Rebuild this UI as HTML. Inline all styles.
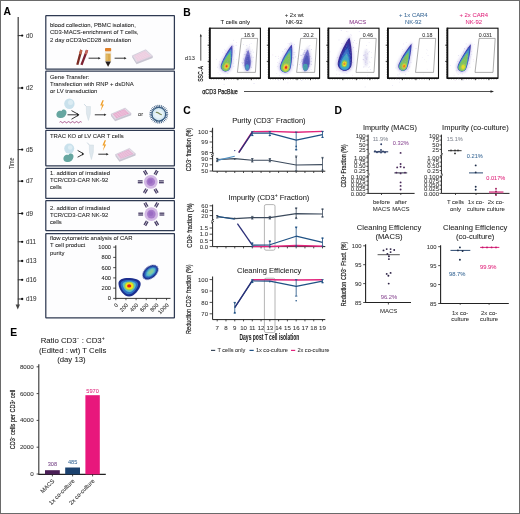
<!DOCTYPE html><html><head><meta charset="utf-8"><style>html,body{margin:0;padding:0;background:#fff;}svg{display:block;will-change:transform;}text{font-family:"Liberation Sans",sans-serif;}</style></head><body>
<svg width="520" height="514" viewBox="0 0 520 514">
<defs>
<filter id="bl" x="-50%" y="-50%" width="200%" height="200%"><feGaussianBlur stdDeviation="0.8"/></filter>
<filter id="bl2" x="-50%" y="-50%" width="200%" height="200%"><feGaussianBlur stdDeviation="0.5"/></filter>
<filter id="bl3" x="-50%" y="-50%" width="200%" height="200%"><feGaussianBlur stdDeviation="1.2"/></filter>
</defs>
<rect x="0" y="0" width="520" height="514" fill="#fff"/>
<text x="3.6" y="15.3" font-size="10.3" fill="#000" text-anchor="start" font-weight="bold"  stroke="#000" stroke-width="0.06">A</text>
<text x="183.2" y="15.6" font-size="10.3" fill="#000" text-anchor="start" font-weight="bold"  stroke="#000" stroke-width="0.06">B</text>
<text x="183.2" y="114" font-size="10.3" fill="#000" text-anchor="start" font-weight="bold"  stroke="#000" stroke-width="0.06">C</text>
<text x="334.6" y="114.2" font-size="10.3" fill="#000" text-anchor="start" font-weight="bold"  stroke="#000" stroke-width="0.06">D</text>
<text x="10.2" y="335.6" font-size="10.3" fill="#000" text-anchor="start" font-weight="bold"  stroke="#000" stroke-width="0.06">E</text>
<line x1="18.2" y1="17" x2="18.2" y2="306" stroke="#4a4a4a" stroke-width="1.3" />
<path d="M15.6,304.5 L20,304.5 L17.8,309.5 Z" fill="#444"/>
<line x1="17.8" y1="35.6" x2="22" y2="35.6" stroke="#333" stroke-width="1" />
<circle cx="22.2" cy="35.6" r="1.15" fill="#111"/>
<text x="25.9" y="37.800000000000004" font-size="6.3" fill="#333" text-anchor="start" font-weight="normal"  stroke="#333" stroke-width="0.06">d0</text>
<line x1="17.8" y1="88" x2="22" y2="88" stroke="#333" stroke-width="1" />
<circle cx="22.2" cy="88" r="1.15" fill="#111"/>
<text x="25.9" y="90.2" font-size="6.3" fill="#333" text-anchor="start" font-weight="normal"  stroke="#333" stroke-width="0.06">d2</text>
<line x1="17.8" y1="149.6" x2="22" y2="149.6" stroke="#333" stroke-width="1" />
<circle cx="22.2" cy="149.6" r="1.15" fill="#111"/>
<text x="25.9" y="151.79999999999998" font-size="6.3" fill="#333" text-anchor="start" font-weight="normal"  stroke="#333" stroke-width="0.06">d5</text>
<line x1="17.8" y1="181.2" x2="22" y2="181.2" stroke="#333" stroke-width="1" />
<circle cx="22.2" cy="181.2" r="1.15" fill="#111"/>
<text x="25.9" y="183.39999999999998" font-size="6.3" fill="#333" text-anchor="start" font-weight="normal"  stroke="#333" stroke-width="0.06">d7</text>
<line x1="17.8" y1="213.5" x2="22" y2="213.5" stroke="#333" stroke-width="1" />
<circle cx="22.2" cy="213.5" r="1.15" fill="#111"/>
<text x="25.9" y="215.7" font-size="6.3" fill="#333" text-anchor="start" font-weight="normal"  stroke="#333" stroke-width="0.06">d9</text>
<line x1="17.8" y1="241.8" x2="22" y2="241.8" stroke="#333" stroke-width="1" />
<circle cx="22.2" cy="241.8" r="1.15" fill="#111"/>
<text x="25.9" y="244.0" font-size="6.3" fill="#333" text-anchor="start" font-weight="normal"  stroke="#333" stroke-width="0.06">d11</text>
<line x1="17.8" y1="261" x2="22" y2="261" stroke="#333" stroke-width="1" />
<circle cx="22.2" cy="261" r="1.15" fill="#111"/>
<text x="25.9" y="263.2" font-size="6.3" fill="#333" text-anchor="start" font-weight="normal"  stroke="#333" stroke-width="0.06">d13</text>
<line x1="17.8" y1="279.8" x2="22" y2="279.8" stroke="#333" stroke-width="1" />
<circle cx="22.2" cy="279.8" r="1.15" fill="#111"/>
<text x="25.9" y="282.0" font-size="6.3" fill="#333" text-anchor="start" font-weight="normal"  stroke="#333" stroke-width="0.06">d16</text>
<line x1="17.8" y1="299" x2="22" y2="299" stroke="#333" stroke-width="1" />
<circle cx="22.2" cy="299" r="1.15" fill="#111"/>
<text x="25.9" y="301.2" font-size="6.3" fill="#333" text-anchor="start" font-weight="normal"  stroke="#333" stroke-width="0.06">d19</text>
<text x="13.6" y="163.2" font-size="7.2" fill="#333" text-anchor="middle" transform="rotate(-90 13.6 163.2)" textLength="11.4" lengthAdjust="spacingAndGlyphs" stroke="#333" stroke-width="0.06">Time</text>
<rect x="45.8" y="15.6" width="128.6" height="53.6" rx="0.4" fill="#fdfdfe" stroke="#2f3a52" stroke-width="1.25"/>
<rect x="45.8" y="71.2" width="128.6" height="57.2" rx="0.4" fill="#fdfdfe" stroke="#2f3a52" stroke-width="1.25"/>
<rect x="45.8" y="130.4" width="128.6" height="35.5" rx="0.4" fill="#fdfdfe" stroke="#2f3a52" stroke-width="1.25"/>
<rect x="45.8" y="168.3" width="128.6" height="30.0" rx="0.4" fill="#fdfdfe" stroke="#2f3a52" stroke-width="1.25"/>
<rect x="45.8" y="200.6" width="128.6" height="30.099999999999994" rx="0.4" fill="#fdfdfe" stroke="#2f3a52" stroke-width="1.25"/>
<rect x="45.8" y="233.6" width="128.6" height="84.20000000000002" rx="0.4" fill="#fdfdfe" stroke="#2f3a52" stroke-width="1.25"/>
<text x="50" y="27.0" font-size="5.9" fill="#222" text-anchor="start" font-weight="normal"  stroke="#222" stroke-width="0.06">blood collection, PBMC isolation,</text>
<text x="50" y="34.3" font-size="5.9" fill="#222" text-anchor="start" font-weight="normal"  stroke="#222" stroke-width="0.06">CD3-MACS-enrichment of T cells,</text>
<text x="50" y="41.6" font-size="5.9" fill="#222" text-anchor="start" font-weight="normal"  stroke="#222" stroke-width="0.06">2 day αCD3/αCD28 stimulation</text>
<text x="50" y="78.7" font-size="5.9" fill="#222" text-anchor="start" font-weight="normal"  stroke="#222" stroke-width="0.06">Gene Transfer:</text>
<text x="50" y="85.60000000000001" font-size="5.9" fill="#222" text-anchor="start" font-weight="normal"  stroke="#222" stroke-width="0.06">Transfection with RNP + dsDNA</text>
<text x="50" y="92.5" font-size="5.9" fill="#222" text-anchor="start" font-weight="normal"  stroke="#222" stroke-width="0.06">or LV transduction</text>
<text x="50" y="137.7" font-size="5.9" fill="#222" text-anchor="start" font-weight="normal"  stroke="#222" stroke-width="0.06">TRAC KO of LV CAR T cells</text>
<text x="50" y="175.2" font-size="5.9" fill="#222" text-anchor="start" font-weight="normal"  stroke="#222" stroke-width="0.06">1. addition of irradiated</text>
<text x="50" y="182.29999999999998" font-size="5.9" fill="#222" text-anchor="start" font-weight="normal"  stroke="#222" stroke-width="0.06">TCR/CD3-CAR NK-92</text>
<text x="50" y="189.39999999999998" font-size="5.9" fill="#222" text-anchor="start" font-weight="normal"  stroke="#222" stroke-width="0.06">cells</text>
<text x="50" y="209.5" font-size="5.9" fill="#222" text-anchor="start" font-weight="normal"  stroke="#222" stroke-width="0.06">2. addition of irradiated</text>
<text x="50" y="216.5" font-size="5.9" fill="#222" text-anchor="start" font-weight="normal"  stroke="#222" stroke-width="0.06">TCR/CD3-CAR NK-92</text>
<text x="50" y="223.5" font-size="5.9" fill="#222" text-anchor="start" font-weight="normal"  stroke="#222" stroke-width="0.06">cells</text>
<text x="50" y="240.3" font-size="5.9" fill="#222" text-anchor="start" font-weight="normal"  stroke="#222" stroke-width="0.06">flow cytometric analysis of CAR</text>
<text x="50" y="247.4" font-size="5.9" fill="#222" text-anchor="start" font-weight="normal"  stroke="#222" stroke-width="0.06">T cell product</text>
<text x="50" y="254.5" font-size="5.9" fill="#222" text-anchor="start" font-weight="normal"  stroke="#222" stroke-width="0.06">purity</text>
<g>
<path d="M80.2,49.6 L82.4,50.4 L78.4,65 L76.2,64.4 Z" fill="#7a2a22"/>
<path d="M80.2,49.6 L82.4,50.4 L81.2,54.4 L79.0,53.7 Z" fill="#c4664a"/>
<path d="M86.0,49.8 L88.2,50.6 L82.6,65.2 L80.4,64.6 Z" fill="#7e2232"/>
<path d="M86.0,49.8 L88.2,50.6 L87.0,54.6 L84.8,53.9 Z" fill="#c86a5e"/>
</g>
<line x1="88.6" y1="58.2" x2="99.1" y2="58.2" stroke="#222" stroke-width="0.9" />
<path d="M98.39999999999999,57.0 L100.6,58.2 L98.39999999999999,59.400000000000006 Z" fill="#222"/>
<path d="M105.3,51 L110.9,51 L110.9,61.6 L108.1,66.6 L105.3,61.6 Z" fill="#f3ebdc" stroke="#d9cdb8" stroke-width="0.3"/>
<rect x="105.6" y="53.6" width="5" height="7.6" fill="#d6a23e" opacity="0.9"/>
<rect x="106.4" y="54.4" width="1.2" height="6" fill="#e9c77a" opacity="0.8"/>
<path d="M105.3,61.4 L110.9,61.4 L108.1,66.8 Z" fill="#231c1c"/>
<rect x="105.0" y="48.0" width="6.2" height="3.2" rx="0.8" fill="#e0802a"/>
<line x1="114.6" y1="58.2" x2="125.0" y2="58.2" stroke="#222" stroke-width="0.9" />
<path d="M124.3,57.0 L126.5,58.2 L124.3,59.400000000000006 Z" fill="#222"/>
<path d="M132.3,55.8 L136.5,62.5 L152.7,56.2 L152.7,58.0 L136.5,64.3 L132.3,57.599999999999994 Z" fill="#c9c6d2" opacity="1"/>
<path d="M132.3,55.8 L145.8,49.7 L152.7,56.2 L136.5,62.5 Z" fill="#e4dbe6" stroke="#bdb5c8" stroke-width="0.5" opacity="1"/>
<path d="M134.21,55.85 L145.00,50.97 L150.52,56.17 L137.56,61.21 Z" fill="#ecccdf" opacity="1"/>
<line x1="136.00" y1="55.04" x2="139.72" y2="60.37" stroke="#f3dcea" stroke-width="0.35"/>
<line x1="137.81" y1="54.22" x2="141.88" y2="59.53" stroke="#f3dcea" stroke-width="0.35"/>
<line x1="139.61" y1="53.41" x2="144.04" y2="58.69" stroke="#f3dcea" stroke-width="0.35"/>
<line x1="141.41" y1="52.60" x2="146.20" y2="57.85" stroke="#f3dcea" stroke-width="0.35"/>
<line x1="143.20" y1="51.78" x2="148.36" y2="57.01" stroke="#f3dcea" stroke-width="0.35"/>
<line x1="135.05" y1="57.19" x2="146.38" y2="52.27" stroke="#f3dcea" stroke-width="0.35"/>
<line x1="135.88" y1="58.53" x2="147.76" y2="53.57" stroke="#f3dcea" stroke-width="0.35"/>
<line x1="136.72" y1="59.87" x2="149.14" y2="54.87" stroke="#f3dcea" stroke-width="0.35"/>
<circle cx="69.4" cy="103.7" r="5.2" fill="#c9e1ec"/>
<circle cx="70.5" cy="102.5" r="2.5" fill="#dcecf3"/>
<path d="M56.5,115.5 C56,112 59,110 61.5,111 C63,108.5 67,109.5 66.5,113 C66,116.5 63,118.5 60,118 C58,117.8 56.8,117 56.5,115.5 Z" fill="#66a6a0"/>
<path d="M59.6,122.2 q1,-1.2 2,0 t2,0 t2,0 t2,0 t2,0 t2,0 t2,0 t2,0 t2,0 t2,0 t2,0" fill="none" stroke="#a24a84" stroke-width="0.95"/>
<line x1="67.5" y1="114.8" x2="78.6" y2="114.8" stroke="#222" stroke-width="0.9" />
<line x1="71.5" y1="110.6" x2="78.4" y2="114.4" stroke="#222" stroke-width="0.9" />
<line x1="71.5" y1="119.2" x2="78.4" y2="115.2" stroke="#222" stroke-width="0.9" />
<path d="M77,113.2 L79.4,114.8 L77,116.4 Z" fill="#222"/>
<path d="M86.3,106.5 L90.5,106.5 L90.3,114 L88.4,120.5 L86.5,114 Z" fill="#dfe8ee" stroke="#c5d3dc" stroke-width="0.4"/>
<path d="M86.3,106.5 L84.2,104.2" stroke="#c5d3dc" stroke-width="0.9"/>
<path d="M102.4,100.2 L100.2,105.6 L102,105.6 L100.6,111 L104,104.6 L102.2,104.6 L103.8,100.2 Z" fill="#f0a02c"/>
<line x1="94.8" y1="114.8" x2="104.9" y2="114.8" stroke="#222" stroke-width="0.9" />
<path d="M104.2,113.6 L106.4,114.8 L104.2,116.0 Z" fill="#222"/>
<path d="M111,114.2 L115.1,119.4 L131.2,113.5 L131.2,115.3 L115.1,121.2 L111,116.0 Z" fill="#c9c6d2" opacity="1"/>
<path d="M111,114.2 L125.2,108.1 L131.2,113.5 L115.1,119.4 Z" fill="#e4dbe6" stroke="#bdb5c8" stroke-width="0.5" opacity="1"/>
<path d="M112.92,114.12 L124.28,109.24 L129.08,113.56 L116.20,118.28 Z" fill="#e6a6cb" opacity="1"/>
<line x1="114.82" y1="113.31" x2="118.35" y2="117.49" stroke="#f3dcea" stroke-width="0.35"/>
<line x1="116.71" y1="112.49" x2="120.50" y2="116.71" stroke="#f3dcea" stroke-width="0.35"/>
<line x1="118.60" y1="111.68" x2="122.64" y2="115.92" stroke="#f3dcea" stroke-width="0.35"/>
<line x1="120.50" y1="110.87" x2="124.79" y2="115.13" stroke="#f3dcea" stroke-width="0.35"/>
<line x1="122.39" y1="110.05" x2="126.94" y2="114.35" stroke="#f3dcea" stroke-width="0.35"/>
<line x1="113.75" y1="115.16" x2="125.48" y2="110.32" stroke="#f3dcea" stroke-width="0.35"/>
<line x1="114.56" y1="116.20" x2="126.68" y2="111.40" stroke="#f3dcea" stroke-width="0.35"/>
<line x1="115.38" y1="117.24" x2="127.88" y2="112.48" stroke="#f3dcea" stroke-width="0.35"/>
<text x="140.6" y="116.2" font-size="5.6" fill="#333" text-anchor="middle" font-weight="normal"  stroke="#333" stroke-width="0.06">or</text>
<line x1="165.4" y1="114.2" x2="168.2" y2="114.2" stroke="#3d5f84" stroke-width="0.95" />
<line x1="165.26" y1="115.57" x2="167.99" y2="116.15" stroke="#3d5f84" stroke-width="0.95" />
<line x1="164.83" y1="116.88" x2="167.39" y2="118.02" stroke="#3d5f84" stroke-width="0.95" />
<line x1="164.14" y1="118.08" x2="166.4" y2="119.73" stroke="#3d5f84" stroke-width="0.95" />
<line x1="163.22" y1="119.1" x2="165.09" y2="121.19" stroke="#3d5f84" stroke-width="0.95" />
<line x1="162.1" y1="119.92" x2="163.5" y2="122.34" stroke="#3d5f84" stroke-width="0.95" />
<line x1="160.84" y1="120.48" x2="161.7" y2="123.14" stroke="#3d5f84" stroke-width="0.95" />
<line x1="159.49" y1="120.76" x2="159.78" y2="123.55" stroke="#3d5f84" stroke-width="0.95" />
<line x1="158.11" y1="120.76" x2="157.82" y2="123.55" stroke="#3d5f84" stroke-width="0.95" />
<line x1="156.76" y1="120.48" x2="155.9" y2="123.14" stroke="#3d5f84" stroke-width="0.95" />
<line x1="155.5" y1="119.92" x2="154.1" y2="122.34" stroke="#3d5f84" stroke-width="0.95" />
<line x1="154.38" y1="119.1" x2="152.51" y2="121.19" stroke="#3d5f84" stroke-width="0.95" />
<line x1="153.46" y1="118.08" x2="151.2" y2="119.73" stroke="#3d5f84" stroke-width="0.95" />
<line x1="152.77" y1="116.88" x2="150.21" y2="118.02" stroke="#3d5f84" stroke-width="0.95" />
<line x1="152.34" y1="115.57" x2="149.61" y2="116.15" stroke="#3d5f84" stroke-width="0.95" />
<line x1="152.2" y1="114.2" x2="149.4" y2="114.2" stroke="#3d5f84" stroke-width="0.95" />
<line x1="152.34" y1="112.83" x2="149.61" y2="112.25" stroke="#3d5f84" stroke-width="0.95" />
<line x1="152.77" y1="111.52" x2="150.21" y2="110.38" stroke="#3d5f84" stroke-width="0.95" />
<line x1="153.46" y1="110.32" x2="151.2" y2="108.67" stroke="#3d5f84" stroke-width="0.95" />
<line x1="154.38" y1="109.3" x2="152.51" y2="107.21" stroke="#3d5f84" stroke-width="0.95" />
<line x1="155.5" y1="108.48" x2="154.1" y2="106.06" stroke="#3d5f84" stroke-width="0.95" />
<line x1="156.76" y1="107.92" x2="155.9" y2="105.26" stroke="#3d5f84" stroke-width="0.95" />
<line x1="158.11" y1="107.64" x2="157.82" y2="104.85" stroke="#3d5f84" stroke-width="0.95" />
<line x1="159.49" y1="107.64" x2="159.78" y2="104.85" stroke="#3d5f84" stroke-width="0.95" />
<line x1="160.84" y1="107.92" x2="161.7" y2="105.26" stroke="#3d5f84" stroke-width="0.95" />
<line x1="162.1" y1="108.48" x2="163.5" y2="106.06" stroke="#3d5f84" stroke-width="0.95" />
<line x1="163.22" y1="109.3" x2="165.09" y2="107.21" stroke="#3d5f84" stroke-width="0.95" />
<line x1="164.14" y1="110.32" x2="166.4" y2="108.67" stroke="#3d5f84" stroke-width="0.95" />
<line x1="164.83" y1="111.52" x2="167.39" y2="110.38" stroke="#3d5f84" stroke-width="0.95" />
<line x1="165.26" y1="112.83" x2="167.99" y2="112.25" stroke="#3d5f84" stroke-width="0.95" />
<circle cx="158.8" cy="114.2" r="6.8" fill="#d6eaf3" stroke="#3a5d82" stroke-width="1.2"/>
<circle cx="158.8" cy="114.2" r="4.4" fill="#e8f3f8"/>
<path d="M155.8,112.60000000000001 q1.5,-0.6 3,0.6 t3,1.6" fill="none" stroke="#7b8a5a" stroke-width="1.1"/>
<circle cx="69.2" cy="148.6" r="5" fill="#c9e1ec"/>
<circle cx="70.2" cy="147.5" r="2.3" fill="#dcecf3"/>
<path d="M63.5,159.5 C63,156 66,154 68.5,155 C70,152.5 74,153.5 73.5,157 C73,160.5 70,162.5 67,162 C65,161.8 63.8,161 63.5,159.5 Z" fill="#66a6a0"/>
<line x1="77.6" y1="150.4" x2="83.2" y2="153.6" stroke="#222" stroke-width="0.9" />
<line x1="77.6" y1="157.2" x2="83.2" y2="154.2" stroke="#222" stroke-width="0.9" />
<path d="M82,152.4 L84.2,153.9 L82,155.4 Z" fill="#222"/>
<path d="M89.3,145 L93.5,145 L93.3,152.5 L91.4,159.5 L89.5,152.5 Z" fill="#dfe8ee" stroke="#c5d3dc" stroke-width="0.4"/>
<path d="M89.3,145 L87.2,142.6" stroke="#c5d3dc" stroke-width="0.9"/>
<path d="M104.6,140.2 L102.4,145.6 L104.2,145.6 L102.8,151 L106.2,144.6 L104.4,144.6 L106,140.2 Z" fill="#f0a02c"/>
<line x1="98.3" y1="154.2" x2="107.1" y2="154.2" stroke="#222" stroke-width="0.9" />
<path d="M106.39999999999999,153.0 L108.6,154.2 L106.39999999999999,155.39999999999998 Z" fill="#222"/>
<path d="M115.5,154.5 L119.5,160 L135.5,153.8 L135.5,155.60000000000002 L119.5,161.8 L115.5,156.3 Z" fill="#c9c6d2" opacity="1"/>
<path d="M115.5,154.5 L129.5,148.4 L135.5,153.8 L119.5,160 Z" fill="#e4dbe6" stroke="#bdb5c8" stroke-width="0.5" opacity="1"/>
<path d="M117.40,154.44 L128.60,149.56 L133.40,153.88 L120.60,158.84 Z" fill="#e3aed0" opacity="1"/>
<line x1="119.27" y1="153.62" x2="122.73" y2="158.01" stroke="#f3dcea" stroke-width="0.35"/>
<line x1="121.13" y1="152.81" x2="124.87" y2="157.18" stroke="#f3dcea" stroke-width="0.35"/>
<line x1="123.00" y1="152.00" x2="127.00" y2="156.36" stroke="#f3dcea" stroke-width="0.35"/>
<line x1="124.87" y1="151.18" x2="129.13" y2="155.53" stroke="#f3dcea" stroke-width="0.35"/>
<line x1="126.73" y1="150.37" x2="131.27" y2="154.70" stroke="#f3dcea" stroke-width="0.35"/>
<line x1="118.20" y1="155.53" x2="129.80" y2="150.63" stroke="#f3dcea" stroke-width="0.35"/>
<line x1="119.00" y1="156.63" x2="131.00" y2="151.72" stroke="#f3dcea" stroke-width="0.35"/>
<line x1="119.80" y1="157.74" x2="132.20" y2="152.80" stroke="#f3dcea" stroke-width="0.35"/>
<line x1="159.0" y1="180.9" x2="163.8" y2="180.9" stroke="#463c64" stroke-width="1.3" />
<line x1="159.0" y1="182.7" x2="163.8" y2="182.7" stroke="#463c64" stroke-width="1.3" />
<line x1="155.68" y1="188.45" x2="158.08" y2="192.61" stroke="#463c64" stroke-width="1.3" />
<line x1="154.12" y1="189.35" x2="156.52" y2="193.51" stroke="#463c64" stroke-width="1.3" />
<line x1="147.48" y1="189.35" x2="145.08" y2="193.51" stroke="#463c64" stroke-width="1.3" />
<line x1="145.92" y1="188.45" x2="143.52" y2="192.61" stroke="#463c64" stroke-width="1.3" />
<line x1="142.6" y1="182.7" x2="137.8" y2="182.7" stroke="#463c64" stroke-width="1.3" />
<line x1="142.6" y1="180.9" x2="137.8" y2="180.9" stroke="#463c64" stroke-width="1.3" />
<line x1="145.92" y1="175.15" x2="143.52" y2="170.99" stroke="#463c64" stroke-width="1.3" />
<line x1="147.48" y1="174.25" x2="145.08" y2="170.09" stroke="#463c64" stroke-width="1.3" />
<line x1="154.12" y1="174.25" x2="156.52" y2="170.09" stroke="#463c64" stroke-width="1.3" />
<line x1="155.68" y1="175.15" x2="158.08" y2="170.99" stroke="#463c64" stroke-width="1.3" />
<circle cx="150.8" cy="181.8" r="6.9" fill="#d2b8e4"/>
<circle cx="150.8" cy="181.8" r="4.3" fill="#a87ccb"/>
<circle cx="150.3" cy="181.4" r="2.4" fill="#9464bf" opacity="0.7"/>
<line x1="159.5" y1="213.2" x2="164.3" y2="213.2" stroke="#463c64" stroke-width="1.3" />
<line x1="159.5" y1="215.0" x2="164.3" y2="215.0" stroke="#463c64" stroke-width="1.3" />
<line x1="156.18" y1="220.75" x2="158.58" y2="224.91" stroke="#463c64" stroke-width="1.3" />
<line x1="154.62" y1="221.65" x2="157.02" y2="225.81" stroke="#463c64" stroke-width="1.3" />
<line x1="147.98" y1="221.65" x2="145.58" y2="225.81" stroke="#463c64" stroke-width="1.3" />
<line x1="146.42" y1="220.75" x2="144.02" y2="224.91" stroke="#463c64" stroke-width="1.3" />
<line x1="143.1" y1="215.0" x2="138.3" y2="215.0" stroke="#463c64" stroke-width="1.3" />
<line x1="143.1" y1="213.2" x2="138.3" y2="213.2" stroke="#463c64" stroke-width="1.3" />
<line x1="146.42" y1="207.45" x2="144.02" y2="203.29" stroke="#463c64" stroke-width="1.3" />
<line x1="147.98" y1="206.55" x2="145.58" y2="202.39" stroke="#463c64" stroke-width="1.3" />
<line x1="154.62" y1="206.55" x2="157.02" y2="202.39" stroke="#463c64" stroke-width="1.3" />
<line x1="156.18" y1="207.45" x2="158.58" y2="203.29" stroke="#463c64" stroke-width="1.3" />
<circle cx="151.3" cy="214.1" r="6.9" fill="#d2b8e4"/>
<circle cx="151.3" cy="214.1" r="4.3" fill="#a87ccb"/>
<circle cx="150.8" cy="213.7" r="2.4" fill="#9464bf" opacity="0.7"/>
<line x1="115.8" y1="245.3" x2="115.8" y2="298.4" stroke="#222" stroke-width="1" />
<line x1="115.8" y1="298.4" x2="170.5" y2="298.4" stroke="#222" stroke-width="0.9" />
<line x1="113.2" y1="298.4" x2="115.8" y2="298.4" stroke="#222" stroke-width="0.8" />
<text x="111.0" y="300.45" font-size="5.7" fill="#222" text-anchor="end" font-weight="normal"  stroke="#222" stroke-width="0.06">0</text>
<line x1="113.2" y1="288.15" x2="115.8" y2="288.15" stroke="#222" stroke-width="0.8" />
<text x="111.0" y="290.2" font-size="5.7" fill="#222" text-anchor="end" font-weight="normal"  stroke="#222" stroke-width="0.06">200</text>
<line x1="113.2" y1="277.9" x2="115.8" y2="277.9" stroke="#222" stroke-width="0.8" />
<text x="111.0" y="279.95" font-size="5.7" fill="#222" text-anchor="end" font-weight="normal"  stroke="#222" stroke-width="0.06">400</text>
<line x1="113.2" y1="267.65" x2="115.8" y2="267.65" stroke="#222" stroke-width="0.8" />
<text x="111.0" y="269.7" font-size="5.7" fill="#222" text-anchor="end" font-weight="normal"  stroke="#222" stroke-width="0.06">600</text>
<line x1="113.2" y1="257.4" x2="115.8" y2="257.4" stroke="#222" stroke-width="0.8" />
<text x="111.0" y="259.45" font-size="5.7" fill="#222" text-anchor="end" font-weight="normal"  stroke="#222" stroke-width="0.06">800</text>
<line x1="113.2" y1="247.14999999999998" x2="115.8" y2="247.14999999999998" stroke="#222" stroke-width="0.8" />
<text x="111.0" y="249.2" font-size="5.7" fill="#222" text-anchor="end" font-weight="normal"  stroke="#222" stroke-width="0.06">1000</text>
<line x1="115.8" y1="298.4" x2="115.8" y2="300.2" stroke="#222" stroke-width="0.8" />
<text x="118.39999999999999" y="305.59999999999997" font-size="5.6" fill="#222" text-anchor="end" transform="rotate(-45 118.39999999999999 305.59999999999997)" stroke="#222" stroke-width="0.06">0</text>
<line x1="125.95" y1="298.4" x2="125.95" y2="300.2" stroke="#222" stroke-width="0.8" />
<text x="128.55" y="305.59999999999997" font-size="5.6" fill="#222" text-anchor="end" transform="rotate(-45 128.55 305.59999999999997)" stroke="#222" stroke-width="0.06">200</text>
<line x1="136.1" y1="298.4" x2="136.1" y2="300.2" stroke="#222" stroke-width="0.8" />
<text x="138.7" y="305.59999999999997" font-size="5.6" fill="#222" text-anchor="end" transform="rotate(-45 138.7 305.59999999999997)" stroke="#222" stroke-width="0.06">400</text>
<line x1="146.25" y1="298.4" x2="146.25" y2="300.2" stroke="#222" stroke-width="0.8" />
<text x="148.85" y="305.59999999999997" font-size="5.6" fill="#222" text-anchor="end" transform="rotate(-45 148.85 305.59999999999997)" stroke="#222" stroke-width="0.06">600</text>
<line x1="156.4" y1="298.4" x2="156.4" y2="300.2" stroke="#222" stroke-width="0.8" />
<text x="159.0" y="305.59999999999997" font-size="5.6" fill="#222" text-anchor="end" transform="rotate(-45 159.0 305.59999999999997)" stroke="#222" stroke-width="0.06">800</text>
<line x1="166.55" y1="298.4" x2="166.55" y2="300.2" stroke="#222" stroke-width="0.8" />
<text x="169.15" y="305.59999999999997" font-size="5.6" fill="#222" text-anchor="end" transform="rotate(-45 169.15 305.59999999999997)" stroke="#222" stroke-width="0.06">1000</text>
<g filter="url(#bl2)">
<path d="M118.5,284 C118,279 124,277.6 130,278 C137,278.4 141.5,280.5 140.6,285 C139.8,289.5 134,296.8 129,296.6 C124,296.4 119,290 118.5,284 Z" fill="#1c2f8e"/>
<path d="M120.6,284.4 C120.4,280.6 125,279.8 130,280.1 C135.5,280.4 138.6,282 138,285.2 C137.4,288.6 133,294.4 129,294.3 C125,294.2 120.9,289 120.6,284.4 Z" fill="#2f6fc4"/>
<path d="M122.6,284.6 C122.6,282 126,281.4 130,281.6 C134,281.8 136.2,283 135.8,285.4 C135.4,288 132.4,292.2 129.2,292.1 C126,292 122.8,288 122.6,284.6 Z" fill="#5cc0c4"/>
<ellipse cx="129.3" cy="286" rx="5" ry="4.3" fill="#a8d048"/>
<ellipse cx="129.3" cy="286" rx="3.8" ry="3.2" fill="#f2e21e"/>
<ellipse cx="129.2" cy="285.9" rx="2.1" ry="1.7" fill="#e41e1e"/>
</g>
<g filter="url(#bl2)" transform="rotate(-40 150.4 272.3)">
<ellipse cx="150.4" cy="272.3" rx="9" ry="6" fill="#1c2f8e"/>
<ellipse cx="150.6" cy="272.3" rx="7.2" ry="4.3" fill="#2f6fc4"/>
<ellipse cx="150.8" cy="272.3" rx="5.4" ry="3" fill="#5cc0c4"/>
<ellipse cx="151" cy="272.3" rx="3.2" ry="1.8" fill="#88cc9c"/>
</g>
<line x1="208.4" y1="77.0" x2="209.8" y2="77.0" stroke="#333" stroke-width="0.45" />
<line x1="208.4" y1="74.55" x2="209.8" y2="74.55" stroke="#333" stroke-width="0.45" />
<line x1="208.4" y1="72.1" x2="209.8" y2="72.1" stroke="#333" stroke-width="0.45" />
<line x1="208.4" y1="69.65" x2="209.8" y2="69.65" stroke="#333" stroke-width="0.45" />
<line x1="208.4" y1="67.2" x2="209.8" y2="67.2" stroke="#333" stroke-width="0.45" />
<line x1="208.4" y1="64.75" x2="209.8" y2="64.75" stroke="#333" stroke-width="0.45" />
<line x1="208.4" y1="62.3" x2="209.8" y2="62.3" stroke="#333" stroke-width="0.45" />
<line x1="208.4" y1="59.85" x2="209.8" y2="59.85" stroke="#333" stroke-width="0.45" />
<line x1="208.4" y1="57.4" x2="209.8" y2="57.4" stroke="#333" stroke-width="0.45" />
<line x1="208.4" y1="54.95" x2="209.8" y2="54.95" stroke="#333" stroke-width="0.45" />
<line x1="208.4" y1="52.5" x2="209.8" y2="52.5" stroke="#333" stroke-width="0.45" />
<line x1="208.4" y1="50.05" x2="209.8" y2="50.05" stroke="#333" stroke-width="0.45" />
<line x1="208.4" y1="47.6" x2="209.8" y2="47.6" stroke="#333" stroke-width="0.45" />
<line x1="208.4" y1="45.15" x2="209.8" y2="45.15" stroke="#333" stroke-width="0.45" />
<line x1="208.4" y1="42.7" x2="209.8" y2="42.7" stroke="#333" stroke-width="0.45" />
<line x1="208.4" y1="40.25" x2="209.8" y2="40.25" stroke="#333" stroke-width="0.45" />
<line x1="208.4" y1="37.8" x2="209.8" y2="37.8" stroke="#333" stroke-width="0.45" />
<line x1="208.4" y1="35.35" x2="209.8" y2="35.35" stroke="#333" stroke-width="0.45" />
<line x1="208.4" y1="32.9" x2="209.8" y2="32.9" stroke="#333" stroke-width="0.45" />
<line x1="208.4" y1="30.45" x2="209.8" y2="30.45" stroke="#333" stroke-width="0.45" />
<line x1="207.60000000000002" y1="45.2" x2="209.8" y2="45.2" stroke="#111" stroke-width="0.8" />
<line x1="207.60000000000002" y1="61.4" x2="209.8" y2="61.4" stroke="#111" stroke-width="0.8" />
<line x1="211.3" y1="78.2" x2="211.3" y2="79.60000000000001" stroke="#333" stroke-width="0.45" />
<line x1="213.8" y1="78.2" x2="213.8" y2="79.60000000000001" stroke="#333" stroke-width="0.45" />
<line x1="216.3" y1="78.2" x2="216.3" y2="79.60000000000001" stroke="#333" stroke-width="0.45" />
<line x1="218.8" y1="78.2" x2="218.8" y2="79.60000000000001" stroke="#333" stroke-width="0.45" />
<line x1="221.3" y1="78.2" x2="221.3" y2="79.60000000000001" stroke="#333" stroke-width="0.45" />
<line x1="223.8" y1="78.2" x2="223.8" y2="79.60000000000001" stroke="#333" stroke-width="0.45" />
<line x1="226.3" y1="78.2" x2="226.3" y2="79.60000000000001" stroke="#333" stroke-width="0.45" />
<line x1="228.8" y1="78.2" x2="228.8" y2="79.60000000000001" stroke="#333" stroke-width="0.45" />
<line x1="231.3" y1="78.2" x2="231.3" y2="79.60000000000001" stroke="#333" stroke-width="0.45" />
<line x1="233.8" y1="78.2" x2="233.8" y2="79.60000000000001" stroke="#333" stroke-width="0.45" />
<line x1="236.3" y1="78.2" x2="236.3" y2="79.60000000000001" stroke="#333" stroke-width="0.45" />
<line x1="238.8" y1="78.2" x2="238.8" y2="79.60000000000001" stroke="#333" stroke-width="0.45" />
<line x1="241.3" y1="78.2" x2="241.3" y2="79.60000000000001" stroke="#333" stroke-width="0.45" />
<line x1="243.8" y1="78.2" x2="243.8" y2="79.60000000000001" stroke="#333" stroke-width="0.45" />
<line x1="246.3" y1="78.2" x2="246.3" y2="79.60000000000001" stroke="#333" stroke-width="0.45" />
<line x1="248.8" y1="78.2" x2="248.8" y2="79.60000000000001" stroke="#333" stroke-width="0.45" />
<line x1="251.3" y1="78.2" x2="251.3" y2="79.60000000000001" stroke="#333" stroke-width="0.45" />
<line x1="253.8" y1="78.2" x2="253.8" y2="79.60000000000001" stroke="#333" stroke-width="0.45" />
<line x1="256.3" y1="78.2" x2="256.3" y2="79.60000000000001" stroke="#333" stroke-width="0.45" />
<line x1="258.8" y1="78.2" x2="258.8" y2="79.60000000000001" stroke="#333" stroke-width="0.45" />
<line x1="224.3" y1="78.2" x2="224.3" y2="80.2" stroke="#111" stroke-width="0.8" />
<line x1="237.8" y1="78.2" x2="237.8" y2="80.2" stroke="#111" stroke-width="0.8" />
<line x1="251.3" y1="78.2" x2="251.3" y2="80.2" stroke="#111" stroke-width="0.8" />
<rect x="209.8" y="28.2" width="50.6" height="50.0" fill="none" stroke="#111" stroke-width="1.1"/>
<line x1="209.8" y1="27.7" x2="209.8" y2="78.7" stroke="#111" stroke-width="1.8" />
<line x1="209.3" y1="78.2" x2="260.40000000000003" y2="78.2" stroke="#111" stroke-width="1.4" />
<line x1="267.6" y1="77.0" x2="269.0" y2="77.0" stroke="#333" stroke-width="0.45" />
<line x1="267.6" y1="74.55" x2="269.0" y2="74.55" stroke="#333" stroke-width="0.45" />
<line x1="267.6" y1="72.1" x2="269.0" y2="72.1" stroke="#333" stroke-width="0.45" />
<line x1="267.6" y1="69.65" x2="269.0" y2="69.65" stroke="#333" stroke-width="0.45" />
<line x1="267.6" y1="67.2" x2="269.0" y2="67.2" stroke="#333" stroke-width="0.45" />
<line x1="267.6" y1="64.75" x2="269.0" y2="64.75" stroke="#333" stroke-width="0.45" />
<line x1="267.6" y1="62.3" x2="269.0" y2="62.3" stroke="#333" stroke-width="0.45" />
<line x1="267.6" y1="59.85" x2="269.0" y2="59.85" stroke="#333" stroke-width="0.45" />
<line x1="267.6" y1="57.4" x2="269.0" y2="57.4" stroke="#333" stroke-width="0.45" />
<line x1="267.6" y1="54.95" x2="269.0" y2="54.95" stroke="#333" stroke-width="0.45" />
<line x1="267.6" y1="52.5" x2="269.0" y2="52.5" stroke="#333" stroke-width="0.45" />
<line x1="267.6" y1="50.05" x2="269.0" y2="50.05" stroke="#333" stroke-width="0.45" />
<line x1="267.6" y1="47.6" x2="269.0" y2="47.6" stroke="#333" stroke-width="0.45" />
<line x1="267.6" y1="45.15" x2="269.0" y2="45.15" stroke="#333" stroke-width="0.45" />
<line x1="267.6" y1="42.7" x2="269.0" y2="42.7" stroke="#333" stroke-width="0.45" />
<line x1="267.6" y1="40.25" x2="269.0" y2="40.25" stroke="#333" stroke-width="0.45" />
<line x1="267.6" y1="37.8" x2="269.0" y2="37.8" stroke="#333" stroke-width="0.45" />
<line x1="267.6" y1="35.35" x2="269.0" y2="35.35" stroke="#333" stroke-width="0.45" />
<line x1="267.6" y1="32.9" x2="269.0" y2="32.9" stroke="#333" stroke-width="0.45" />
<line x1="267.6" y1="30.45" x2="269.0" y2="30.45" stroke="#333" stroke-width="0.45" />
<line x1="266.8" y1="45.2" x2="269.0" y2="45.2" stroke="#111" stroke-width="0.8" />
<line x1="266.8" y1="61.4" x2="269.0" y2="61.4" stroke="#111" stroke-width="0.8" />
<line x1="270.5" y1="78.2" x2="270.5" y2="79.60000000000001" stroke="#333" stroke-width="0.45" />
<line x1="273.0" y1="78.2" x2="273.0" y2="79.60000000000001" stroke="#333" stroke-width="0.45" />
<line x1="275.5" y1="78.2" x2="275.5" y2="79.60000000000001" stroke="#333" stroke-width="0.45" />
<line x1="278.0" y1="78.2" x2="278.0" y2="79.60000000000001" stroke="#333" stroke-width="0.45" />
<line x1="280.5" y1="78.2" x2="280.5" y2="79.60000000000001" stroke="#333" stroke-width="0.45" />
<line x1="283.0" y1="78.2" x2="283.0" y2="79.60000000000001" stroke="#333" stroke-width="0.45" />
<line x1="285.5" y1="78.2" x2="285.5" y2="79.60000000000001" stroke="#333" stroke-width="0.45" />
<line x1="288.0" y1="78.2" x2="288.0" y2="79.60000000000001" stroke="#333" stroke-width="0.45" />
<line x1="290.5" y1="78.2" x2="290.5" y2="79.60000000000001" stroke="#333" stroke-width="0.45" />
<line x1="293.0" y1="78.2" x2="293.0" y2="79.60000000000001" stroke="#333" stroke-width="0.45" />
<line x1="295.5" y1="78.2" x2="295.5" y2="79.60000000000001" stroke="#333" stroke-width="0.45" />
<line x1="298.0" y1="78.2" x2="298.0" y2="79.60000000000001" stroke="#333" stroke-width="0.45" />
<line x1="300.5" y1="78.2" x2="300.5" y2="79.60000000000001" stroke="#333" stroke-width="0.45" />
<line x1="303.0" y1="78.2" x2="303.0" y2="79.60000000000001" stroke="#333" stroke-width="0.45" />
<line x1="305.5" y1="78.2" x2="305.5" y2="79.60000000000001" stroke="#333" stroke-width="0.45" />
<line x1="308.0" y1="78.2" x2="308.0" y2="79.60000000000001" stroke="#333" stroke-width="0.45" />
<line x1="310.5" y1="78.2" x2="310.5" y2="79.60000000000001" stroke="#333" stroke-width="0.45" />
<line x1="313.0" y1="78.2" x2="313.0" y2="79.60000000000001" stroke="#333" stroke-width="0.45" />
<line x1="315.5" y1="78.2" x2="315.5" y2="79.60000000000001" stroke="#333" stroke-width="0.45" />
<line x1="318.0" y1="78.2" x2="318.0" y2="79.60000000000001" stroke="#333" stroke-width="0.45" />
<line x1="283.5" y1="78.2" x2="283.5" y2="80.2" stroke="#111" stroke-width="0.8" />
<line x1="297.0" y1="78.2" x2="297.0" y2="80.2" stroke="#111" stroke-width="0.8" />
<line x1="310.5" y1="78.2" x2="310.5" y2="80.2" stroke="#111" stroke-width="0.8" />
<rect x="269.0" y="28.2" width="50.6" height="50.0" fill="none" stroke="#111" stroke-width="1.1"/>
<line x1="269.0" y1="27.7" x2="269.0" y2="78.7" stroke="#111" stroke-width="1.8" />
<line x1="268.5" y1="78.2" x2="319.6" y2="78.2" stroke="#111" stroke-width="1.4" />
<line x1="327.0" y1="77.0" x2="328.4" y2="77.0" stroke="#333" stroke-width="0.45" />
<line x1="327.0" y1="74.55" x2="328.4" y2="74.55" stroke="#333" stroke-width="0.45" />
<line x1="327.0" y1="72.1" x2="328.4" y2="72.1" stroke="#333" stroke-width="0.45" />
<line x1="327.0" y1="69.65" x2="328.4" y2="69.65" stroke="#333" stroke-width="0.45" />
<line x1="327.0" y1="67.2" x2="328.4" y2="67.2" stroke="#333" stroke-width="0.45" />
<line x1="327.0" y1="64.75" x2="328.4" y2="64.75" stroke="#333" stroke-width="0.45" />
<line x1="327.0" y1="62.3" x2="328.4" y2="62.3" stroke="#333" stroke-width="0.45" />
<line x1="327.0" y1="59.85" x2="328.4" y2="59.85" stroke="#333" stroke-width="0.45" />
<line x1="327.0" y1="57.4" x2="328.4" y2="57.4" stroke="#333" stroke-width="0.45" />
<line x1="327.0" y1="54.95" x2="328.4" y2="54.95" stroke="#333" stroke-width="0.45" />
<line x1="327.0" y1="52.5" x2="328.4" y2="52.5" stroke="#333" stroke-width="0.45" />
<line x1="327.0" y1="50.05" x2="328.4" y2="50.05" stroke="#333" stroke-width="0.45" />
<line x1="327.0" y1="47.6" x2="328.4" y2="47.6" stroke="#333" stroke-width="0.45" />
<line x1="327.0" y1="45.15" x2="328.4" y2="45.15" stroke="#333" stroke-width="0.45" />
<line x1="327.0" y1="42.7" x2="328.4" y2="42.7" stroke="#333" stroke-width="0.45" />
<line x1="327.0" y1="40.25" x2="328.4" y2="40.25" stroke="#333" stroke-width="0.45" />
<line x1="327.0" y1="37.8" x2="328.4" y2="37.8" stroke="#333" stroke-width="0.45" />
<line x1="327.0" y1="35.35" x2="328.4" y2="35.35" stroke="#333" stroke-width="0.45" />
<line x1="327.0" y1="32.9" x2="328.4" y2="32.9" stroke="#333" stroke-width="0.45" />
<line x1="327.0" y1="30.45" x2="328.4" y2="30.45" stroke="#333" stroke-width="0.45" />
<line x1="326.2" y1="45.2" x2="328.4" y2="45.2" stroke="#111" stroke-width="0.8" />
<line x1="326.2" y1="61.4" x2="328.4" y2="61.4" stroke="#111" stroke-width="0.8" />
<line x1="329.9" y1="78.2" x2="329.9" y2="79.60000000000001" stroke="#333" stroke-width="0.45" />
<line x1="332.4" y1="78.2" x2="332.4" y2="79.60000000000001" stroke="#333" stroke-width="0.45" />
<line x1="334.9" y1="78.2" x2="334.9" y2="79.60000000000001" stroke="#333" stroke-width="0.45" />
<line x1="337.4" y1="78.2" x2="337.4" y2="79.60000000000001" stroke="#333" stroke-width="0.45" />
<line x1="339.9" y1="78.2" x2="339.9" y2="79.60000000000001" stroke="#333" stroke-width="0.45" />
<line x1="342.4" y1="78.2" x2="342.4" y2="79.60000000000001" stroke="#333" stroke-width="0.45" />
<line x1="344.9" y1="78.2" x2="344.9" y2="79.60000000000001" stroke="#333" stroke-width="0.45" />
<line x1="347.4" y1="78.2" x2="347.4" y2="79.60000000000001" stroke="#333" stroke-width="0.45" />
<line x1="349.9" y1="78.2" x2="349.9" y2="79.60000000000001" stroke="#333" stroke-width="0.45" />
<line x1="352.4" y1="78.2" x2="352.4" y2="79.60000000000001" stroke="#333" stroke-width="0.45" />
<line x1="354.9" y1="78.2" x2="354.9" y2="79.60000000000001" stroke="#333" stroke-width="0.45" />
<line x1="357.4" y1="78.2" x2="357.4" y2="79.60000000000001" stroke="#333" stroke-width="0.45" />
<line x1="359.9" y1="78.2" x2="359.9" y2="79.60000000000001" stroke="#333" stroke-width="0.45" />
<line x1="362.4" y1="78.2" x2="362.4" y2="79.60000000000001" stroke="#333" stroke-width="0.45" />
<line x1="364.9" y1="78.2" x2="364.9" y2="79.60000000000001" stroke="#333" stroke-width="0.45" />
<line x1="367.4" y1="78.2" x2="367.4" y2="79.60000000000001" stroke="#333" stroke-width="0.45" />
<line x1="369.9" y1="78.2" x2="369.9" y2="79.60000000000001" stroke="#333" stroke-width="0.45" />
<line x1="372.4" y1="78.2" x2="372.4" y2="79.60000000000001" stroke="#333" stroke-width="0.45" />
<line x1="374.9" y1="78.2" x2="374.9" y2="79.60000000000001" stroke="#333" stroke-width="0.45" />
<line x1="377.4" y1="78.2" x2="377.4" y2="79.60000000000001" stroke="#333" stroke-width="0.45" />
<line x1="342.9" y1="78.2" x2="342.9" y2="80.2" stroke="#111" stroke-width="0.8" />
<line x1="356.4" y1="78.2" x2="356.4" y2="80.2" stroke="#111" stroke-width="0.8" />
<line x1="369.9" y1="78.2" x2="369.9" y2="80.2" stroke="#111" stroke-width="0.8" />
<rect x="328.4" y="28.2" width="50.6" height="50.0" fill="none" stroke="#111" stroke-width="1.1"/>
<line x1="328.4" y1="27.7" x2="328.4" y2="78.7" stroke="#111" stroke-width="1.8" />
<line x1="327.9" y1="78.2" x2="379.0" y2="78.2" stroke="#111" stroke-width="1.4" />
<line x1="386.5" y1="77.0" x2="387.9" y2="77.0" stroke="#333" stroke-width="0.45" />
<line x1="386.5" y1="74.55" x2="387.9" y2="74.55" stroke="#333" stroke-width="0.45" />
<line x1="386.5" y1="72.1" x2="387.9" y2="72.1" stroke="#333" stroke-width="0.45" />
<line x1="386.5" y1="69.65" x2="387.9" y2="69.65" stroke="#333" stroke-width="0.45" />
<line x1="386.5" y1="67.2" x2="387.9" y2="67.2" stroke="#333" stroke-width="0.45" />
<line x1="386.5" y1="64.75" x2="387.9" y2="64.75" stroke="#333" stroke-width="0.45" />
<line x1="386.5" y1="62.3" x2="387.9" y2="62.3" stroke="#333" stroke-width="0.45" />
<line x1="386.5" y1="59.85" x2="387.9" y2="59.85" stroke="#333" stroke-width="0.45" />
<line x1="386.5" y1="57.4" x2="387.9" y2="57.4" stroke="#333" stroke-width="0.45" />
<line x1="386.5" y1="54.95" x2="387.9" y2="54.95" stroke="#333" stroke-width="0.45" />
<line x1="386.5" y1="52.5" x2="387.9" y2="52.5" stroke="#333" stroke-width="0.45" />
<line x1="386.5" y1="50.05" x2="387.9" y2="50.05" stroke="#333" stroke-width="0.45" />
<line x1="386.5" y1="47.6" x2="387.9" y2="47.6" stroke="#333" stroke-width="0.45" />
<line x1="386.5" y1="45.15" x2="387.9" y2="45.15" stroke="#333" stroke-width="0.45" />
<line x1="386.5" y1="42.7" x2="387.9" y2="42.7" stroke="#333" stroke-width="0.45" />
<line x1="386.5" y1="40.25" x2="387.9" y2="40.25" stroke="#333" stroke-width="0.45" />
<line x1="386.5" y1="37.8" x2="387.9" y2="37.8" stroke="#333" stroke-width="0.45" />
<line x1="386.5" y1="35.35" x2="387.9" y2="35.35" stroke="#333" stroke-width="0.45" />
<line x1="386.5" y1="32.9" x2="387.9" y2="32.9" stroke="#333" stroke-width="0.45" />
<line x1="386.5" y1="30.45" x2="387.9" y2="30.45" stroke="#333" stroke-width="0.45" />
<line x1="385.7" y1="45.2" x2="387.9" y2="45.2" stroke="#111" stroke-width="0.8" />
<line x1="385.7" y1="61.4" x2="387.9" y2="61.4" stroke="#111" stroke-width="0.8" />
<line x1="389.4" y1="78.2" x2="389.4" y2="79.60000000000001" stroke="#333" stroke-width="0.45" />
<line x1="391.9" y1="78.2" x2="391.9" y2="79.60000000000001" stroke="#333" stroke-width="0.45" />
<line x1="394.4" y1="78.2" x2="394.4" y2="79.60000000000001" stroke="#333" stroke-width="0.45" />
<line x1="396.9" y1="78.2" x2="396.9" y2="79.60000000000001" stroke="#333" stroke-width="0.45" />
<line x1="399.4" y1="78.2" x2="399.4" y2="79.60000000000001" stroke="#333" stroke-width="0.45" />
<line x1="401.9" y1="78.2" x2="401.9" y2="79.60000000000001" stroke="#333" stroke-width="0.45" />
<line x1="404.4" y1="78.2" x2="404.4" y2="79.60000000000001" stroke="#333" stroke-width="0.45" />
<line x1="406.9" y1="78.2" x2="406.9" y2="79.60000000000001" stroke="#333" stroke-width="0.45" />
<line x1="409.4" y1="78.2" x2="409.4" y2="79.60000000000001" stroke="#333" stroke-width="0.45" />
<line x1="411.9" y1="78.2" x2="411.9" y2="79.60000000000001" stroke="#333" stroke-width="0.45" />
<line x1="414.4" y1="78.2" x2="414.4" y2="79.60000000000001" stroke="#333" stroke-width="0.45" />
<line x1="416.9" y1="78.2" x2="416.9" y2="79.60000000000001" stroke="#333" stroke-width="0.45" />
<line x1="419.4" y1="78.2" x2="419.4" y2="79.60000000000001" stroke="#333" stroke-width="0.45" />
<line x1="421.9" y1="78.2" x2="421.9" y2="79.60000000000001" stroke="#333" stroke-width="0.45" />
<line x1="424.4" y1="78.2" x2="424.4" y2="79.60000000000001" stroke="#333" stroke-width="0.45" />
<line x1="426.9" y1="78.2" x2="426.9" y2="79.60000000000001" stroke="#333" stroke-width="0.45" />
<line x1="429.4" y1="78.2" x2="429.4" y2="79.60000000000001" stroke="#333" stroke-width="0.45" />
<line x1="431.9" y1="78.2" x2="431.9" y2="79.60000000000001" stroke="#333" stroke-width="0.45" />
<line x1="434.4" y1="78.2" x2="434.4" y2="79.60000000000001" stroke="#333" stroke-width="0.45" />
<line x1="436.9" y1="78.2" x2="436.9" y2="79.60000000000001" stroke="#333" stroke-width="0.45" />
<line x1="402.4" y1="78.2" x2="402.4" y2="80.2" stroke="#111" stroke-width="0.8" />
<line x1="415.9" y1="78.2" x2="415.9" y2="80.2" stroke="#111" stroke-width="0.8" />
<line x1="429.4" y1="78.2" x2="429.4" y2="80.2" stroke="#111" stroke-width="0.8" />
<rect x="387.9" y="28.2" width="50.6" height="50.0" fill="none" stroke="#111" stroke-width="1.1"/>
<line x1="387.9" y1="27.7" x2="387.9" y2="78.7" stroke="#111" stroke-width="1.8" />
<line x1="387.4" y1="78.2" x2="438.5" y2="78.2" stroke="#111" stroke-width="1.4" />
<line x1="446.0" y1="77.0" x2="447.4" y2="77.0" stroke="#333" stroke-width="0.45" />
<line x1="446.0" y1="74.55" x2="447.4" y2="74.55" stroke="#333" stroke-width="0.45" />
<line x1="446.0" y1="72.1" x2="447.4" y2="72.1" stroke="#333" stroke-width="0.45" />
<line x1="446.0" y1="69.65" x2="447.4" y2="69.65" stroke="#333" stroke-width="0.45" />
<line x1="446.0" y1="67.2" x2="447.4" y2="67.2" stroke="#333" stroke-width="0.45" />
<line x1="446.0" y1="64.75" x2="447.4" y2="64.75" stroke="#333" stroke-width="0.45" />
<line x1="446.0" y1="62.3" x2="447.4" y2="62.3" stroke="#333" stroke-width="0.45" />
<line x1="446.0" y1="59.85" x2="447.4" y2="59.85" stroke="#333" stroke-width="0.45" />
<line x1="446.0" y1="57.4" x2="447.4" y2="57.4" stroke="#333" stroke-width="0.45" />
<line x1="446.0" y1="54.95" x2="447.4" y2="54.95" stroke="#333" stroke-width="0.45" />
<line x1="446.0" y1="52.5" x2="447.4" y2="52.5" stroke="#333" stroke-width="0.45" />
<line x1="446.0" y1="50.05" x2="447.4" y2="50.05" stroke="#333" stroke-width="0.45" />
<line x1="446.0" y1="47.6" x2="447.4" y2="47.6" stroke="#333" stroke-width="0.45" />
<line x1="446.0" y1="45.15" x2="447.4" y2="45.15" stroke="#333" stroke-width="0.45" />
<line x1="446.0" y1="42.7" x2="447.4" y2="42.7" stroke="#333" stroke-width="0.45" />
<line x1="446.0" y1="40.25" x2="447.4" y2="40.25" stroke="#333" stroke-width="0.45" />
<line x1="446.0" y1="37.8" x2="447.4" y2="37.8" stroke="#333" stroke-width="0.45" />
<line x1="446.0" y1="35.35" x2="447.4" y2="35.35" stroke="#333" stroke-width="0.45" />
<line x1="446.0" y1="32.9" x2="447.4" y2="32.9" stroke="#333" stroke-width="0.45" />
<line x1="446.0" y1="30.45" x2="447.4" y2="30.45" stroke="#333" stroke-width="0.45" />
<line x1="445.2" y1="45.2" x2="447.4" y2="45.2" stroke="#111" stroke-width="0.8" />
<line x1="445.2" y1="61.4" x2="447.4" y2="61.4" stroke="#111" stroke-width="0.8" />
<line x1="448.9" y1="78.2" x2="448.9" y2="79.60000000000001" stroke="#333" stroke-width="0.45" />
<line x1="451.4" y1="78.2" x2="451.4" y2="79.60000000000001" stroke="#333" stroke-width="0.45" />
<line x1="453.9" y1="78.2" x2="453.9" y2="79.60000000000001" stroke="#333" stroke-width="0.45" />
<line x1="456.4" y1="78.2" x2="456.4" y2="79.60000000000001" stroke="#333" stroke-width="0.45" />
<line x1="458.9" y1="78.2" x2="458.9" y2="79.60000000000001" stroke="#333" stroke-width="0.45" />
<line x1="461.4" y1="78.2" x2="461.4" y2="79.60000000000001" stroke="#333" stroke-width="0.45" />
<line x1="463.9" y1="78.2" x2="463.9" y2="79.60000000000001" stroke="#333" stroke-width="0.45" />
<line x1="466.4" y1="78.2" x2="466.4" y2="79.60000000000001" stroke="#333" stroke-width="0.45" />
<line x1="468.9" y1="78.2" x2="468.9" y2="79.60000000000001" stroke="#333" stroke-width="0.45" />
<line x1="471.4" y1="78.2" x2="471.4" y2="79.60000000000001" stroke="#333" stroke-width="0.45" />
<line x1="473.9" y1="78.2" x2="473.9" y2="79.60000000000001" stroke="#333" stroke-width="0.45" />
<line x1="476.4" y1="78.2" x2="476.4" y2="79.60000000000001" stroke="#333" stroke-width="0.45" />
<line x1="478.9" y1="78.2" x2="478.9" y2="79.60000000000001" stroke="#333" stroke-width="0.45" />
<line x1="481.4" y1="78.2" x2="481.4" y2="79.60000000000001" stroke="#333" stroke-width="0.45" />
<line x1="483.9" y1="78.2" x2="483.9" y2="79.60000000000001" stroke="#333" stroke-width="0.45" />
<line x1="486.4" y1="78.2" x2="486.4" y2="79.60000000000001" stroke="#333" stroke-width="0.45" />
<line x1="488.9" y1="78.2" x2="488.9" y2="79.60000000000001" stroke="#333" stroke-width="0.45" />
<line x1="491.4" y1="78.2" x2="491.4" y2="79.60000000000001" stroke="#333" stroke-width="0.45" />
<line x1="493.9" y1="78.2" x2="493.9" y2="79.60000000000001" stroke="#333" stroke-width="0.45" />
<line x1="496.4" y1="78.2" x2="496.4" y2="79.60000000000001" stroke="#333" stroke-width="0.45" />
<line x1="461.9" y1="78.2" x2="461.9" y2="80.2" stroke="#111" stroke-width="0.8" />
<line x1="475.4" y1="78.2" x2="475.4" y2="80.2" stroke="#111" stroke-width="0.8" />
<line x1="488.9" y1="78.2" x2="488.9" y2="80.2" stroke="#111" stroke-width="0.8" />
<rect x="447.4" y="28.2" width="50.6" height="50.0" fill="none" stroke="#111" stroke-width="1.1"/>
<line x1="447.4" y1="27.7" x2="447.4" y2="78.7" stroke="#111" stroke-width="1.8" />
<line x1="446.9" y1="78.2" x2="498.0" y2="78.2" stroke="#111" stroke-width="1.4" />
<path d="M0,-23.8 C2.06,-20.94 6.44,-7.62 6.44,0 C6.44,3.54 3.54,6.44 0,6.44 C-3.54,6.44 -6.44,3.54 -6.44,0 C-6.44,-7.62 -2.06,-20.94 0,-23.8 Z" fill="#b4acE4" opacity="0.55" transform="translate(225.7 66.4) rotate(17)" filter="url(#bl)"/>
<g filter="url(#bl2)">
<path d="M0,-22.0 C1.60,-19.36 5.00,-7.04 5.00,0 C5.00,2.75 2.75,5.00 0,5.00 C-2.75,5.00 -5.00,2.75 -5.00,0 C-5.00,-7.04 -1.60,-19.36 0,-22.0 Z" fill="#4a42b2" opacity="1" transform="translate(225.7 66.4) rotate(17)" />
<path d="M0,-19.36 C1.48,-17.04 4.61,-6.20 4.61,0 C4.61,2.54 2.54,4.61 0,4.61 C-2.54,4.61 -4.61,2.54 -4.61,0 C-4.61,-6.20 -1.48,-17.04 0,-19.36 Z" fill="#3a74cc" opacity="1" transform="translate(225.7 66.64) rotate(17)" />
<path d="M0,-16.94 C1.36,-14.91 4.25,-5.42 4.25,0 C4.25,2.34 2.34,4.25 0,4.25 C-2.34,4.25 -4.25,2.34 -4.25,0 C-4.25,-5.42 -1.36,-14.91 0,-16.94 Z" fill="#46b0b8" opacity="1" transform="translate(225.7 66.86) rotate(17)" />
<path d="M0,-14.520000000000001 C1.25,-12.78 3.90,-4.65 3.90,0 C3.90,2.14 2.14,3.90 0,3.90 C-2.14,3.90 -3.90,2.14 -3.90,0 C-3.90,-4.65 -1.25,-12.78 0,-14.520000000000001 Z" fill="#7ec45a" opacity="1" transform="translate(225.7 67.08000000000001) rotate(17)" />
</g>
<g filter="url(#bl2)">
<ellipse cx="226.6" cy="66.2" rx="2.8" ry="3.50" fill="#b4d244" transform="rotate(17 226.6 66.2)"/>
<ellipse cx="226.6" cy="66.2" rx="2.0" ry="2.50" fill="#ecd82e" transform="rotate(17 226.6 66.2)"/>
<ellipse cx="226.6" cy="66.2" rx="1.3" ry="1.62" fill="#f08a20" transform="rotate(17 226.6 66.2)"/>
<ellipse cx="226.6" cy="66.2" rx="0.7" ry="0.88" fill="#e4401e" transform="rotate(17 226.6 66.2)"/>
</g>
<path d="M0,-15 C1.41,-13.20 4.40,-4.80 4.40,0 C4.40,5.78 2.42,10.50 0,10.50 C-2.42,10.50 -4.40,5.78 -4.40,0 C-4.40,-4.80 -1.41,-13.20 0,-15 Z" fill="#b3acE2" opacity="0.6" transform="translate(247.6 61.5) rotate(3)" filter="url(#bl)"/>
<g filter="url(#bl2)">
<path d="M0,-12.5 C1.06,-11.00 3.30,-4.00 3.30,0 C3.30,4.73 1.81,8.60 0,8.60 C-1.81,8.60 -3.30,4.73 -3.30,0 C-3.30,-4.00 -1.06,-11.00 0,-12.5 Z" fill="#6a66c4" opacity="0.9" transform="translate(247.6 62.5) rotate(3)" />
<path d="M0,-9 C0.77,-7.92 2.40,-2.88 2.40,0 C2.40,3.58 1.32,6.50 0,6.50 C-1.32,6.50 -2.40,3.58 -2.40,0 C-2.40,-2.88 -0.77,-7.92 0,-9 Z" fill="#4f58b8" opacity="0.9" transform="translate(247.6 63.5) rotate(3)" />
<ellipse cx="247.2" cy="67.2" rx="1.9" ry="3" fill="#45a0c0" opacity="0.9"/>
</g>
<path d="M241.4,38.4 L257.6,38.4 L255.4,72.4 L237.4,72.4 Z" fill="none" stroke="#6a6a6a" stroke-width="0.55"/>
<text x="254.4" y="36.6" font-size="5.3" fill="#333" text-anchor="end" font-weight="normal"  stroke="#333" stroke-width="0.06">18.9</text>
<path d="M0,-25.3 C2.19,-22.26 6.84,-8.10 6.84,0 C6.84,3.76 3.76,6.84 0,6.84 C-3.76,6.84 -6.84,3.76 -6.84,0 C-6.84,-8.10 -2.19,-22.26 0,-25.3 Z" fill="#b4acE4" opacity="0.55" transform="translate(285.3 67) rotate(16)" filter="url(#bl)"/>
<g filter="url(#bl2)">
<path d="M0,-23.5 C1.73,-20.68 5.40,-7.52 5.40,0 C5.40,2.97 2.97,5.40 0,5.40 C-2.97,5.40 -5.40,2.97 -5.40,0 C-5.40,-7.52 -1.73,-20.68 0,-23.5 Z" fill="#4a42b2" opacity="1" transform="translate(285.3 67.0) rotate(16)" />
<path d="M0,-20.68 C1.59,-18.20 4.98,-6.62 4.98,0 C4.98,2.74 2.74,4.98 0,4.98 C-2.74,4.98 -4.98,2.74 -4.98,0 C-4.98,-6.62 -1.59,-18.20 0,-20.68 Z" fill="#3a74cc" opacity="1" transform="translate(285.3 67.2592) rotate(16)" />
<path d="M0,-18.095 C1.47,-15.92 4.59,-5.79 4.59,0 C4.59,2.53 2.53,4.59 0,4.59 C-2.53,4.59 -4.59,2.53 -4.59,0 C-4.59,-5.79 -1.47,-15.92 0,-18.095 Z" fill="#46b0b8" opacity="1" transform="translate(285.3 67.4968) rotate(16)" />
<path d="M0,-15.510000000000002 C1.35,-13.65 4.21,-4.96 4.21,0 C4.21,2.31 2.31,4.21 0,4.21 C-2.31,4.21 -4.21,2.31 -4.21,0 C-4.21,-4.96 -1.35,-13.65 0,-15.510000000000002 Z" fill="#7ec45a" opacity="1" transform="translate(285.3 67.7344) rotate(16)" />
</g>
<g filter="url(#bl2)">
<ellipse cx="286" cy="67.4" rx="3.4" ry="4.25" fill="#a6d048" transform="rotate(16 286 67.4)"/>
<ellipse cx="286" cy="67.4" rx="2.5" ry="3.12" fill="#f0de2e" transform="rotate(16 286 67.4)"/>
<ellipse cx="286" cy="67.4" rx="1.6" ry="2.00" fill="#f08a20" transform="rotate(16 286 67.4)"/>
<ellipse cx="286" cy="67.4" rx="1.0" ry="1.25" fill="#e3261e" transform="rotate(16 286 67.4)"/>
</g>
<path d="M0,-15 C1.54,-13.20 4.80,-4.80 4.80,0 C4.80,5.78 2.64,10.50 0,10.50 C-2.64,10.50 -4.80,5.78 -4.80,0 C-4.80,-4.80 -1.54,-13.20 0,-15 Z" fill="#b3acE2" opacity="0.6" transform="translate(306.2 61.5) rotate(7)" filter="url(#bl)"/>
<g filter="url(#bl2)">
<path d="M0,-13 C1.18,-11.44 3.70,-4.16 3.70,0 C3.70,4.84 2.04,8.80 0,8.80 C-2.04,8.80 -3.70,4.84 -3.70,0 C-3.70,-4.16 -1.18,-11.44 0,-13 Z" fill="#6a66c4" opacity="0.9" transform="translate(306.2 62.5) rotate(7)" />
<path d="M0,-9.5 C0.90,-8.36 2.80,-3.04 2.80,0 C2.80,3.74 1.54,6.80 0,6.80 C-1.54,6.80 -2.80,3.74 -2.80,0 C-2.80,-3.04 -0.90,-8.36 0,-9.5 Z" fill="#4f58b8" opacity="0.9" transform="translate(306.2 63.5) rotate(7)" />
<ellipse cx="305.4" cy="67.2" rx="2.5" ry="3.4" fill="#45a8a8" opacity="0.9"/>
</g>
<path d="M300.6,38.4 L316.8,38.4 L314.6,72.4 L296.6,72.4 Z" fill="none" stroke="#6a6a6a" stroke-width="0.55"/>
<text x="313.6" y="36.6" font-size="5.3" fill="#333" text-anchor="end" font-weight="normal"  stroke="#333" stroke-width="0.06">20.2</text>
<path d="M0,-28.7 C2.80,-25.26 8.76,-9.18 8.76,0 C8.76,4.82 4.82,8.76 0,8.76 C-4.82,8.76 -8.76,4.82 -8.76,0 C-8.76,-9.18 -2.80,-25.26 0,-28.7 Z" fill="#bdb4e6" opacity="0.55" transform="translate(344.7 63.8) rotate(10)" filter="url(#bl)"/>
<g filter="url(#bl2)">
<path d="M0,-26.5 C2.24,-23.32 7.00,-8.48 7.00,0 C7.00,3.85 3.85,7.00 0,7.00 C-3.85,7.00 -7.00,3.85 -7.00,0 C-7.00,-8.48 -2.24,-23.32 0,-26.5 Z" fill="#3a2a94" opacity="1" transform="translate(344.7 63.8) rotate(10)" />
<path d="M0,-21.73 C1.98,-19.12 6.18,-6.95 6.18,0 C6.18,3.40 3.40,6.18 0,6.18 C-3.40,6.18 -6.18,3.40 -6.18,0 C-6.18,-6.95 -1.98,-19.12 0,-21.73 Z" fill="#2c3aa6" opacity="1" transform="translate(344.7 64.304) rotate(10)" />
<path d="M0,-16.96 C1.72,-14.92 5.36,-5.43 5.36,0 C5.36,2.95 2.95,5.36 0,5.36 C-2.95,5.36 -5.36,2.95 -5.36,0 C-5.36,-5.43 -1.72,-14.92 0,-16.96 Z" fill="#2f6cc4" opacity="1" transform="translate(344.7 64.80799999999999) rotate(10)" />
<path d="M0,-12.190000000000001 C1.45,-10.73 4.54,-3.90 4.54,0 C4.54,2.50 2.50,4.54 0,4.54 C-2.50,4.54 -4.54,2.50 -4.54,0 C-4.54,-3.90 -1.45,-10.73 0,-12.190000000000001 Z" fill="#40a8c4" opacity="1" transform="translate(344.7 65.312) rotate(10)" />
</g>
<g filter="url(#bl2)">
<ellipse cx="344.5" cy="63.8" rx="2.8" ry="3.50" fill="#8cca50" transform="rotate(10 344.5 63.8)"/>
<ellipse cx="344.5" cy="63.8" rx="1.9" ry="2.38" fill="#eedc2a" transform="rotate(10 344.5 63.8)"/>
<ellipse cx="344.5" cy="63.8" rx="1.0" ry="1.25" fill="#f08a20" transform="rotate(10 344.5 63.8)"/>
</g>
<g opacity="0.3" filter="url(#bl)"><ellipse cx="366" cy="58" rx="2" ry="9" fill="#9a92d4"/></g>
<path d="M360.0,38.4 L376.2,38.4 L374.0,72.4 L356.0,72.4 Z" fill="none" stroke="#6a6a6a" stroke-width="0.55"/>
<text x="373.0" y="36.6" font-size="5.3" fill="#333" text-anchor="end" font-weight="normal"  stroke="#333" stroke-width="0.06">0.46</text>
<path d="M0,-25.8 C1.93,-22.70 6.04,-8.26 6.04,0 C6.04,3.32 3.32,6.04 0,6.04 C-3.32,6.04 -6.04,3.32 -6.04,0 C-6.04,-8.26 -1.93,-22.70 0,-25.8 Z" fill="#b4acE4" opacity="0.55" transform="translate(402.9 66.2) rotate(21)" filter="url(#bl)"/>
<g filter="url(#bl2)">
<path d="M0,-24.0 C1.47,-21.12 4.60,-7.68 4.60,0 C4.60,2.53 2.53,4.60 0,4.60 C-2.53,4.60 -4.60,2.53 -4.60,0 C-4.60,-7.68 -1.47,-21.12 0,-24.0 Z" fill="#3e35a8" opacity="1" transform="translate(402.9 66.2) rotate(21)" />
<path d="M0,-21.12 C1.36,-18.59 4.24,-6.76 4.24,0 C4.24,2.33 2.33,4.24 0,4.24 C-2.33,4.24 -4.24,2.33 -4.24,0 C-4.24,-6.76 -1.36,-18.59 0,-21.12 Z" fill="#3a70cc" opacity="1" transform="translate(402.9 66.4208) rotate(21)" />
<path d="M0,-18.240000000000002 C1.24,-16.05 3.88,-5.84 3.88,0 C3.88,2.14 2.14,3.88 0,3.88 C-2.14,3.88 -3.88,2.14 -3.88,0 C-3.88,-5.84 -1.24,-16.05 0,-18.240000000000002 Z" fill="#45acbc" opacity="1" transform="translate(402.9 66.6416) rotate(21)" />
<path d="M0,-15.36 C1.13,-13.52 3.52,-4.92 3.52,0 C3.52,1.94 1.94,3.52 0,3.52 C-1.94,3.52 -3.52,1.94 -3.52,0 C-3.52,-4.92 -1.13,-13.52 0,-15.36 Z" fill="#80c45a" opacity="1" transform="translate(402.9 66.86240000000001) rotate(21)" />
</g>
<g filter="url(#bl2)">
<ellipse cx="404.2" cy="66.2" rx="2.5" ry="3.12" fill="#a8d048" transform="rotate(21 404.2 66.2)"/>
<ellipse cx="404.2" cy="66.2" rx="1.7" ry="2.12" fill="#f0c02a" transform="rotate(21 404.2 66.2)"/>
<ellipse cx="404.2" cy="66.2" rx="1.0" ry="1.25" fill="#f07a1c" transform="rotate(21 404.2 66.2)"/>
</g>
<path d="M419.5,38.4 L435.7,38.4 L433.5,72.4 L415.5,72.4 Z" fill="none" stroke="#6a6a6a" stroke-width="0.55"/>
<text x="432.5" y="36.6" font-size="5.3" fill="#333" text-anchor="end" font-weight="normal"  stroke="#333" stroke-width="0.06">0.18</text>
<path d="M0,-26.3 C1.90,-23.14 5.94,-8.42 5.94,0 C5.94,3.27 3.27,5.94 0,5.94 C-3.27,5.94 -5.94,3.27 -5.94,0 C-5.94,-8.42 -1.90,-23.14 0,-26.3 Z" fill="#b4acE4" opacity="0.55" transform="translate(462 67) rotate(21)" filter="url(#bl)"/>
<g filter="url(#bl2)">
<path d="M0,-24.5 C1.44,-21.56 4.50,-7.84 4.50,0 C4.50,2.48 2.48,4.50 0,4.50 C-2.48,4.50 -4.50,2.48 -4.50,0 C-4.50,-7.84 -1.44,-21.56 0,-24.5 Z" fill="#3e35a8" opacity="1" transform="translate(462 67.0) rotate(21)" />
<path d="M0,-21.56 C1.33,-18.97 4.15,-6.90 4.15,0 C4.15,2.28 2.28,4.15 0,4.15 C-2.28,4.15 -4.15,2.28 -4.15,0 C-4.15,-6.90 -1.33,-18.97 0,-21.56 Z" fill="#3a70cc" opacity="1" transform="translate(462 67.216) rotate(21)" />
<path d="M0,-18.62 C1.22,-16.39 3.80,-5.96 3.80,0 C3.80,2.09 2.09,3.80 0,3.80 C-2.09,3.80 -3.80,2.09 -3.80,0 C-3.80,-5.96 -1.22,-16.39 0,-18.62 Z" fill="#45acbc" opacity="1" transform="translate(462 67.432) rotate(21)" />
<path d="M0,-15.68 C1.10,-13.80 3.45,-5.02 3.45,0 C3.45,1.90 1.90,3.45 0,3.45 C-1.90,3.45 -3.45,1.90 -3.45,0 C-3.45,-5.02 -1.10,-13.80 0,-15.68 Z" fill="#80c45a" opacity="1" transform="translate(462 67.648) rotate(21)" />
</g>
<g filter="url(#bl2)">
<ellipse cx="463.2" cy="67" rx="2.5" ry="3.12" fill="#a8d048" transform="rotate(21 463.2 67)"/>
<ellipse cx="463.2" cy="67" rx="1.6" ry="2.00" fill="#e6da2c" transform="rotate(21 463.2 67)"/>
</g>
<path d="M479.0,38.4 L495.2,38.4 L493.0,72.4 L475.0,72.4 Z" fill="none" stroke="#6a6a6a" stroke-width="0.55"/>
<text x="492.0" y="36.6" font-size="5.3" fill="#333" text-anchor="end" font-weight="normal"  stroke="#333" stroke-width="0.06">0.031</text>
<text x="235.2" y="24.3" font-size="5.9" fill="#222" text-anchor="middle" font-weight="normal"  stroke="#222" stroke-width="0.06">T cells only</text>
<text x="294.2" y="17.4" font-size="5.9" fill="#222" text-anchor="middle" font-weight="normal"  stroke="#222" stroke-width="0.06">+ 2x wt</text>
<text x="294.2" y="24.3" font-size="5.9" fill="#222" text-anchor="middle" font-weight="normal"  stroke="#222" stroke-width="0.06">NK-92</text>
<text x="357.8" y="24.3" font-size="5.9" fill="#8c3c8c" text-anchor="middle" font-weight="normal"  stroke="#8c3c8c" stroke-width="0.06">MACS</text>
<text x="413.3" y="17.4" font-size="5.9" fill="#3d6b98" text-anchor="middle" font-weight="normal"  stroke="#3d6b98" stroke-width="0.06">+ 1x CAR4</text>
<text x="413.3" y="24.3" font-size="5.9" fill="#3d6b98" text-anchor="middle" font-weight="normal"  stroke="#3d6b98" stroke-width="0.06">NK-92</text>
<text x="473.8" y="17.4" font-size="5.9" fill="#e0287e" text-anchor="middle" font-weight="normal"  stroke="#e0287e" stroke-width="0.06">+ 2x CAR4</text>
<text x="473.8" y="24.3" font-size="5.9" fill="#e0287e" text-anchor="middle" font-weight="normal"  stroke="#e0287e" stroke-width="0.06">NK-92</text>
<text x="189.9" y="59.5" font-size="6.2" fill="#444" text-anchor="middle" font-weight="normal"  stroke="#444" stroke-width="0.06">d13</text>
<line x1="200.8" y1="35.5" x2="200.8" y2="60.7" stroke="#222" stroke-width="0.8" />
<path d="M199.8,36.6 L200.8,33.8 L201.8,36.6 Z" fill="#222"/>
<text x="203.2" y="74" font-size="7.2" fill="#1a1a1a" text-anchor="middle" transform="rotate(-90 203.2 74)" textLength="15.6" lengthAdjust="spacingAndGlyphs" stroke="#1a1a1a" stroke-width="0.25">SSC-A</text>
<text x="202.2" y="93.8" font-size="7.2" fill="#1a1a1a" textLength="35.7" lengthAdjust="spacingAndGlyphs" stroke="#1a1a1a" stroke-width="0.25">αCD3 PacBlue</text>
<line x1="244" y1="91.5" x2="491" y2="91.5" stroke="#222" stroke-width="0.8" />
<path d="M490.5,90.2 L494,91.5 L490.5,92.8 Z" fill="#222"/>
<circle cx="227.83" cy="73.14" r="0.38" fill="#8a80d0" opacity="0.5"/>
<circle cx="223.97" cy="69.46" r="0.38" fill="#b7a6e0" opacity="0.5"/>
<circle cx="223.27" cy="60.37" r="0.38" fill="#a49ce0" opacity="0.5"/>
<circle cx="227.35" cy="61.29" r="0.38" fill="#b7a6e0" opacity="0.5"/>
<circle cx="219.95" cy="64.02" r="0.38" fill="#8a80d0" opacity="0.5"/>
<circle cx="227.94" cy="53.69" r="0.38" fill="#a49ce0" opacity="0.5"/>
<circle cx="226.28" cy="57.54" r="0.38" fill="#6d68c4" opacity="0.5"/>
<circle cx="227.66" cy="60.59" r="0.38" fill="#c48ad0" opacity="0.5"/>
<circle cx="233.80" cy="63.14" r="0.38" fill="#a49ce0" opacity="0.5"/>
<circle cx="233.21" cy="59.13" r="0.38" fill="#c48ad0" opacity="0.5"/>
<circle cx="225.03" cy="68.79" r="0.38" fill="#b7a6e0" opacity="0.5"/>
<circle cx="224.75" cy="56.64" r="0.38" fill="#a49ce0" opacity="0.5"/>
<circle cx="233.70" cy="40.18" r="0.38" fill="#8a80d0" opacity="0.5"/>
<circle cx="217.59" cy="67.07" r="0.38" fill="#8a80d0" opacity="0.5"/>
<circle cx="224.07" cy="84.70" r="0.38" fill="#6d68c4" opacity="0.5"/>
<circle cx="227.71" cy="65.72" r="0.38" fill="#c48ad0" opacity="0.5"/>
<circle cx="231.33" cy="57.71" r="0.38" fill="#a49ce0" opacity="0.5"/>
<circle cx="222.37" cy="69.76" r="0.38" fill="#b7a6e0" opacity="0.5"/>
<circle cx="231.75" cy="52.77" r="0.38" fill="#c48ad0" opacity="0.5"/>
<circle cx="231.65" cy="53.32" r="0.38" fill="#b7a6e0" opacity="0.5"/>
<circle cx="224.39" cy="62.01" r="0.38" fill="#c48ad0" opacity="0.5"/>
<circle cx="234.30" cy="51.90" r="0.38" fill="#6d68c4" opacity="0.5"/>
<circle cx="229.45" cy="67.53" r="0.38" fill="#8a80d0" opacity="0.5"/>
<circle cx="230.71" cy="50.52" r="0.38" fill="#b7a6e0" opacity="0.5"/>
<circle cx="220.22" cy="68.42" r="0.38" fill="#b7a6e0" opacity="0.5"/>
<circle cx="231.12" cy="65.00" r="0.38" fill="#c48ad0" opacity="0.5"/>
<circle cx="225.50" cy="54.63" r="0.38" fill="#a49ce0" opacity="0.5"/>
<circle cx="226.65" cy="65.46" r="0.38" fill="#8a80d0" opacity="0.5"/>
<circle cx="230.62" cy="50.13" r="0.38" fill="#c48ad0" opacity="0.5"/>
<circle cx="224.50" cy="69.84" r="0.38" fill="#c48ad0" opacity="0.5"/>
<circle cx="218.09" cy="72.81" r="0.38" fill="#c48ad0" opacity="0.5"/>
<circle cx="225.23" cy="50.37" r="0.38" fill="#b7a6e0" opacity="0.5"/>
<circle cx="232.84" cy="45.68" r="0.38" fill="#c48ad0" opacity="0.5"/>
<circle cx="231.31" cy="51.30" r="0.38" fill="#c48ad0" opacity="0.5"/>
<circle cx="223.48" cy="79.82" r="0.38" fill="#b7a6e0" opacity="0.5"/>
<circle cx="232.42" cy="53.24" r="0.38" fill="#a49ce0" opacity="0.5"/>
<circle cx="231.24" cy="57.97" r="0.38" fill="#6d68c4" opacity="0.5"/>
<circle cx="226.76" cy="60.18" r="0.38" fill="#c48ad0" opacity="0.5"/>
<circle cx="226.01" cy="51.13" r="0.38" fill="#b7a6e0" opacity="0.5"/>
<circle cx="224.60" cy="49.84" r="0.38" fill="#a49ce0" opacity="0.5"/>
<circle cx="225.43" cy="57.76" r="0.38" fill="#8a80d0" opacity="0.5"/>
<circle cx="233.08" cy="46.71" r="0.38" fill="#6d68c4" opacity="0.5"/>
<circle cx="233.88" cy="66.42" r="0.38" fill="#8a80d0" opacity="0.5"/>
<circle cx="227.32" cy="60.91" r="0.38" fill="#8a80d0" opacity="0.5"/>
<circle cx="229.09" cy="53.42" r="0.38" fill="#6d68c4" opacity="0.5"/>
<circle cx="228.51" cy="68.37" r="0.38" fill="#6d68c4" opacity="0.5"/>
<circle cx="225.02" cy="64.61" r="0.38" fill="#6d68c4" opacity="0.5"/>
<circle cx="225.20" cy="58.53" r="0.38" fill="#6d68c4" opacity="0.5"/>
<circle cx="226.95" cy="54.03" r="0.38" fill="#6d68c4" opacity="0.5"/>
<circle cx="225.28" cy="59.57" r="0.38" fill="#6d68c4" opacity="0.5"/>
<circle cx="222.58" cy="64.72" r="0.38" fill="#a49ce0" opacity="0.5"/>
<circle cx="224.96" cy="66.16" r="0.38" fill="#c48ad0" opacity="0.5"/>
<circle cx="236.78" cy="59.63" r="0.38" fill="#b7a6e0" opacity="0.5"/>
<circle cx="227.75" cy="58.57" r="0.38" fill="#8a80d0" opacity="0.5"/>
<circle cx="225.86" cy="61.09" r="0.38" fill="#a49ce0" opacity="0.5"/>
<circle cx="222.16" cy="62.05" r="0.38" fill="#b7a6e0" opacity="0.5"/>
<circle cx="225.15" cy="57.70" r="0.38" fill="#c48ad0" opacity="0.5"/>
<circle cx="222.08" cy="61.79" r="0.38" fill="#8a80d0" opacity="0.5"/>
<circle cx="221.44" cy="65.44" r="0.38" fill="#6d68c4" opacity="0.5"/>
<circle cx="227.26" cy="52.17" r="0.38" fill="#6d68c4" opacity="0.5"/>
<circle cx="227.46" cy="64.50" r="0.38" fill="#8a80d0" opacity="0.5"/>
<circle cx="220.03" cy="74.36" r="0.38" fill="#6d68c4" opacity="0.5"/>
<circle cx="230.55" cy="57.37" r="0.38" fill="#a49ce0" opacity="0.5"/>
<circle cx="223.78" cy="62.42" r="0.38" fill="#8a80d0" opacity="0.5"/>
<circle cx="222.57" cy="52.19" r="0.38" fill="#c48ad0" opacity="0.5"/>
<circle cx="236.49" cy="42.28" r="0.38" fill="#c48ad0" opacity="0.5"/>
<circle cx="219.60" cy="61.80" r="0.38" fill="#c48ad0" opacity="0.5"/>
<circle cx="223.79" cy="58.53" r="0.38" fill="#6d68c4" opacity="0.5"/>
<circle cx="228.76" cy="67.30" r="0.38" fill="#b7a6e0" opacity="0.5"/>
<circle cx="225.21" cy="53.83" r="0.38" fill="#b7a6e0" opacity="0.5"/>
<circle cx="223.04" cy="68.82" r="0.38" fill="#6d68c4" opacity="0.5"/>
<circle cx="225.97" cy="53.84" r="0.38" fill="#6d68c4" opacity="0.5"/>
<circle cx="229.10" cy="61.32" r="0.38" fill="#6d68c4" opacity="0.5"/>
<circle cx="231.63" cy="50.81" r="0.38" fill="#a49ce0" opacity="0.5"/>
<circle cx="224.28" cy="64.38" r="0.38" fill="#8a80d0" opacity="0.5"/>
<circle cx="236.09" cy="45.21" r="0.38" fill="#6d68c4" opacity="0.5"/>
<circle cx="235.07" cy="53.79" r="0.38" fill="#c48ad0" opacity="0.5"/>
<circle cx="216.33" cy="59.25" r="0.38" fill="#a49ce0" opacity="0.5"/>
<circle cx="227.62" cy="61.21" r="0.38" fill="#a49ce0" opacity="0.5"/>
<circle cx="225.88" cy="76.77" r="0.38" fill="#a49ce0" opacity="0.5"/>
<circle cx="224.43" cy="67.15" r="0.38" fill="#c48ad0" opacity="0.5"/>
<circle cx="230.79" cy="54.00" r="0.38" fill="#6d68c4" opacity="0.5"/>
<circle cx="227.71" cy="64.49" r="0.38" fill="#c48ad0" opacity="0.5"/>
<circle cx="231.88" cy="47.65" r="0.38" fill="#b7a6e0" opacity="0.5"/>
<circle cx="227.51" cy="68.61" r="0.38" fill="#8a80d0" opacity="0.5"/>
<circle cx="223.20" cy="67.04" r="0.38" fill="#b7a6e0" opacity="0.5"/>
<circle cx="234.31" cy="50.56" r="0.38" fill="#a49ce0" opacity="0.5"/>
<circle cx="221.54" cy="68.66" r="0.38" fill="#b7a6e0" opacity="0.5"/>
<circle cx="229.40" cy="65.94" r="0.38" fill="#c48ad0" opacity="0.5"/>
<circle cx="228.40" cy="63.87" r="0.38" fill="#6d68c4" opacity="0.5"/>
<circle cx="297.99" cy="58.29" r="0.38" fill="#8a80d0" opacity="0.5"/>
<circle cx="289.00" cy="66.13" r="0.38" fill="#a49ce0" opacity="0.5"/>
<circle cx="289.94" cy="48.73" r="0.38" fill="#6d68c4" opacity="0.5"/>
<circle cx="285.35" cy="66.64" r="0.38" fill="#8a80d0" opacity="0.5"/>
<circle cx="285.60" cy="58.06" r="0.38" fill="#b7a6e0" opacity="0.5"/>
<circle cx="285.53" cy="48.38" r="0.38" fill="#c48ad0" opacity="0.5"/>
<circle cx="292.73" cy="59.18" r="0.38" fill="#b7a6e0" opacity="0.5"/>
<circle cx="278.38" cy="58.28" r="0.38" fill="#8a80d0" opacity="0.5"/>
<circle cx="276.76" cy="73.52" r="0.38" fill="#b7a6e0" opacity="0.5"/>
<circle cx="277.32" cy="66.70" r="0.38" fill="#a49ce0" opacity="0.5"/>
<circle cx="284.89" cy="57.99" r="0.38" fill="#8a80d0" opacity="0.5"/>
<circle cx="286.81" cy="65.84" r="0.38" fill="#c48ad0" opacity="0.5"/>
<circle cx="272.87" cy="54.88" r="0.38" fill="#c48ad0" opacity="0.5"/>
<circle cx="286.04" cy="77.75" r="0.38" fill="#b7a6e0" opacity="0.5"/>
<circle cx="291.22" cy="43.05" r="0.38" fill="#6d68c4" opacity="0.5"/>
<circle cx="290.05" cy="53.87" r="0.38" fill="#b7a6e0" opacity="0.5"/>
<circle cx="287.25" cy="73.63" r="0.38" fill="#b7a6e0" opacity="0.5"/>
<circle cx="286.75" cy="55.38" r="0.38" fill="#6d68c4" opacity="0.5"/>
<circle cx="292.49" cy="57.83" r="0.38" fill="#6d68c4" opacity="0.5"/>
<circle cx="286.85" cy="52.68" r="0.38" fill="#b7a6e0" opacity="0.5"/>
<circle cx="280.12" cy="70.50" r="0.38" fill="#c48ad0" opacity="0.5"/>
<circle cx="288.90" cy="51.47" r="0.38" fill="#a49ce0" opacity="0.5"/>
<circle cx="295.47" cy="57.51" r="0.38" fill="#a49ce0" opacity="0.5"/>
<circle cx="293.26" cy="54.23" r="0.38" fill="#b7a6e0" opacity="0.5"/>
<circle cx="277.81" cy="79.04" r="0.38" fill="#c48ad0" opacity="0.5"/>
<circle cx="283.62" cy="56.02" r="0.38" fill="#c48ad0" opacity="0.5"/>
<circle cx="285.09" cy="56.44" r="0.38" fill="#a49ce0" opacity="0.5"/>
<circle cx="283.00" cy="60.44" r="0.38" fill="#c48ad0" opacity="0.5"/>
<circle cx="294.99" cy="52.84" r="0.38" fill="#6d68c4" opacity="0.5"/>
<circle cx="290.73" cy="42.99" r="0.38" fill="#a49ce0" opacity="0.5"/>
<circle cx="288.93" cy="61.48" r="0.38" fill="#c48ad0" opacity="0.5"/>
<circle cx="286.69" cy="55.12" r="0.38" fill="#a49ce0" opacity="0.5"/>
<circle cx="288.05" cy="43.37" r="0.38" fill="#c48ad0" opacity="0.5"/>
<circle cx="287.68" cy="66.45" r="0.38" fill="#a49ce0" opacity="0.5"/>
<circle cx="288.62" cy="60.38" r="0.38" fill="#8a80d0" opacity="0.5"/>
<circle cx="289.80" cy="64.72" r="0.38" fill="#a49ce0" opacity="0.5"/>
<circle cx="287.08" cy="57.77" r="0.38" fill="#8a80d0" opacity="0.5"/>
<circle cx="292.84" cy="64.94" r="0.38" fill="#8a80d0" opacity="0.5"/>
<circle cx="284.65" cy="63.63" r="0.38" fill="#a49ce0" opacity="0.5"/>
<circle cx="289.37" cy="50.97" r="0.38" fill="#8a80d0" opacity="0.5"/>
<circle cx="285.64" cy="62.34" r="0.38" fill="#a49ce0" opacity="0.5"/>
<circle cx="287.12" cy="62.99" r="0.38" fill="#6d68c4" opacity="0.5"/>
<circle cx="293.50" cy="58.18" r="0.38" fill="#8a80d0" opacity="0.5"/>
<circle cx="283.31" cy="69.92" r="0.38" fill="#6d68c4" opacity="0.5"/>
<circle cx="279.21" cy="63.54" r="0.38" fill="#8a80d0" opacity="0.5"/>
<circle cx="294.80" cy="54.67" r="0.38" fill="#c48ad0" opacity="0.5"/>
<circle cx="288.28" cy="51.75" r="0.38" fill="#a49ce0" opacity="0.5"/>
<circle cx="290.15" cy="69.37" r="0.38" fill="#8a80d0" opacity="0.5"/>
<circle cx="293.41" cy="65.20" r="0.38" fill="#a49ce0" opacity="0.5"/>
<circle cx="280.48" cy="57.36" r="0.38" fill="#b7a6e0" opacity="0.5"/>
<circle cx="284.88" cy="59.93" r="0.38" fill="#6d68c4" opacity="0.5"/>
<circle cx="283.49" cy="72.04" r="0.38" fill="#b7a6e0" opacity="0.5"/>
<circle cx="286.41" cy="49.57" r="0.38" fill="#a49ce0" opacity="0.5"/>
<circle cx="287.10" cy="55.10" r="0.38" fill="#a49ce0" opacity="0.5"/>
<circle cx="287.07" cy="64.39" r="0.38" fill="#a49ce0" opacity="0.5"/>
<circle cx="275.80" cy="56.47" r="0.38" fill="#8a80d0" opacity="0.5"/>
<circle cx="289.99" cy="61.64" r="0.38" fill="#b7a6e0" opacity="0.5"/>
<circle cx="288.05" cy="62.92" r="0.38" fill="#a49ce0" opacity="0.5"/>
<circle cx="284.81" cy="49.21" r="0.38" fill="#6d68c4" opacity="0.5"/>
<circle cx="284.37" cy="69.51" r="0.38" fill="#c48ad0" opacity="0.5"/>
<circle cx="288.35" cy="56.33" r="0.38" fill="#b7a6e0" opacity="0.5"/>
<circle cx="284.74" cy="62.68" r="0.38" fill="#8a80d0" opacity="0.5"/>
<circle cx="286.03" cy="64.77" r="0.38" fill="#a49ce0" opacity="0.5"/>
<circle cx="288.11" cy="57.15" r="0.38" fill="#8a80d0" opacity="0.5"/>
<circle cx="282.87" cy="58.53" r="0.38" fill="#6d68c4" opacity="0.5"/>
<circle cx="283.66" cy="58.13" r="0.38" fill="#a49ce0" opacity="0.5"/>
<circle cx="288.91" cy="52.20" r="0.38" fill="#c48ad0" opacity="0.5"/>
<circle cx="291.93" cy="63.99" r="0.38" fill="#b7a6e0" opacity="0.5"/>
<circle cx="293.14" cy="57.72" r="0.38" fill="#8a80d0" opacity="0.5"/>
<circle cx="286.90" cy="52.32" r="0.38" fill="#8a80d0" opacity="0.5"/>
<circle cx="278.60" cy="56.19" r="0.38" fill="#c48ad0" opacity="0.5"/>
<circle cx="280.20" cy="69.12" r="0.38" fill="#6d68c4" opacity="0.5"/>
<circle cx="279.60" cy="75.69" r="0.38" fill="#b7a6e0" opacity="0.5"/>
<circle cx="288.59" cy="65.94" r="0.38" fill="#8a80d0" opacity="0.5"/>
<circle cx="288.30" cy="58.50" r="0.38" fill="#b7a6e0" opacity="0.5"/>
<circle cx="277.63" cy="62.55" r="0.38" fill="#c48ad0" opacity="0.5"/>
<circle cx="289.10" cy="64.84" r="0.38" fill="#6d68c4" opacity="0.5"/>
<circle cx="281.25" cy="72.67" r="0.38" fill="#a49ce0" opacity="0.5"/>
<circle cx="288.61" cy="55.69" r="0.38" fill="#c48ad0" opacity="0.5"/>
<circle cx="279.86" cy="68.97" r="0.38" fill="#a49ce0" opacity="0.5"/>
<circle cx="289.44" cy="52.84" r="0.38" fill="#8a80d0" opacity="0.5"/>
<circle cx="285.75" cy="65.17" r="0.38" fill="#c48ad0" opacity="0.5"/>
<circle cx="293.11" cy="52.52" r="0.38" fill="#a49ce0" opacity="0.5"/>
<circle cx="287.17" cy="59.20" r="0.38" fill="#b7a6e0" opacity="0.5"/>
<circle cx="291.80" cy="48.41" r="0.38" fill="#b7a6e0" opacity="0.5"/>
<circle cx="278.67" cy="80.28" r="0.38" fill="#a49ce0" opacity="0.5"/>
<circle cx="289.73" cy="55.11" r="0.38" fill="#c48ad0" opacity="0.5"/>
<circle cx="294.07" cy="52.50" r="0.38" fill="#b7a6e0" opacity="0.5"/>
<circle cx="295.83" cy="56.57" r="0.38" fill="#6d68c4" opacity="0.5"/>
<circle cx="284.30" cy="63.40" r="0.38" fill="#c48ad0" opacity="0.5"/>
<circle cx="284.28" cy="69.54" r="0.38" fill="#8a80d0" opacity="0.5"/>
<circle cx="282.83" cy="51.42" r="0.38" fill="#8a80d0" opacity="0.5"/>
<circle cx="288.64" cy="63.85" r="0.38" fill="#c48ad0" opacity="0.5"/>
<circle cx="287.60" cy="68.48" r="0.38" fill="#8a80d0" opacity="0.5"/>
<circle cx="294.59" cy="44.61" r="0.38" fill="#8a80d0" opacity="0.5"/>
<circle cx="287.92" cy="66.62" r="0.38" fill="#a49ce0" opacity="0.5"/>
<circle cx="289.54" cy="43.96" r="0.38" fill="#6d68c4" opacity="0.5"/>
<circle cx="281.37" cy="63.42" r="0.38" fill="#8a80d0" opacity="0.5"/>
<circle cx="287.89" cy="82.84" r="0.38" fill="#b7a6e0" opacity="0.5"/>
<circle cx="289.40" cy="67.74" r="0.38" fill="#c48ad0" opacity="0.5"/>
<circle cx="344.04" cy="69.62" r="0.38" fill="#6d68c4" opacity="0.5"/>
<circle cx="351.53" cy="50.59" r="0.38" fill="#c48ad0" opacity="0.5"/>
<circle cx="346.55" cy="56.83" r="0.38" fill="#b7a6e0" opacity="0.5"/>
<circle cx="344.41" cy="63.87" r="0.38" fill="#b7a6e0" opacity="0.5"/>
<circle cx="341.08" cy="51.54" r="0.38" fill="#b7a6e0" opacity="0.5"/>
<circle cx="345.18" cy="50.96" r="0.38" fill="#a49ce0" opacity="0.5"/>
<circle cx="351.44" cy="46.94" r="0.38" fill="#8a80d0" opacity="0.5"/>
<circle cx="345.83" cy="52.39" r="0.38" fill="#c48ad0" opacity="0.5"/>
<circle cx="352.72" cy="62.35" r="0.38" fill="#6d68c4" opacity="0.5"/>
<circle cx="338.37" cy="57.69" r="0.38" fill="#b7a6e0" opacity="0.5"/>
<circle cx="347.91" cy="31.80" r="0.38" fill="#b7a6e0" opacity="0.5"/>
<circle cx="347.67" cy="41.78" r="0.38" fill="#a49ce0" opacity="0.5"/>
<circle cx="348.08" cy="52.88" r="0.38" fill="#a49ce0" opacity="0.5"/>
<circle cx="342.45" cy="55.65" r="0.38" fill="#b7a6e0" opacity="0.5"/>
<circle cx="351.31" cy="35.34" r="0.38" fill="#b7a6e0" opacity="0.5"/>
<circle cx="341.62" cy="54.73" r="0.38" fill="#6d68c4" opacity="0.5"/>
<circle cx="341.89" cy="52.84" r="0.38" fill="#a49ce0" opacity="0.5"/>
<circle cx="353.29" cy="47.71" r="0.38" fill="#8a80d0" opacity="0.5"/>
<circle cx="359.22" cy="31.43" r="0.38" fill="#a49ce0" opacity="0.5"/>
<circle cx="346.33" cy="46.64" r="0.38" fill="#c48ad0" opacity="0.5"/>
<circle cx="352.25" cy="48.93" r="0.38" fill="#a49ce0" opacity="0.5"/>
<circle cx="341.17" cy="30.49" r="0.38" fill="#6d68c4" opacity="0.5"/>
<circle cx="344.97" cy="59.77" r="0.38" fill="#b7a6e0" opacity="0.5"/>
<circle cx="351.10" cy="67.49" r="0.38" fill="#b7a6e0" opacity="0.5"/>
<circle cx="346.96" cy="54.81" r="0.38" fill="#b7a6e0" opacity="0.5"/>
<circle cx="350.94" cy="34.35" r="0.38" fill="#8a80d0" opacity="0.5"/>
<circle cx="341.92" cy="43.69" r="0.38" fill="#b7a6e0" opacity="0.5"/>
<circle cx="346.88" cy="46.34" r="0.38" fill="#6d68c4" opacity="0.5"/>
<circle cx="329.90" cy="51.79" r="0.38" fill="#6d68c4" opacity="0.5"/>
<circle cx="348.12" cy="56.62" r="0.38" fill="#c48ad0" opacity="0.5"/>
<circle cx="348.70" cy="57.93" r="0.38" fill="#b7a6e0" opacity="0.5"/>
<circle cx="343.64" cy="64.02" r="0.38" fill="#8a80d0" opacity="0.5"/>
<circle cx="350.31" cy="55.48" r="0.38" fill="#6d68c4" opacity="0.5"/>
<circle cx="356.37" cy="51.72" r="0.38" fill="#b7a6e0" opacity="0.5"/>
<circle cx="336.76" cy="70.15" r="0.38" fill="#b7a6e0" opacity="0.5"/>
<circle cx="344.25" cy="43.88" r="0.38" fill="#c48ad0" opacity="0.5"/>
<circle cx="352.65" cy="75.20" r="0.38" fill="#c48ad0" opacity="0.5"/>
<circle cx="342.46" cy="71.08" r="0.38" fill="#a49ce0" opacity="0.5"/>
<circle cx="351.27" cy="52.27" r="0.38" fill="#6d68c4" opacity="0.5"/>
<circle cx="340.66" cy="53.19" r="0.38" fill="#8a80d0" opacity="0.5"/>
<circle cx="354.69" cy="25.44" r="0.38" fill="#6d68c4" opacity="0.5"/>
<circle cx="351.88" cy="58.98" r="0.38" fill="#a49ce0" opacity="0.5"/>
<circle cx="350.93" cy="62.65" r="0.38" fill="#b7a6e0" opacity="0.5"/>
<circle cx="336.50" cy="74.23" r="0.38" fill="#c48ad0" opacity="0.5"/>
<circle cx="347.03" cy="38.56" r="0.38" fill="#8a80d0" opacity="0.5"/>
<circle cx="338.99" cy="39.96" r="0.38" fill="#8a80d0" opacity="0.5"/>
<circle cx="349.69" cy="54.71" r="0.38" fill="#b7a6e0" opacity="0.5"/>
<circle cx="341.68" cy="69.69" r="0.38" fill="#a49ce0" opacity="0.5"/>
<circle cx="342.18" cy="62.62" r="0.38" fill="#6d68c4" opacity="0.5"/>
<circle cx="349.22" cy="49.30" r="0.38" fill="#b7a6e0" opacity="0.5"/>
<circle cx="350.42" cy="69.30" r="0.38" fill="#c48ad0" opacity="0.5"/>
<circle cx="345.95" cy="50.57" r="0.38" fill="#c48ad0" opacity="0.5"/>
<circle cx="344.01" cy="75.51" r="0.38" fill="#a49ce0" opacity="0.5"/>
<circle cx="340.26" cy="69.84" r="0.38" fill="#8a80d0" opacity="0.5"/>
<circle cx="348.20" cy="62.27" r="0.38" fill="#6d68c4" opacity="0.5"/>
<circle cx="345.75" cy="48.86" r="0.38" fill="#a49ce0" opacity="0.5"/>
<circle cx="351.02" cy="65.74" r="0.38" fill="#a49ce0" opacity="0.5"/>
<circle cx="351.10" cy="48.80" r="0.38" fill="#a49ce0" opacity="0.5"/>
<circle cx="346.76" cy="53.28" r="0.38" fill="#a49ce0" opacity="0.5"/>
<circle cx="339.24" cy="74.30" r="0.38" fill="#c48ad0" opacity="0.5"/>
<circle cx="346.07" cy="64.26" r="0.38" fill="#8a80d0" opacity="0.5"/>
<circle cx="349.09" cy="46.90" r="0.38" fill="#a49ce0" opacity="0.5"/>
<circle cx="340.08" cy="61.37" r="0.38" fill="#6d68c4" opacity="0.5"/>
<circle cx="339.14" cy="58.27" r="0.38" fill="#6d68c4" opacity="0.5"/>
<circle cx="340.98" cy="60.65" r="0.38" fill="#b7a6e0" opacity="0.5"/>
<circle cx="346.09" cy="56.91" r="0.38" fill="#c48ad0" opacity="0.5"/>
<circle cx="350.99" cy="55.90" r="0.38" fill="#a49ce0" opacity="0.5"/>
<circle cx="350.48" cy="59.28" r="0.38" fill="#c48ad0" opacity="0.5"/>
<circle cx="352.07" cy="53.88" r="0.38" fill="#a49ce0" opacity="0.5"/>
<circle cx="354.66" cy="40.66" r="0.38" fill="#6d68c4" opacity="0.5"/>
<circle cx="347.49" cy="61.99" r="0.38" fill="#8a80d0" opacity="0.5"/>
<circle cx="353.40" cy="47.52" r="0.38" fill="#a49ce0" opacity="0.5"/>
<circle cx="356.21" cy="43.31" r="0.38" fill="#c48ad0" opacity="0.5"/>
<circle cx="350.27" cy="60.66" r="0.38" fill="#8a80d0" opacity="0.5"/>
<circle cx="346.38" cy="64.38" r="0.38" fill="#8a80d0" opacity="0.5"/>
<circle cx="341.68" cy="53.44" r="0.38" fill="#c48ad0" opacity="0.5"/>
<circle cx="347.13" cy="59.98" r="0.38" fill="#c48ad0" opacity="0.5"/>
<circle cx="337.69" cy="57.32" r="0.38" fill="#6d68c4" opacity="0.5"/>
<circle cx="345.46" cy="61.51" r="0.38" fill="#8a80d0" opacity="0.5"/>
<circle cx="346.83" cy="73.56" r="0.38" fill="#a49ce0" opacity="0.5"/>
<circle cx="346.46" cy="54.85" r="0.38" fill="#c48ad0" opacity="0.5"/>
<circle cx="347.41" cy="53.53" r="0.38" fill="#6d68c4" opacity="0.5"/>
<circle cx="343.42" cy="71.04" r="0.38" fill="#c48ad0" opacity="0.5"/>
<circle cx="340.46" cy="60.90" r="0.38" fill="#8a80d0" opacity="0.5"/>
<circle cx="353.46" cy="42.22" r="0.38" fill="#8a80d0" opacity="0.5"/>
<circle cx="346.70" cy="59.09" r="0.38" fill="#8a80d0" opacity="0.5"/>
<circle cx="347.82" cy="52.56" r="0.38" fill="#c48ad0" opacity="0.5"/>
<circle cx="343.29" cy="55.93" r="0.38" fill="#8a80d0" opacity="0.5"/>
<circle cx="339.90" cy="67.89" r="0.38" fill="#c48ad0" opacity="0.5"/>
<circle cx="343.40" cy="63.80" r="0.38" fill="#6d68c4" opacity="0.5"/>
<circle cx="343.43" cy="58.08" r="0.38" fill="#8a80d0" opacity="0.5"/>
<circle cx="346.89" cy="45.48" r="0.38" fill="#8a80d0" opacity="0.5"/>
<circle cx="345.00" cy="54.48" r="0.38" fill="#b7a6e0" opacity="0.5"/>
<circle cx="341.77" cy="43.35" r="0.38" fill="#b7a6e0" opacity="0.5"/>
<circle cx="345.55" cy="53.40" r="0.38" fill="#b7a6e0" opacity="0.5"/>
<circle cx="351.14" cy="62.04" r="0.38" fill="#6d68c4" opacity="0.5"/>
<circle cx="338.47" cy="62.91" r="0.38" fill="#b7a6e0" opacity="0.5"/>
<circle cx="349.01" cy="57.41" r="0.38" fill="#6d68c4" opacity="0.5"/>
<circle cx="346.10" cy="51.97" r="0.38" fill="#b7a6e0" opacity="0.5"/>
<circle cx="345.39" cy="61.72" r="0.38" fill="#8a80d0" opacity="0.5"/>
<circle cx="350.76" cy="52.64" r="0.38" fill="#c48ad0" opacity="0.5"/>
<circle cx="348.34" cy="47.99" r="0.38" fill="#b7a6e0" opacity="0.5"/>
<circle cx="346.30" cy="31.45" r="0.38" fill="#c48ad0" opacity="0.5"/>
<circle cx="350.51" cy="40.80" r="0.38" fill="#6d68c4" opacity="0.5"/>
<circle cx="344.40" cy="53.68" r="0.38" fill="#c48ad0" opacity="0.5"/>
<circle cx="347.05" cy="43.81" r="0.38" fill="#a49ce0" opacity="0.5"/>
<circle cx="346.78" cy="52.81" r="0.38" fill="#8a80d0" opacity="0.5"/>
<circle cx="340.99" cy="48.67" r="0.38" fill="#b7a6e0" opacity="0.5"/>
<circle cx="346.05" cy="58.21" r="0.38" fill="#8a80d0" opacity="0.5"/>
<circle cx="348.06" cy="57.24" r="0.38" fill="#b7a6e0" opacity="0.5"/>
<circle cx="404.09" cy="62.98" r="0.38" fill="#b7a6e0" opacity="0.5"/>
<circle cx="403.93" cy="59.01" r="0.38" fill="#8a80d0" opacity="0.5"/>
<circle cx="395.93" cy="67.97" r="0.38" fill="#8a80d0" opacity="0.5"/>
<circle cx="402.30" cy="69.57" r="0.38" fill="#6d68c4" opacity="0.5"/>
<circle cx="412.11" cy="43.82" r="0.38" fill="#6d68c4" opacity="0.5"/>
<circle cx="400.05" cy="78.45" r="0.38" fill="#6d68c4" opacity="0.5"/>
<circle cx="407.93" cy="53.95" r="0.38" fill="#6d68c4" opacity="0.5"/>
<circle cx="397.91" cy="74.93" r="0.38" fill="#6d68c4" opacity="0.5"/>
<circle cx="406.73" cy="66.26" r="0.38" fill="#b7a6e0" opacity="0.5"/>
<circle cx="403.59" cy="58.12" r="0.38" fill="#b7a6e0" opacity="0.5"/>
<circle cx="396.77" cy="78.49" r="0.38" fill="#c48ad0" opacity="0.5"/>
<circle cx="405.91" cy="58.21" r="0.38" fill="#6d68c4" opacity="0.5"/>
<circle cx="402.61" cy="49.28" r="0.38" fill="#c48ad0" opacity="0.5"/>
<circle cx="403.43" cy="67.75" r="0.38" fill="#6d68c4" opacity="0.5"/>
<circle cx="403.01" cy="60.52" r="0.38" fill="#6d68c4" opacity="0.5"/>
<circle cx="399.58" cy="73.97" r="0.38" fill="#8a80d0" opacity="0.5"/>
<circle cx="408.20" cy="63.88" r="0.38" fill="#6d68c4" opacity="0.5"/>
<circle cx="401.61" cy="55.98" r="0.38" fill="#6d68c4" opacity="0.5"/>
<circle cx="404.52" cy="70.01" r="0.38" fill="#8a80d0" opacity="0.5"/>
<circle cx="402.59" cy="61.34" r="0.38" fill="#b7a6e0" opacity="0.5"/>
<circle cx="402.09" cy="66.65" r="0.38" fill="#c48ad0" opacity="0.5"/>
<circle cx="400.19" cy="68.17" r="0.38" fill="#6d68c4" opacity="0.5"/>
<circle cx="405.61" cy="61.10" r="0.38" fill="#a49ce0" opacity="0.5"/>
<circle cx="400.71" cy="69.76" r="0.38" fill="#a49ce0" opacity="0.5"/>
<circle cx="405.46" cy="74.55" r="0.38" fill="#6d68c4" opacity="0.5"/>
<circle cx="404.31" cy="59.32" r="0.38" fill="#8a80d0" opacity="0.5"/>
<circle cx="416.00" cy="48.36" r="0.38" fill="#6d68c4" opacity="0.5"/>
<circle cx="407.58" cy="60.69" r="0.38" fill="#a49ce0" opacity="0.5"/>
<circle cx="409.01" cy="50.59" r="0.38" fill="#c48ad0" opacity="0.5"/>
<circle cx="406.01" cy="55.73" r="0.38" fill="#c48ad0" opacity="0.5"/>
<circle cx="403.46" cy="67.98" r="0.38" fill="#a49ce0" opacity="0.5"/>
<circle cx="401.24" cy="70.43" r="0.38" fill="#a49ce0" opacity="0.5"/>
<circle cx="404.83" cy="59.94" r="0.38" fill="#8a80d0" opacity="0.5"/>
<circle cx="401.83" cy="60.26" r="0.38" fill="#6d68c4" opacity="0.5"/>
<circle cx="409.38" cy="60.23" r="0.38" fill="#b7a6e0" opacity="0.5"/>
<circle cx="408.91" cy="59.13" r="0.38" fill="#a49ce0" opacity="0.5"/>
<circle cx="405.49" cy="61.28" r="0.38" fill="#a49ce0" opacity="0.5"/>
<circle cx="403.43" cy="43.91" r="0.38" fill="#c48ad0" opacity="0.5"/>
<circle cx="407.87" cy="62.73" r="0.38" fill="#a49ce0" opacity="0.5"/>
<circle cx="404.30" cy="60.92" r="0.38" fill="#c48ad0" opacity="0.5"/>
<circle cx="392.59" cy="85.72" r="0.38" fill="#a49ce0" opacity="0.5"/>
<circle cx="402.87" cy="59.07" r="0.38" fill="#b7a6e0" opacity="0.5"/>
<circle cx="403.18" cy="58.53" r="0.38" fill="#b7a6e0" opacity="0.5"/>
<circle cx="399.00" cy="76.76" r="0.38" fill="#a49ce0" opacity="0.5"/>
<circle cx="404.63" cy="58.74" r="0.38" fill="#6d68c4" opacity="0.5"/>
<circle cx="401.56" cy="69.30" r="0.38" fill="#a49ce0" opacity="0.5"/>
<circle cx="402.18" cy="61.54" r="0.38" fill="#6d68c4" opacity="0.5"/>
<circle cx="409.71" cy="67.52" r="0.38" fill="#c48ad0" opacity="0.5"/>
<circle cx="405.62" cy="67.41" r="0.38" fill="#8a80d0" opacity="0.5"/>
<circle cx="404.02" cy="58.65" r="0.38" fill="#a49ce0" opacity="0.5"/>
<circle cx="410.66" cy="55.59" r="0.38" fill="#a49ce0" opacity="0.5"/>
<circle cx="399.27" cy="68.76" r="0.38" fill="#6d68c4" opacity="0.5"/>
<circle cx="410.32" cy="50.02" r="0.38" fill="#6d68c4" opacity="0.5"/>
<circle cx="401.21" cy="65.59" r="0.38" fill="#b7a6e0" opacity="0.5"/>
<circle cx="408.85" cy="71.74" r="0.38" fill="#a49ce0" opacity="0.5"/>
<circle cx="409.77" cy="66.25" r="0.38" fill="#a49ce0" opacity="0.5"/>
<circle cx="408.08" cy="52.43" r="0.38" fill="#8a80d0" opacity="0.5"/>
<circle cx="411.97" cy="50.74" r="0.38" fill="#b7a6e0" opacity="0.5"/>
<circle cx="403.03" cy="51.45" r="0.38" fill="#b7a6e0" opacity="0.5"/>
<circle cx="405.20" cy="59.69" r="0.38" fill="#a49ce0" opacity="0.5"/>
<circle cx="411.01" cy="62.65" r="0.38" fill="#8a80d0" opacity="0.5"/>
<circle cx="398.10" cy="66.34" r="0.38" fill="#b7a6e0" opacity="0.5"/>
<circle cx="410.84" cy="52.57" r="0.38" fill="#a49ce0" opacity="0.5"/>
<circle cx="403.98" cy="69.64" r="0.38" fill="#c48ad0" opacity="0.5"/>
<circle cx="409.34" cy="49.74" r="0.38" fill="#c48ad0" opacity="0.5"/>
<circle cx="403.80" cy="59.86" r="0.38" fill="#c48ad0" opacity="0.5"/>
<circle cx="405.75" cy="67.13" r="0.38" fill="#6d68c4" opacity="0.5"/>
<circle cx="405.18" cy="55.63" r="0.38" fill="#6d68c4" opacity="0.5"/>
<circle cx="407.78" cy="69.32" r="0.38" fill="#8a80d0" opacity="0.5"/>
<circle cx="401.87" cy="66.18" r="0.38" fill="#8a80d0" opacity="0.5"/>
<circle cx="406.67" cy="65.58" r="0.38" fill="#b7a6e0" opacity="0.5"/>
<circle cx="399.58" cy="82.10" r="0.38" fill="#b7a6e0" opacity="0.5"/>
<circle cx="402.22" cy="68.84" r="0.38" fill="#b7a6e0" opacity="0.5"/>
<circle cx="405.77" cy="61.79" r="0.38" fill="#c48ad0" opacity="0.5"/>
<circle cx="409.06" cy="51.61" r="0.38" fill="#b7a6e0" opacity="0.5"/>
<circle cx="398.86" cy="64.23" r="0.38" fill="#b7a6e0" opacity="0.5"/>
<circle cx="408.47" cy="68.19" r="0.38" fill="#a49ce0" opacity="0.5"/>
<circle cx="406.26" cy="42.58" r="0.38" fill="#b7a6e0" opacity="0.5"/>
<circle cx="398.07" cy="64.35" r="0.38" fill="#a49ce0" opacity="0.5"/>
<circle cx="402.83" cy="62.19" r="0.38" fill="#a49ce0" opacity="0.5"/>
<circle cx="464.59" cy="49.00" r="0.38" fill="#c48ad0" opacity="0.5"/>
<circle cx="467.29" cy="62.92" r="0.38" fill="#a49ce0" opacity="0.5"/>
<circle cx="466.10" cy="43.96" r="0.38" fill="#8a80d0" opacity="0.5"/>
<circle cx="455.93" cy="70.76" r="0.38" fill="#b7a6e0" opacity="0.5"/>
<circle cx="461.91" cy="55.62" r="0.38" fill="#8a80d0" opacity="0.5"/>
<circle cx="467.37" cy="51.27" r="0.38" fill="#a49ce0" opacity="0.5"/>
<circle cx="471.66" cy="54.38" r="0.38" fill="#a49ce0" opacity="0.5"/>
<circle cx="465.87" cy="56.77" r="0.38" fill="#c48ad0" opacity="0.5"/>
<circle cx="464.52" cy="56.62" r="0.38" fill="#8a80d0" opacity="0.5"/>
<circle cx="464.96" cy="59.96" r="0.38" fill="#a49ce0" opacity="0.5"/>
<circle cx="466.81" cy="59.38" r="0.38" fill="#a49ce0" opacity="0.5"/>
<circle cx="455.11" cy="80.25" r="0.38" fill="#c48ad0" opacity="0.5"/>
<circle cx="470.63" cy="52.77" r="0.38" fill="#a49ce0" opacity="0.5"/>
<circle cx="470.60" cy="56.87" r="0.38" fill="#b7a6e0" opacity="0.5"/>
<circle cx="460.96" cy="67.32" r="0.38" fill="#a49ce0" opacity="0.5"/>
<circle cx="467.71" cy="58.19" r="0.38" fill="#6d68c4" opacity="0.5"/>
<circle cx="459.33" cy="70.43" r="0.38" fill="#8a80d0" opacity="0.5"/>
<circle cx="463.45" cy="51.06" r="0.38" fill="#8a80d0" opacity="0.5"/>
<circle cx="457.27" cy="73.79" r="0.38" fill="#b7a6e0" opacity="0.5"/>
<circle cx="465.82" cy="54.67" r="0.38" fill="#b7a6e0" opacity="0.5"/>
<circle cx="465.32" cy="57.11" r="0.38" fill="#8a80d0" opacity="0.5"/>
<circle cx="468.19" cy="58.48" r="0.38" fill="#b7a6e0" opacity="0.5"/>
<circle cx="469.25" cy="63.60" r="0.38" fill="#6d68c4" opacity="0.5"/>
<circle cx="456.35" cy="69.88" r="0.38" fill="#b7a6e0" opacity="0.5"/>
<circle cx="465.86" cy="62.21" r="0.38" fill="#a49ce0" opacity="0.5"/>
<circle cx="464.68" cy="64.93" r="0.38" fill="#b7a6e0" opacity="0.5"/>
<circle cx="460.64" cy="65.99" r="0.38" fill="#c48ad0" opacity="0.5"/>
<circle cx="461.15" cy="69.42" r="0.38" fill="#c48ad0" opacity="0.5"/>
<circle cx="470.04" cy="44.87" r="0.38" fill="#6d68c4" opacity="0.5"/>
<circle cx="469.97" cy="67.23" r="0.38" fill="#8a80d0" opacity="0.5"/>
<circle cx="461.96" cy="70.14" r="0.38" fill="#6d68c4" opacity="0.5"/>
<circle cx="468.37" cy="57.07" r="0.38" fill="#c48ad0" opacity="0.5"/>
<circle cx="465.87" cy="68.43" r="0.38" fill="#6d68c4" opacity="0.5"/>
<circle cx="464.02" cy="63.26" r="0.38" fill="#a49ce0" opacity="0.5"/>
<circle cx="466.74" cy="52.67" r="0.38" fill="#b7a6e0" opacity="0.5"/>
<circle cx="464.28" cy="62.45" r="0.38" fill="#c48ad0" opacity="0.5"/>
<circle cx="462.26" cy="57.10" r="0.38" fill="#a49ce0" opacity="0.5"/>
<circle cx="467.26" cy="52.19" r="0.38" fill="#6d68c4" opacity="0.5"/>
<circle cx="460.69" cy="61.33" r="0.38" fill="#8a80d0" opacity="0.5"/>
<circle cx="469.43" cy="59.96" r="0.38" fill="#b7a6e0" opacity="0.5"/>
<circle cx="461.76" cy="64.60" r="0.38" fill="#c48ad0" opacity="0.5"/>
<circle cx="469.98" cy="57.77" r="0.38" fill="#b7a6e0" opacity="0.5"/>
<circle cx="465.08" cy="66.52" r="0.38" fill="#a49ce0" opacity="0.5"/>
<circle cx="466.37" cy="64.26" r="0.38" fill="#a49ce0" opacity="0.5"/>
<circle cx="450.23" cy="65.36" r="0.38" fill="#a49ce0" opacity="0.5"/>
<circle cx="468.38" cy="59.79" r="0.38" fill="#b7a6e0" opacity="0.5"/>
<circle cx="466.11" cy="52.79" r="0.38" fill="#6d68c4" opacity="0.5"/>
<circle cx="460.79" cy="68.03" r="0.38" fill="#a49ce0" opacity="0.5"/>
<circle cx="465.13" cy="71.76" r="0.38" fill="#c48ad0" opacity="0.5"/>
<circle cx="469.77" cy="58.52" r="0.38" fill="#b7a6e0" opacity="0.5"/>
<circle cx="467.31" cy="56.53" r="0.38" fill="#b7a6e0" opacity="0.5"/>
<circle cx="458.55" cy="74.35" r="0.38" fill="#c48ad0" opacity="0.5"/>
<circle cx="457.06" cy="70.13" r="0.38" fill="#6d68c4" opacity="0.5"/>
<circle cx="467.36" cy="47.71" r="0.38" fill="#6d68c4" opacity="0.5"/>
<circle cx="457.89" cy="68.87" r="0.38" fill="#6d68c4" opacity="0.5"/>
<circle cx="467.88" cy="54.73" r="0.38" fill="#6d68c4" opacity="0.5"/>
<circle cx="467.99" cy="58.90" r="0.38" fill="#a49ce0" opacity="0.5"/>
<circle cx="464.43" cy="59.23" r="0.38" fill="#c48ad0" opacity="0.5"/>
<circle cx="467.70" cy="52.72" r="0.38" fill="#6d68c4" opacity="0.5"/>
<circle cx="457.90" cy="61.63" r="0.38" fill="#6d68c4" opacity="0.5"/>
<circle cx="458.49" cy="69.02" r="0.38" fill="#b7a6e0" opacity="0.5"/>
<circle cx="456.41" cy="71.92" r="0.38" fill="#b7a6e0" opacity="0.5"/>
<circle cx="473.20" cy="59.54" r="0.38" fill="#c48ad0" opacity="0.5"/>
<circle cx="463.19" cy="80.35" r="0.38" fill="#a49ce0" opacity="0.5"/>
<circle cx="474.46" cy="44.30" r="0.38" fill="#b7a6e0" opacity="0.5"/>
<circle cx="463.13" cy="63.26" r="0.38" fill="#b7a6e0" opacity="0.5"/>
<circle cx="462.34" cy="73.88" r="0.38" fill="#c48ad0" opacity="0.5"/>
<circle cx="458.32" cy="55.40" r="0.38" fill="#6d68c4" opacity="0.5"/>
<circle cx="464.63" cy="48.41" r="0.38" fill="#6d68c4" opacity="0.5"/>
<circle cx="465.18" cy="57.98" r="0.38" fill="#a49ce0" opacity="0.5"/>
<circle cx="463.22" cy="52.57" r="0.38" fill="#a49ce0" opacity="0.5"/>
<circle cx="460.89" cy="72.95" r="0.38" fill="#8a80d0" opacity="0.5"/>
<circle cx="473.70" cy="61.04" r="0.38" fill="#a49ce0" opacity="0.5"/>
<circle cx="465.57" cy="62.06" r="0.38" fill="#6d68c4" opacity="0.5"/>
<circle cx="468.69" cy="59.29" r="0.38" fill="#c48ad0" opacity="0.5"/>
<circle cx="467.12" cy="63.30" r="0.38" fill="#b7a6e0" opacity="0.5"/>
<circle cx="465.01" cy="56.99" r="0.38" fill="#a49ce0" opacity="0.5"/>
<circle cx="458.46" cy="78.40" r="0.38" fill="#8a80d0" opacity="0.5"/>
<circle cx="454.10" cy="75.23" r="0.38" fill="#b7a6e0" opacity="0.5"/>
<circle cx="471.17" cy="51.50" r="0.38" fill="#c48ad0" opacity="0.5"/>
<circle cx="249.65" cy="44.77" r="0.38" fill="#9a92d8" opacity="0.55"/>
<circle cx="247.77" cy="56.82" r="0.38" fill="#8a80d0" opacity="0.55"/>
<circle cx="246.48" cy="51.23" r="0.38" fill="#4f58b8" opacity="0.55"/>
<circle cx="247.29" cy="60.51" r="0.38" fill="#9a92d8" opacity="0.55"/>
<circle cx="249.59" cy="46.83" r="0.38" fill="#9a92d8" opacity="0.55"/>
<circle cx="250.61" cy="53.84" r="0.38" fill="#6a66c4" opacity="0.55"/>
<circle cx="248.26" cy="68.56" r="0.38" fill="#4f58b8" opacity="0.55"/>
<circle cx="246.24" cy="49.54" r="0.38" fill="#6a66c4" opacity="0.55"/>
<circle cx="249.23" cy="53.08" r="0.38" fill="#6a66c4" opacity="0.55"/>
<circle cx="245.54" cy="65.16" r="0.38" fill="#4f58b8" opacity="0.55"/>
<circle cx="246.45" cy="60.14" r="0.38" fill="#8a80d0" opacity="0.55"/>
<circle cx="246.90" cy="45.35" r="0.38" fill="#6a66c4" opacity="0.55"/>
<circle cx="251.07" cy="55.97" r="0.38" fill="#8a80d0" opacity="0.55"/>
<circle cx="251.11" cy="43.57" r="0.38" fill="#9a92d8" opacity="0.55"/>
<circle cx="253.17" cy="52.09" r="0.38" fill="#6a66c4" opacity="0.55"/>
<circle cx="246.53" cy="54.48" r="0.38" fill="#9a92d8" opacity="0.55"/>
<circle cx="245.91" cy="68.98" r="0.38" fill="#6a66c4" opacity="0.55"/>
<circle cx="243.69" cy="58.78" r="0.38" fill="#8a80d0" opacity="0.55"/>
<circle cx="250.03" cy="67.04" r="0.38" fill="#4f58b8" opacity="0.55"/>
<circle cx="247.51" cy="51.31" r="0.38" fill="#8a80d0" opacity="0.55"/>
<circle cx="248.53" cy="63.24" r="0.38" fill="#6a66c4" opacity="0.55"/>
<circle cx="247.96" cy="63.54" r="0.38" fill="#4f58b8" opacity="0.55"/>
<circle cx="244.20" cy="54.58" r="0.38" fill="#4f58b8" opacity="0.55"/>
<circle cx="244.99" cy="65.81" r="0.38" fill="#4f58b8" opacity="0.55"/>
<circle cx="254.03" cy="83.67" r="0.38" fill="#6a66c4" opacity="0.55"/>
<circle cx="248.46" cy="68.93" r="0.38" fill="#9a92d8" opacity="0.55"/>
<circle cx="249.65" cy="64.01" r="0.38" fill="#6a66c4" opacity="0.55"/>
<circle cx="251.01" cy="51.70" r="0.38" fill="#9a92d8" opacity="0.55"/>
<circle cx="242.71" cy="63.67" r="0.38" fill="#6a66c4" opacity="0.55"/>
<circle cx="244.74" cy="57.90" r="0.38" fill="#9a92d8" opacity="0.55"/>
<circle cx="249.28" cy="57.18" r="0.38" fill="#4f58b8" opacity="0.55"/>
<circle cx="243.43" cy="62.64" r="0.38" fill="#8a80d0" opacity="0.55"/>
<circle cx="250.74" cy="60.32" r="0.38" fill="#4f58b8" opacity="0.55"/>
<circle cx="245.73" cy="54.86" r="0.38" fill="#4f58b8" opacity="0.55"/>
<circle cx="245.29" cy="58.76" r="0.38" fill="#4f58b8" opacity="0.55"/>
<circle cx="253.61" cy="57.20" r="0.38" fill="#9a92d8" opacity="0.55"/>
<circle cx="246.25" cy="54.83" r="0.38" fill="#9a92d8" opacity="0.55"/>
<circle cx="246.33" cy="51.18" r="0.38" fill="#9a92d8" opacity="0.55"/>
<circle cx="243.90" cy="59.05" r="0.38" fill="#9a92d8" opacity="0.55"/>
<circle cx="245.35" cy="69.41" r="0.38" fill="#9a92d8" opacity="0.55"/>
<circle cx="247.21" cy="53.06" r="0.38" fill="#9a92d8" opacity="0.55"/>
<circle cx="251.85" cy="57.20" r="0.38" fill="#8a80d0" opacity="0.55"/>
<circle cx="249.72" cy="56.54" r="0.38" fill="#6a66c4" opacity="0.55"/>
<circle cx="243.58" cy="44.26" r="0.38" fill="#8a80d0" opacity="0.55"/>
<circle cx="251.86" cy="61.82" r="0.38" fill="#6a66c4" opacity="0.55"/>
<circle cx="246.93" cy="51.94" r="0.38" fill="#9a92d8" opacity="0.55"/>
<circle cx="248.28" cy="56.75" r="0.38" fill="#8a80d0" opacity="0.55"/>
<circle cx="248.49" cy="64.28" r="0.38" fill="#6a66c4" opacity="0.55"/>
<circle cx="243.25" cy="65.35" r="0.38" fill="#9a92d8" opacity="0.55"/>
<circle cx="249.14" cy="61.75" r="0.38" fill="#4f58b8" opacity="0.55"/>
<circle cx="246.48" cy="62.36" r="0.38" fill="#8a80d0" opacity="0.55"/>
<circle cx="246.61" cy="56.17" r="0.38" fill="#6a66c4" opacity="0.55"/>
<circle cx="247.55" cy="56.62" r="0.38" fill="#9a92d8" opacity="0.55"/>
<circle cx="241.98" cy="62.69" r="0.38" fill="#6a66c4" opacity="0.55"/>
<circle cx="247.40" cy="55.01" r="0.38" fill="#6a66c4" opacity="0.55"/>
<circle cx="249.04" cy="68.67" r="0.38" fill="#4f58b8" opacity="0.55"/>
<circle cx="252.68" cy="49.98" r="0.38" fill="#9a92d8" opacity="0.55"/>
<circle cx="247.07" cy="58.98" r="0.38" fill="#8a80d0" opacity="0.55"/>
<circle cx="248.54" cy="54.34" r="0.38" fill="#9a92d8" opacity="0.55"/>
<circle cx="244.77" cy="59.98" r="0.38" fill="#4f58b8" opacity="0.55"/>
<circle cx="244.14" cy="60.31" r="0.38" fill="#4f58b8" opacity="0.55"/>
<circle cx="249.76" cy="58.21" r="0.38" fill="#6a66c4" opacity="0.55"/>
<circle cx="251.62" cy="67.16" r="0.38" fill="#4f58b8" opacity="0.55"/>
<circle cx="246.69" cy="67.92" r="0.38" fill="#9a92d8" opacity="0.55"/>
<circle cx="248.23" cy="58.07" r="0.38" fill="#6a66c4" opacity="0.55"/>
<circle cx="247.04" cy="69.88" r="0.38" fill="#8a80d0" opacity="0.55"/>
<circle cx="246.97" cy="58.51" r="0.38" fill="#8a80d0" opacity="0.55"/>
<circle cx="247.17" cy="60.73" r="0.38" fill="#8a80d0" opacity="0.55"/>
<circle cx="247.24" cy="51.98" r="0.38" fill="#6a66c4" opacity="0.55"/>
<circle cx="249.21" cy="69.14" r="0.38" fill="#9a92d8" opacity="0.55"/>
<circle cx="305.16" cy="62.97" r="0.38" fill="#6a66c4" opacity="0.55"/>
<circle cx="309.07" cy="63.72" r="0.38" fill="#4f58b8" opacity="0.55"/>
<circle cx="301.99" cy="49.67" r="0.38" fill="#8a80d0" opacity="0.55"/>
<circle cx="309.14" cy="61.34" r="0.38" fill="#6a66c4" opacity="0.55"/>
<circle cx="305.38" cy="69.06" r="0.38" fill="#6a66c4" opacity="0.55"/>
<circle cx="307.53" cy="55.47" r="0.38" fill="#8a80d0" opacity="0.55"/>
<circle cx="304.75" cy="51.00" r="0.38" fill="#6a66c4" opacity="0.55"/>
<circle cx="304.30" cy="54.97" r="0.38" fill="#8a80d0" opacity="0.55"/>
<circle cx="311.29" cy="64.20" r="0.38" fill="#4f58b8" opacity="0.55"/>
<circle cx="302.67" cy="63.43" r="0.38" fill="#4f58b8" opacity="0.55"/>
<circle cx="302.90" cy="54.06" r="0.38" fill="#6a66c4" opacity="0.55"/>
<circle cx="303.50" cy="53.00" r="0.38" fill="#4f58b8" opacity="0.55"/>
<circle cx="309.23" cy="66.66" r="0.38" fill="#6a66c4" opacity="0.55"/>
<circle cx="304.70" cy="52.37" r="0.38" fill="#9a92d8" opacity="0.55"/>
<circle cx="308.02" cy="50.31" r="0.38" fill="#9a92d8" opacity="0.55"/>
<circle cx="304.43" cy="63.41" r="0.38" fill="#8a80d0" opacity="0.55"/>
<circle cx="306.41" cy="53.28" r="0.38" fill="#4f58b8" opacity="0.55"/>
<circle cx="300.92" cy="55.73" r="0.38" fill="#9a92d8" opacity="0.55"/>
<circle cx="301.84" cy="80.37" r="0.38" fill="#6a66c4" opacity="0.55"/>
<circle cx="304.72" cy="58.43" r="0.38" fill="#4f58b8" opacity="0.55"/>
<circle cx="307.40" cy="66.75" r="0.38" fill="#6a66c4" opacity="0.55"/>
<circle cx="307.62" cy="58.38" r="0.38" fill="#4f58b8" opacity="0.55"/>
<circle cx="304.20" cy="65.05" r="0.38" fill="#9a92d8" opacity="0.55"/>
<circle cx="304.13" cy="54.44" r="0.38" fill="#6a66c4" opacity="0.55"/>
<circle cx="309.84" cy="56.31" r="0.38" fill="#6a66c4" opacity="0.55"/>
<circle cx="309.99" cy="64.10" r="0.38" fill="#9a92d8" opacity="0.55"/>
<circle cx="304.85" cy="66.58" r="0.38" fill="#4f58b8" opacity="0.55"/>
<circle cx="309.42" cy="60.64" r="0.38" fill="#8a80d0" opacity="0.55"/>
<circle cx="304.55" cy="52.74" r="0.38" fill="#8a80d0" opacity="0.55"/>
<circle cx="307.08" cy="54.87" r="0.38" fill="#8a80d0" opacity="0.55"/>
<circle cx="299.96" cy="68.97" r="0.38" fill="#9a92d8" opacity="0.55"/>
<circle cx="308.63" cy="63.54" r="0.38" fill="#4f58b8" opacity="0.55"/>
<circle cx="311.56" cy="49.66" r="0.38" fill="#4f58b8" opacity="0.55"/>
<circle cx="306.87" cy="36.30" r="0.38" fill="#9a92d8" opacity="0.55"/>
<circle cx="308.14" cy="58.00" r="0.38" fill="#8a80d0" opacity="0.55"/>
<circle cx="307.69" cy="68.77" r="0.38" fill="#6a66c4" opacity="0.55"/>
<circle cx="302.46" cy="59.53" r="0.38" fill="#4f58b8" opacity="0.55"/>
<circle cx="305.54" cy="63.33" r="0.38" fill="#4f58b8" opacity="0.55"/>
<circle cx="305.00" cy="54.33" r="0.38" fill="#8a80d0" opacity="0.55"/>
<circle cx="306.23" cy="49.95" r="0.38" fill="#6a66c4" opacity="0.55"/>
<circle cx="300.26" cy="62.63" r="0.38" fill="#9a92d8" opacity="0.55"/>
<circle cx="303.51" cy="63.47" r="0.38" fill="#9a92d8" opacity="0.55"/>
<circle cx="305.98" cy="56.79" r="0.38" fill="#6a66c4" opacity="0.55"/>
<circle cx="309.59" cy="58.56" r="0.38" fill="#6a66c4" opacity="0.55"/>
<circle cx="305.62" cy="61.14" r="0.38" fill="#6a66c4" opacity="0.55"/>
<circle cx="303.63" cy="54.59" r="0.38" fill="#4f58b8" opacity="0.55"/>
<circle cx="305.81" cy="56.91" r="0.38" fill="#8a80d0" opacity="0.55"/>
<circle cx="305.53" cy="55.89" r="0.38" fill="#4f58b8" opacity="0.55"/>
<circle cx="310.52" cy="56.48" r="0.38" fill="#9a92d8" opacity="0.55"/>
<circle cx="309.09" cy="70.26" r="0.38" fill="#9a92d8" opacity="0.55"/>
<circle cx="303.83" cy="59.54" r="0.38" fill="#8a80d0" opacity="0.55"/>
<circle cx="307.98" cy="63.61" r="0.38" fill="#4f58b8" opacity="0.55"/>
<circle cx="301.82" cy="60.09" r="0.38" fill="#6a66c4" opacity="0.55"/>
<circle cx="306.06" cy="78.04" r="0.38" fill="#4f58b8" opacity="0.55"/>
<circle cx="307.61" cy="67.18" r="0.38" fill="#6a66c4" opacity="0.55"/>
<circle cx="307.34" cy="52.34" r="0.38" fill="#6a66c4" opacity="0.55"/>
<circle cx="306.37" cy="53.08" r="0.38" fill="#4f58b8" opacity="0.55"/>
<circle cx="309.16" cy="55.22" r="0.38" fill="#8a80d0" opacity="0.55"/>
<circle cx="301.85" cy="55.59" r="0.38" fill="#4f58b8" opacity="0.55"/>
<circle cx="304.82" cy="50.41" r="0.38" fill="#8a80d0" opacity="0.55"/>
<circle cx="309.92" cy="45.46" r="0.38" fill="#8a80d0" opacity="0.55"/>
<circle cx="306.36" cy="67.93" r="0.38" fill="#6a66c4" opacity="0.55"/>
<circle cx="311.59" cy="58.71" r="0.38" fill="#9a92d8" opacity="0.55"/>
<circle cx="304.65" cy="71.14" r="0.38" fill="#4f58b8" opacity="0.55"/>
<circle cx="299.25" cy="64.29" r="0.38" fill="#4f58b8" opacity="0.55"/>
<circle cx="309.29" cy="57.21" r="0.38" fill="#8a80d0" opacity="0.55"/>
<circle cx="308.34" cy="64.68" r="0.38" fill="#4f58b8" opacity="0.55"/>
<circle cx="306.23" cy="69.79" r="0.38" fill="#6a66c4" opacity="0.55"/>
<circle cx="302.06" cy="59.98" r="0.38" fill="#6a66c4" opacity="0.55"/>
<circle cx="307.56" cy="55.63" r="0.38" fill="#9a92d8" opacity="0.55"/>
<circle cx="308.96" cy="46.17" r="0.38" fill="#9a92d8" opacity="0.55"/>
<circle cx="309.42" cy="53.85" r="0.38" fill="#4f58b8" opacity="0.55"/>
<circle cx="311.13" cy="69.68" r="0.38" fill="#9a92d8" opacity="0.55"/>
<circle cx="301.41" cy="61.44" r="0.38" fill="#6a66c4" opacity="0.55"/>
<circle cx="306.71" cy="54.18" r="0.38" fill="#8a80d0" opacity="0.55"/>
<circle cx="309.97" cy="61.29" r="0.38" fill="#9a92d8" opacity="0.55"/>
<circle cx="307.48" cy="54.88" r="0.38" fill="#9a92d8" opacity="0.55"/>
<circle cx="305.69" cy="52.66" r="0.38" fill="#8a80d0" opacity="0.55"/>
<circle cx="311.28" cy="61.54" r="0.38" fill="#6a66c4" opacity="0.55"/>
<circle cx="300.17" cy="55.11" r="0.38" fill="#9a92d8" opacity="0.55"/>
<circle cx="366.41" cy="77.29" r="0.38" fill="#9a92d4" opacity="0.55"/>
<circle cx="366.65" cy="59.25" r="0.38" fill="#9a92d4" opacity="0.55"/>
<circle cx="365.09" cy="86.99" r="0.38" fill="#9a92d4" opacity="0.55"/>
<circle cx="365.92" cy="58.13" r="0.38" fill="#b0a8dc" opacity="0.55"/>
<circle cx="363.45" cy="59.56" r="0.38" fill="#9a92d4" opacity="0.55"/>
<circle cx="368.86" cy="52.23" r="0.38" fill="#b0a8dc" opacity="0.55"/>
<circle cx="366.47" cy="58.60" r="0.38" fill="#b0a8dc" opacity="0.55"/>
<circle cx="363.64" cy="55.70" r="0.38" fill="#b0a8dc" opacity="0.55"/>
<circle cx="366.54" cy="45.32" r="0.38" fill="#9a92d4" opacity="0.55"/>
<circle cx="367.44" cy="56.90" r="0.38" fill="#c0b8e4" opacity="0.55"/>
<circle cx="367.27" cy="53.68" r="0.38" fill="#9a92d4" opacity="0.55"/>
<circle cx="363.85" cy="67.30" r="0.38" fill="#b0a8dc" opacity="0.55"/>
<circle cx="369.36" cy="51.64" r="0.38" fill="#9a92d4" opacity="0.55"/>
<circle cx="365.36" cy="54.77" r="0.38" fill="#9a92d4" opacity="0.55"/>
<circle cx="365.83" cy="56.42" r="0.38" fill="#c0b8e4" opacity="0.55"/>
<circle cx="367.72" cy="75.23" r="0.38" fill="#c0b8e4" opacity="0.55"/>
<circle cx="363.04" cy="59.70" r="0.38" fill="#b0a8dc" opacity="0.55"/>
<circle cx="365.57" cy="64.29" r="0.38" fill="#b0a8dc" opacity="0.55"/>
<circle cx="368.89" cy="67.34" r="0.38" fill="#9a92d4" opacity="0.55"/>
<circle cx="364.36" cy="55.51" r="0.38" fill="#b0a8dc" opacity="0.55"/>
<circle cx="371.51" cy="52.49" r="0.38" fill="#c0b8e4" opacity="0.55"/>
<circle cx="365.16" cy="52.09" r="0.38" fill="#b0a8dc" opacity="0.55"/>
<circle cx="363.54" cy="55.13" r="0.38" fill="#9a92d4" opacity="0.55"/>
<circle cx="369.10" cy="42.39" r="0.38" fill="#c0b8e4" opacity="0.55"/>
<circle cx="364.32" cy="54.84" r="0.38" fill="#9a92d4" opacity="0.55"/>
<circle cx="365.70" cy="62.37" r="0.38" fill="#9a92d4" opacity="0.55"/>
<circle cx="364.07" cy="60.48" r="0.38" fill="#c0b8e4" opacity="0.55"/>
<circle cx="367.92" cy="53.94" r="0.38" fill="#b0a8dc" opacity="0.55"/>
<circle cx="370.34" cy="69.61" r="0.38" fill="#9a92d4" opacity="0.55"/>
<circle cx="367.14" cy="70.08" r="0.38" fill="#b0a8dc" opacity="0.55"/>
<circle cx="369.45" cy="66.71" r="0.38" fill="#b0a8dc" opacity="0.55"/>
<circle cx="365.42" cy="61.04" r="0.38" fill="#b0a8dc" opacity="0.55"/>
<circle cx="367.80" cy="54.61" r="0.38" fill="#c0b8e4" opacity="0.55"/>
<circle cx="363.81" cy="59.63" r="0.38" fill="#c0b8e4" opacity="0.55"/>
<circle cx="369.95" cy="62.60" r="0.38" fill="#9a92d4" opacity="0.55"/>
<circle cx="367.46" cy="58.99" r="0.38" fill="#c0b8e4" opacity="0.55"/>
<circle cx="365.06" cy="56.14" r="0.38" fill="#c0b8e4" opacity="0.55"/>
<circle cx="365.01" cy="57.26" r="0.38" fill="#c0b8e4" opacity="0.55"/>
<circle cx="366.91" cy="57.59" r="0.38" fill="#9a92d4" opacity="0.55"/>
<circle cx="363.93" cy="66.74" r="0.38" fill="#9a92d4" opacity="0.55"/>
<circle cx="366.79" cy="49.57" r="0.38" fill="#b0a8dc" opacity="0.55"/>
<circle cx="371.42" cy="57.54" r="0.38" fill="#9a92d4" opacity="0.55"/>
<circle cx="369.62" cy="61.29" r="0.38" fill="#c0b8e4" opacity="0.55"/>
<circle cx="367.27" cy="63.45" r="0.38" fill="#b0a8dc" opacity="0.55"/>
<circle cx="365.43" cy="58.14" r="0.38" fill="#c0b8e4" opacity="0.55"/>
<circle cx="424.53" cy="59.68" r="0.38" fill="#c0b8e4" opacity="0.4"/>
<circle cx="427.09" cy="69.11" r="0.38" fill="#c0b8e4" opacity="0.4"/>
<circle cx="422.25" cy="57.48" r="0.38" fill="#c0b8e4" opacity="0.4"/>
<circle cx="423.29" cy="74.08" r="0.38" fill="#c0b8e4" opacity="0.4"/>
<circle cx="426.59" cy="53.17" r="0.38" fill="#c0b8e4" opacity="0.4"/>
<circle cx="428.63" cy="55.58" r="0.38" fill="#c0b8e4" opacity="0.4"/>
<circle cx="426.37" cy="61.87" r="0.38" fill="#c0b8e4" opacity="0.4"/>
<circle cx="427.20" cy="50.25" r="0.38" fill="#c0b8e4" opacity="0.4"/>
<circle cx="427.82" cy="55.42" r="0.38" fill="#c0b8e4" opacity="0.4"/>
<circle cx="426.62" cy="49.72" r="0.38" fill="#c0b8e4" opacity="0.4"/>
<text x="268.9" y="123.2" font-size="7.5" fill="#222" text-anchor="middle" stroke="#222" stroke-width="0.06">Purity (CD3<tspan font-size="5.10" dy="-3">−</tspan><tspan dy="3"> Fraction)</tspan></text>
<text x="191.2" y="149.5" font-size="6.6" fill="#222" text-anchor="middle" transform="rotate(-90 191.2 149.5)" textLength="43.5" lengthAdjust="spacingAndGlyphs" stroke="#222" stroke-width="0.18">CD3<tspan font-size="3.6" dy="-2">−</tspan><tspan dy="2"> fraction (%)</tspan></text>
<line x1="212.6" y1="127.8" x2="212.6" y2="153.6" stroke="#222" stroke-width="1" />
<line x1="212.6" y1="155.6" x2="212.6" y2="171.2" stroke="#222" stroke-width="1" />
<line x1="209.6" y1="131.4" x2="212.6" y2="131.4" stroke="#222" stroke-width="0.8" />
<text x="208.0" y="133.5" font-size="6.0" fill="#333" text-anchor="end" font-weight="normal"  stroke="#333" stroke-width="0.06">100</text>
<line x1="209.6" y1="142" x2="212.6" y2="142" stroke="#222" stroke-width="0.8" />
<text x="208.0" y="144.1" font-size="6.0" fill="#333" text-anchor="end" font-weight="normal"  stroke="#333" stroke-width="0.06">99</text>
<line x1="209.6" y1="152.6" x2="212.6" y2="152.6" stroke="#222" stroke-width="0.8" />
<text x="208.0" y="154.7" font-size="6.0" fill="#333" text-anchor="end" font-weight="normal"  stroke="#333" stroke-width="0.06">98</text>
<line x1="209.6" y1="158.7" x2="212.6" y2="158.7" stroke="#222" stroke-width="0.8" />
<text x="208.0" y="160.79999999999998" font-size="6.0" fill="#333" text-anchor="end" font-weight="normal"  stroke="#333" stroke-width="0.06">90</text>
<line x1="209.6" y1="164.8" x2="212.6" y2="164.8" stroke="#222" stroke-width="0.8" />
<text x="208.0" y="166.9" font-size="6.0" fill="#333" text-anchor="end" font-weight="normal"  stroke="#333" stroke-width="0.06">70</text>
<line x1="209.6" y1="171" x2="212.6" y2="171" stroke="#222" stroke-width="0.8" />
<text x="208.0" y="173.1" font-size="6.0" fill="#333" text-anchor="end" font-weight="normal"  stroke="#333" stroke-width="0.06">50</text>
<line x1="211.4" y1="130.2" x2="212.6" y2="130.2" stroke="#222" stroke-width="0.5" />
<line x1="211.4" y1="132.4" x2="212.6" y2="132.4" stroke="#222" stroke-width="0.5" />
<line x1="211.4" y1="136.7" x2="212.6" y2="136.7" stroke="#222" stroke-width="0.5" />
<line x1="211.4" y1="147.3" x2="212.6" y2="147.3" stroke="#222" stroke-width="0.5" />
<path d="M211.0,154.9 L214.0,152.9" stroke="#222" stroke-width="0.8"/>
<path d="M211.0,156.7 L214.0,154.7" stroke="#222" stroke-width="0.8"/>
<line x1="212.6" y1="171.2" x2="325.3" y2="171.2" stroke="#222" stroke-width="1" />
<line x1="217.2" y1="171.2" x2="217.2" y2="173.0" stroke="#222" stroke-width="0.8" />
<line x1="225.97" y1="171.2" x2="225.97" y2="173.0" stroke="#222" stroke-width="0.8" />
<line x1="234.75" y1="171.2" x2="234.75" y2="173.0" stroke="#222" stroke-width="0.8" />
<line x1="243.52" y1="171.2" x2="243.52" y2="173.0" stroke="#222" stroke-width="0.8" />
<line x1="252.3" y1="171.2" x2="252.3" y2="173.0" stroke="#222" stroke-width="0.8" />
<line x1="261.07" y1="171.2" x2="261.07" y2="173.0" stroke="#222" stroke-width="0.8" />
<line x1="269.85" y1="171.2" x2="269.85" y2="173.0" stroke="#222" stroke-width="0.8" />
<line x1="278.62" y1="171.2" x2="278.62" y2="173.0" stroke="#222" stroke-width="0.8" />
<line x1="287.4" y1="171.2" x2="287.4" y2="173.0" stroke="#222" stroke-width="0.8" />
<line x1="296.18" y1="171.2" x2="296.18" y2="173.0" stroke="#222" stroke-width="0.8" />
<line x1="304.95" y1="171.2" x2="304.95" y2="173.0" stroke="#222" stroke-width="0.8" />
<line x1="313.73" y1="171.2" x2="313.73" y2="173.0" stroke="#222" stroke-width="0.8" />
<line x1="322.5" y1="171.2" x2="322.5" y2="173.0" stroke="#222" stroke-width="0.8" />
<polyline points="217.2,159.6 234.75,158.6 252.3,160.2 269.85,160.2 296.18,165 322.5,164.6" fill="none" stroke="#3c4a5c" stroke-width="1.1" stroke-linejoin="round" opacity="1"/>
<polyline points="217.2,160.4 234.75,156.2" fill="none" stroke="#4f8fc0" stroke-width="1.1" stroke-linejoin="round" opacity="1"/>
<line x1="217.2" y1="158.4" x2="217.2" y2="161.6" stroke="#3c4a5c" stroke-width="0.8" />
<line x1="216.0" y1="158.4" x2="218.39999999999998" y2="158.4" stroke="#3c4a5c" stroke-width="0.8" />
<line x1="216.0" y1="161.6" x2="218.39999999999998" y2="161.6" stroke="#3c4a5c" stroke-width="0.8" />
<line x1="252.3" y1="158.5" x2="252.3" y2="162" stroke="#3c4a5c" stroke-width="0.8" />
<line x1="251.10000000000002" y1="158.5" x2="253.5" y2="158.5" stroke="#3c4a5c" stroke-width="0.8" />
<line x1="251.10000000000002" y1="162" x2="253.5" y2="162" stroke="#3c4a5c" stroke-width="0.8" />
<line x1="269.85" y1="158.6" x2="269.85" y2="161.8" stroke="#3c4a5c" stroke-width="0.8" />
<line x1="268.65000000000003" y1="158.6" x2="271.05" y2="158.6" stroke="#3c4a5c" stroke-width="0.8" />
<line x1="268.65000000000003" y1="161.8" x2="271.05" y2="161.8" stroke="#3c4a5c" stroke-width="0.8" />
<line x1="296.18" y1="156" x2="296.18" y2="170.8" stroke="#3c4a5c" stroke-width="0.8" />
<line x1="294.98" y1="156" x2="297.38" y2="156" stroke="#3c4a5c" stroke-width="0.8" />
<line x1="294.98" y1="170.8" x2="297.38" y2="170.8" stroke="#3c4a5c" stroke-width="0.8" />
<line x1="322.5" y1="157.4" x2="322.5" y2="170.8" stroke="#3c4a5c" stroke-width="0.8" />
<line x1="321.3" y1="157.4" x2="323.7" y2="157.4" stroke="#3c4a5c" stroke-width="0.8" />
<line x1="321.3" y1="170.8" x2="323.7" y2="170.8" stroke="#3c4a5c" stroke-width="0.8" />
<circle cx="217.2" cy="160.6" r="0.8" fill="#3c4a5c"/>
<circle cx="217.2" cy="158.8" r="0.8" fill="#3c4a5c"/>
<circle cx="234.75" cy="159.1" r="0.8" fill="#3c4a5c"/>
<circle cx="252.3" cy="159.2" r="0.8" fill="#3c4a5c"/>
<circle cx="252.3" cy="161.2" r="0.8" fill="#3c4a5c"/>
<circle cx="269.85" cy="159.2" r="0.8" fill="#3c4a5c"/>
<circle cx="269.85" cy="161" r="0.8" fill="#3c4a5c"/>
<circle cx="296.18" cy="157.2" r="0.8" fill="#3c4a5c"/>
<circle cx="322.5" cy="158.6" r="0.8" fill="#3c4a5c"/>
<circle cx="322.5" cy="169.6" r="0.8" fill="#3c4a5c"/>
<polyline points="238.8,152.4 252.3,131.6 269.85,131.4 296.18,132.2 322.5,131.4" fill="none" stroke="#e2247c" stroke-width="1.4" stroke-linejoin="round" opacity="1"/>
<polyline points="252.3,133.2 269.85,133.2 296.18,140.2 322.5,134.6" fill="none" stroke="#1f5184" stroke-width="1.2" stroke-linejoin="round" opacity="1"/>
<polyline points="238.8,152.6 252.3,132.4" fill="none" stroke="#2b2f78" stroke-width="1.4" stroke-linejoin="round" opacity="1"/>
<line x1="252.3" y1="131.6" x2="252.3" y2="135.6" stroke="#1f5184" stroke-width="0.8" />
<line x1="251.10000000000002" y1="131.6" x2="253.5" y2="131.6" stroke="#1f5184" stroke-width="0.8" />
<line x1="251.10000000000002" y1="135.6" x2="253.5" y2="135.6" stroke="#1f5184" stroke-width="0.8" />
<line x1="269.85" y1="131.6" x2="269.85" y2="135.4" stroke="#1f5184" stroke-width="0.8" />
<line x1="268.65000000000003" y1="131.6" x2="271.05" y2="131.6" stroke="#1f5184" stroke-width="0.8" />
<line x1="268.65000000000003" y1="135.4" x2="271.05" y2="135.4" stroke="#1f5184" stroke-width="0.8" />
<line x1="296.18" y1="132" x2="296.18" y2="149.8" stroke="#1f5184" stroke-width="0.8" />
<line x1="294.98" y1="132" x2="297.38" y2="132" stroke="#1f5184" stroke-width="0.8" />
<line x1="294.98" y1="149.8" x2="297.38" y2="149.8" stroke="#1f5184" stroke-width="0.8" />
<line x1="322.5" y1="131.4" x2="322.5" y2="137.4" stroke="#1f5184" stroke-width="0.8" />
<line x1="321.3" y1="131.4" x2="323.7" y2="131.4" stroke="#1f5184" stroke-width="0.8" />
<line x1="321.3" y1="137.4" x2="323.7" y2="137.4" stroke="#1f5184" stroke-width="0.8" />
<circle cx="252.3" cy="135.2" r="0.8" fill="#1f5184"/>
<circle cx="269.85" cy="135.6" r="0.8" fill="#1f5184"/>
<circle cx="296.18" cy="146.4" r="0.8" fill="#1f5184"/>
<circle cx="296.18" cy="149.8" r="0.8" fill="#1f5184"/>
<circle cx="322.5" cy="137.2" r="0.8" fill="#1f5184"/>
<circle cx="322.5" cy="131.8" r="0.8" fill="#1f5184"/>
<circle cx="234.75" cy="150.6" r="0.7" fill="#2b2f78"/>
<text x="268.9" y="199.5" font-size="7.5" fill="#222" text-anchor="middle" stroke="#222" stroke-width="0.06">Impurity (CD3<tspan font-size="5.10" dy="-3">+</tspan><tspan dy="3"> Fraction)</tspan></text>
<text x="191.5" y="225.5" font-size="6.6" fill="#222" text-anchor="middle" transform="rotate(-90 191.5 225.5)" textLength="44.5" lengthAdjust="spacingAndGlyphs" stroke="#222" stroke-width="0.18">CD3<tspan font-size="3.6" dy="-2">+</tspan><tspan dy="2"> fraction (%)</tspan></text>
<line x1="212.6" y1="204.5" x2="212.6" y2="220.2" stroke="#222" stroke-width="1" />
<line x1="212.6" y1="222.2" x2="212.6" y2="246.6" stroke="#222" stroke-width="1" />
<line x1="209.6" y1="205.8" x2="212.6" y2="205.8" stroke="#222" stroke-width="0.8" />
<text x="208.0" y="207.9" font-size="6.0" fill="#333" text-anchor="end" font-weight="normal"  stroke="#333" stroke-width="0.06">60</text>
<line x1="209.6" y1="210.6" x2="212.6" y2="210.6" stroke="#222" stroke-width="0.8" />
<text x="208.0" y="212.7" font-size="6.0" fill="#333" text-anchor="end" font-weight="normal"  stroke="#333" stroke-width="0.06">40</text>
<line x1="209.6" y1="215.6" x2="212.6" y2="215.6" stroke="#222" stroke-width="0.8" />
<text x="208.0" y="217.7" font-size="6.0" fill="#333" text-anchor="end" font-weight="normal"  stroke="#333" stroke-width="0.06">20</text>
<line x1="209.6" y1="228" x2="212.6" y2="228" stroke="#222" stroke-width="0.8" />
<text x="208.0" y="230.1" font-size="6.0" fill="#333" text-anchor="end" font-weight="normal"  stroke="#333" stroke-width="0.06">1.5</text>
<line x1="209.6" y1="234.2" x2="212.6" y2="234.2" stroke="#222" stroke-width="0.8" />
<text x="208.0" y="236.29999999999998" font-size="6.0" fill="#333" text-anchor="end" font-weight="normal"  stroke="#333" stroke-width="0.06">1.0</text>
<line x1="209.6" y1="240.4" x2="212.6" y2="240.4" stroke="#222" stroke-width="0.8" />
<text x="208.0" y="242.5" font-size="6.0" fill="#333" text-anchor="end" font-weight="normal"  stroke="#333" stroke-width="0.06">0.5</text>
<line x1="209.6" y1="246.6" x2="212.6" y2="246.6" stroke="#222" stroke-width="0.8" />
<text x="208.0" y="248.7" font-size="6.0" fill="#333" text-anchor="end" font-weight="normal"  stroke="#333" stroke-width="0.06">0.0</text>
<path d="M211.0,221.4 L214.0,219.4" stroke="#222" stroke-width="0.8"/>
<path d="M211.0,223.2 L214.0,221.2" stroke="#222" stroke-width="0.8"/>
<rect x="264.4" y="204.6" width="10.6" height="45.6" rx="1.6" fill="none" stroke="#9c9c9c" stroke-width="0.75"/>
<line x1="212.6" y1="246.6" x2="325.3" y2="246.6" stroke="#222" stroke-width="1" />
<line x1="217.2" y1="246.6" x2="217.2" y2="248.4" stroke="#222" stroke-width="0.8" />
<line x1="225.97" y1="246.6" x2="225.97" y2="248.4" stroke="#222" stroke-width="0.8" />
<line x1="234.75" y1="246.6" x2="234.75" y2="248.4" stroke="#222" stroke-width="0.8" />
<line x1="243.52" y1="246.6" x2="243.52" y2="248.4" stroke="#222" stroke-width="0.8" />
<line x1="252.3" y1="246.6" x2="252.3" y2="248.4" stroke="#222" stroke-width="0.8" />
<line x1="261.07" y1="246.6" x2="261.07" y2="248.4" stroke="#222" stroke-width="0.8" />
<line x1="269.85" y1="246.6" x2="269.85" y2="248.4" stroke="#222" stroke-width="0.8" />
<line x1="278.62" y1="246.6" x2="278.62" y2="248.4" stroke="#222" stroke-width="0.8" />
<line x1="287.4" y1="246.6" x2="287.4" y2="248.4" stroke="#222" stroke-width="0.8" />
<line x1="296.18" y1="246.6" x2="296.18" y2="248.4" stroke="#222" stroke-width="0.8" />
<line x1="304.95" y1="246.6" x2="304.95" y2="248.4" stroke="#222" stroke-width="0.8" />
<line x1="313.73" y1="246.6" x2="313.73" y2="248.4" stroke="#222" stroke-width="0.8" />
<line x1="322.5" y1="246.6" x2="322.5" y2="248.4" stroke="#222" stroke-width="0.8" />
<polyline points="217.2,216.8 234.75,218.6 252.3,217.6 269.85,217.6 296.18,213.6 322.5,214" fill="none" stroke="#3c4a5c" stroke-width="1.1" stroke-linejoin="round" opacity="1"/>
<polyline points="217.2,216.4 234.75,219.2" fill="none" stroke="#1f5184" stroke-width="1.1" stroke-linejoin="round" opacity="1"/>
<line x1="217.2" y1="215.6" x2="217.2" y2="218" stroke="#3c4a5c" stroke-width="0.8" />
<line x1="216.0" y1="215.6" x2="218.39999999999998" y2="215.6" stroke="#3c4a5c" stroke-width="0.8" />
<line x1="216.0" y1="218" x2="218.39999999999998" y2="218" stroke="#3c4a5c" stroke-width="0.8" />
<line x1="252.3" y1="216.4" x2="252.3" y2="219" stroke="#3c4a5c" stroke-width="0.8" />
<line x1="251.10000000000002" y1="216.4" x2="253.5" y2="216.4" stroke="#3c4a5c" stroke-width="0.8" />
<line x1="251.10000000000002" y1="219" x2="253.5" y2="219" stroke="#3c4a5c" stroke-width="0.8" />
<line x1="269.85" y1="216.4" x2="269.85" y2="219" stroke="#3c4a5c" stroke-width="0.8" />
<line x1="268.65000000000003" y1="216.4" x2="271.05" y2="216.4" stroke="#3c4a5c" stroke-width="0.8" />
<line x1="268.65000000000003" y1="219" x2="271.05" y2="219" stroke="#3c4a5c" stroke-width="0.8" />
<line x1="296.18" y1="208" x2="296.18" y2="218.6" stroke="#3c4a5c" stroke-width="0.8" />
<line x1="294.98" y1="208" x2="297.38" y2="208" stroke="#3c4a5c" stroke-width="0.8" />
<line x1="294.98" y1="218.6" x2="297.38" y2="218.6" stroke="#3c4a5c" stroke-width="0.8" />
<line x1="322.5" y1="209" x2="322.5" y2="217" stroke="#3c4a5c" stroke-width="0.8" />
<line x1="321.3" y1="209" x2="323.7" y2="209" stroke="#3c4a5c" stroke-width="0.8" />
<line x1="321.3" y1="217" x2="323.7" y2="217" stroke="#3c4a5c" stroke-width="0.8" />
<circle cx="217.2" cy="215.8" r="0.8" fill="#3c4a5c"/>
<circle cx="234.75" cy="218.2" r="0.8" fill="#3c4a5c"/>
<circle cx="252.3" cy="218.4" r="0.8" fill="#3c4a5c"/>
<circle cx="269.85" cy="218.2" r="0.8" fill="#3c4a5c"/>
<circle cx="296.18" cy="208.4" r="0.8" fill="#3c4a5c"/>
<circle cx="296.18" cy="217.6" r="0.8" fill="#3c4a5c"/>
<circle cx="322.5" cy="209.4" r="0.8" fill="#3c4a5c"/>
<circle cx="322.5" cy="216.8" r="0.8" fill="#3c4a5c"/>
<polyline points="252.3,246.6 269.85,246.6 296.18,245.6 322.5,246.3" fill="none" stroke="#e2247c" stroke-width="1.5" stroke-linejoin="round" opacity="1"/>
<polyline points="237.4,223.6 252.3,245.2" fill="none" stroke="#2b2f78" stroke-width="1.3" stroke-linejoin="round" opacity="1"/>
<polyline points="252.3,245.2 269.85,244.8 296.18,236.2 322.5,242.4" fill="none" stroke="#1f5184" stroke-width="1.2" stroke-linejoin="round" opacity="1"/>
<line x1="252.3" y1="243" x2="252.3" y2="246.6" stroke="#1f5184" stroke-width="0.8" />
<line x1="251.10000000000002" y1="243" x2="253.5" y2="243" stroke="#1f5184" stroke-width="0.8" />
<line x1="251.10000000000002" y1="246.6" x2="253.5" y2="246.6" stroke="#1f5184" stroke-width="0.8" />
<line x1="269.85" y1="241" x2="269.85" y2="246.6" stroke="#1f5184" stroke-width="0.8" />
<line x1="268.65000000000003" y1="241" x2="271.05" y2="241" stroke="#1f5184" stroke-width="0.8" />
<line x1="268.65000000000003" y1="246.6" x2="271.05" y2="246.6" stroke="#1f5184" stroke-width="0.8" />
<line x1="296.18" y1="227" x2="296.18" y2="246.2" stroke="#1f5184" stroke-width="0.8" />
<line x1="294.98" y1="227" x2="297.38" y2="227" stroke="#1f5184" stroke-width="0.8" />
<line x1="294.98" y1="246.2" x2="297.38" y2="246.2" stroke="#1f5184" stroke-width="0.8" />
<line x1="322.5" y1="238" x2="322.5" y2="246.2" stroke="#1f5184" stroke-width="0.8" />
<line x1="321.3" y1="238" x2="323.7" y2="238" stroke="#1f5184" stroke-width="0.8" />
<line x1="321.3" y1="246.2" x2="323.7" y2="246.2" stroke="#1f5184" stroke-width="0.8" />
<circle cx="252.3" cy="243.2" r="0.8" fill="#1f5184"/>
<circle cx="269.85" cy="241.4" r="0.8" fill="#1f5184"/>
<circle cx="296.18" cy="227.6" r="0.8" fill="#1f5184"/>
<circle cx="322.5" cy="238.4" r="0.8" fill="#1f5184"/>
<text x="269.2" y="272.5" font-size="7.6" fill="#222" text-anchor="middle" stroke="#222" stroke-width="0.06">Cleaning Efficiency</text>
<text x="191.5" y="299.2" font-size="6.6" fill="#222" text-anchor="middle" transform="rotate(-90 191.5 299.2)" textLength="69.5" lengthAdjust="spacingAndGlyphs" stroke="#222" stroke-width="0.18">Reduction CD3<tspan font-size="3.6" dy="-2">−</tspan><tspan dy="2"> fraction (%)</tspan></text>
<line x1="212.6" y1="276.5" x2="212.6" y2="319.6" stroke="#222" stroke-width="1" />
<line x1="209.6" y1="279.6" x2="212.6" y2="279.6" stroke="#222" stroke-width="0.8" />
<text x="208.0" y="281.70000000000005" font-size="6.0" fill="#333" text-anchor="end" font-weight="normal"  stroke="#333" stroke-width="0.06">100</text>
<line x1="209.6" y1="291" x2="212.6" y2="291" stroke="#222" stroke-width="0.8" />
<text x="208.0" y="293.1" font-size="6.0" fill="#333" text-anchor="end" font-weight="normal"  stroke="#333" stroke-width="0.06">90</text>
<line x1="209.6" y1="302.4" x2="212.6" y2="302.4" stroke="#222" stroke-width="0.8" />
<text x="208.0" y="304.5" font-size="6.0" fill="#333" text-anchor="end" font-weight="normal"  stroke="#333" stroke-width="0.06">80</text>
<line x1="209.6" y1="313.8" x2="212.6" y2="313.8" stroke="#222" stroke-width="0.8" />
<text x="208.0" y="315.90000000000003" font-size="6.0" fill="#333" text-anchor="end" font-weight="normal"  stroke="#333" stroke-width="0.06">70</text>
<rect x="264.4" y="278.2" width="10.6" height="54.4" rx="1.6" fill="none" stroke="#9c9c9c" stroke-width="0.75"/>
<line x1="212.6" y1="319.6" x2="325.3" y2="319.6" stroke="#222" stroke-width="1" />
<line x1="217.2" y1="319.6" x2="217.2" y2="321.40000000000003" stroke="#222" stroke-width="0.8" />
<line x1="225.97" y1="319.6" x2="225.97" y2="321.40000000000003" stroke="#222" stroke-width="0.8" />
<line x1="234.75" y1="319.6" x2="234.75" y2="321.40000000000003" stroke="#222" stroke-width="0.8" />
<line x1="243.52" y1="319.6" x2="243.52" y2="321.40000000000003" stroke="#222" stroke-width="0.8" />
<line x1="252.3" y1="319.6" x2="252.3" y2="321.40000000000003" stroke="#222" stroke-width="0.8" />
<line x1="261.07" y1="319.6" x2="261.07" y2="321.40000000000003" stroke="#222" stroke-width="0.8" />
<line x1="269.85" y1="319.6" x2="269.85" y2="321.40000000000003" stroke="#222" stroke-width="0.8" />
<line x1="278.62" y1="319.6" x2="278.62" y2="321.40000000000003" stroke="#222" stroke-width="0.8" />
<line x1="287.4" y1="319.6" x2="287.4" y2="321.40000000000003" stroke="#222" stroke-width="0.8" />
<line x1="296.18" y1="319.6" x2="296.18" y2="321.40000000000003" stroke="#222" stroke-width="0.8" />
<line x1="304.95" y1="319.6" x2="304.95" y2="321.40000000000003" stroke="#222" stroke-width="0.8" />
<line x1="313.73" y1="319.6" x2="313.73" y2="321.40000000000003" stroke="#222" stroke-width="0.8" />
<line x1="322.5" y1="319.6" x2="322.5" y2="321.40000000000003" stroke="#222" stroke-width="0.8" />
<text x="217.2" y="329.8" font-size="6.1" fill="#333" text-anchor="middle" font-weight="normal"  stroke="#333" stroke-width="0.06">7</text>
<text x="225.97" y="329.8" font-size="6.1" fill="#333" text-anchor="middle" font-weight="normal"  stroke="#333" stroke-width="0.06">8</text>
<text x="234.75" y="329.8" font-size="6.1" fill="#333" text-anchor="middle" font-weight="normal"  stroke="#333" stroke-width="0.06">9</text>
<text x="243.52" y="329.8" font-size="6.1" fill="#333" text-anchor="middle" font-weight="normal"  stroke="#333" stroke-width="0.06">10</text>
<text x="252.3" y="329.8" font-size="6.1" fill="#333" text-anchor="middle" font-weight="normal"  stroke="#333" stroke-width="0.06">11</text>
<text x="261.07" y="329.8" font-size="6.1" fill="#333" text-anchor="middle" font-weight="normal"  stroke="#333" stroke-width="0.06">12</text>
<text x="269.85" y="329.8" font-size="6.1" fill="#333" text-anchor="middle" font-weight="normal"  stroke="#333" stroke-width="0.06">13</text>
<text x="278.62" y="329.8" font-size="6.1" fill="#333" text-anchor="middle" font-weight="normal"  stroke="#333" stroke-width="0.06">14</text>
<text x="287.4" y="329.8" font-size="6.1" fill="#333" text-anchor="middle" font-weight="normal"  stroke="#333" stroke-width="0.06">15</text>
<text x="296.18" y="329.8" font-size="6.1" fill="#333" text-anchor="middle" font-weight="normal"  stroke="#333" stroke-width="0.06">16</text>
<text x="304.95" y="329.8" font-size="6.1" fill="#333" text-anchor="middle" font-weight="normal"  stroke="#333" stroke-width="0.06">17</text>
<text x="313.73" y="329.8" font-size="6.1" fill="#333" text-anchor="middle" font-weight="normal"  stroke="#333" stroke-width="0.06">18</text>
<text x="322.5" y="329.8" font-size="6.1" fill="#333" text-anchor="middle" font-weight="normal"  stroke="#333" stroke-width="0.06">19</text>
<polyline points="252.3,279.71 269.85,279.71 296.18,279.94 322.5,279.83" fill="none" stroke="#e2247c" stroke-width="1.5" stroke-linejoin="round" opacity="1"/>
<polyline points="234.75,307.53 252.3,280.97 269.85,281.2 296.18,286.44 322.5,281.2" fill="none" stroke="#1f5184" stroke-width="1.2" stroke-linejoin="round" opacity="1"/>
<polyline points="234.75,307.53 252.3,280.4" fill="none" stroke="#2b2f78" stroke-width="1.3" stroke-linejoin="round" opacity="1"/>
<line x1="234.75" y1="302.4" x2="234.75" y2="313.12" stroke="#1f5184" stroke-width="0.8" />
<line x1="233.55" y1="302.4" x2="235.95" y2="302.4" stroke="#1f5184" stroke-width="0.8" />
<line x1="233.55" y1="313.12" x2="235.95" y2="313.12" stroke="#1f5184" stroke-width="0.8" />
<line x1="252.3" y1="279.6" x2="252.3" y2="282.45" stroke="#1f5184" stroke-width="0.8" />
<line x1="251.10000000000002" y1="279.6" x2="253.5" y2="279.6" stroke="#1f5184" stroke-width="0.8" />
<line x1="251.10000000000002" y1="282.45" x2="253.5" y2="282.45" stroke="#1f5184" stroke-width="0.8" />
<line x1="296.18" y1="279.6" x2="296.18" y2="296.13" stroke="#1f5184" stroke-width="0.8" />
<line x1="294.98" y1="279.6" x2="297.38" y2="279.6" stroke="#1f5184" stroke-width="0.8" />
<line x1="294.98" y1="296.13" x2="297.38" y2="296.13" stroke="#1f5184" stroke-width="0.8" />
<line x1="322.5" y1="279.6" x2="322.5" y2="282.79" stroke="#1f5184" stroke-width="0.8" />
<line x1="321.3" y1="279.6" x2="323.7" y2="279.6" stroke="#1f5184" stroke-width="0.8" />
<line x1="321.3" y1="282.79" x2="323.7" y2="282.79" stroke="#1f5184" stroke-width="0.8" />
<circle cx="234.75" cy="302.97" r="0.8" fill="#1f5184"/>
<circle cx="234.75" cy="312.66" r="0.8" fill="#1f5184"/>
<circle cx="252.3" cy="282.34" r="0.8" fill="#1f5184"/>
<circle cx="269.85" cy="281.65" r="0.8" fill="#1f5184"/>
<circle cx="296.18" cy="300.69" r="0.8" fill="#1f5184"/>
<circle cx="322.5" cy="282.56" r="0.8" fill="#1f5184"/>
<text x="269.4" y="340.3" font-size="8.2" fill="#222" text-anchor="middle" font-weight="bold" textLength="59.8" lengthAdjust="spacingAndGlyphs" stroke="#222" stroke-width="0.06">Days post T cell isolation</text>
<line x1="211" y1="350.4" x2="215.2" y2="350.4" stroke="#3c4a5c" stroke-width="1.2" />
<text x="217.4" y="352.4" font-size="5.6" fill="#333" text-anchor="start" font-weight="normal"  stroke="#333" stroke-width="0.06">T cells only</text>
<line x1="249.5" y1="350.4" x2="253.7" y2="350.4" stroke="#1f5184" stroke-width="1.2" />
<text x="255.9" y="352.4" font-size="5.6" fill="#333" text-anchor="start" font-weight="normal"  stroke="#333" stroke-width="0.06">1x co-culture</text>
<line x1="291" y1="350.4" x2="295.2" y2="350.4" stroke="#e2247c" stroke-width="1.2" />
<text x="297.4" y="352.4" font-size="5.6" fill="#333" text-anchor="start" font-weight="normal"  stroke="#333" stroke-width="0.06">2x co-culture</text>
<line x1="368.1" y1="134.6" x2="368.1" y2="153.8" stroke="#222" stroke-width="1" />
<line x1="368.1" y1="155.4" x2="368.1" y2="174.4" stroke="#222" stroke-width="1" />
<line x1="368.1" y1="176" x2="368.1" y2="193.4" stroke="#222" stroke-width="1" />
<line x1="368.1" y1="193.4" x2="414.6" y2="193.4" stroke="#222" stroke-width="1" />
<line x1="366.3" y1="136.1" x2="368.1" y2="136.1" stroke="#222" stroke-width="0.8" />
<text x="365.70000000000005" y="138.2" font-size="6" fill="#333" text-anchor="end" stroke="#333" stroke-width="0.06">100</text>
<line x1="366.3" y1="140.1" x2="368.1" y2="140.1" stroke="#222" stroke-width="0.8" />
<text x="365.70000000000005" y="142.2" font-size="6" fill="#333" text-anchor="end" stroke="#333" stroke-width="0.06">75</text>
<line x1="366.3" y1="144.9" x2="368.1" y2="144.9" stroke="#222" stroke-width="0.8" />
<text x="365.70000000000005" y="147.0" font-size="6" fill="#333" text-anchor="end" stroke="#333" stroke-width="0.06">50</text>
<line x1="366.3" y1="149.4" x2="368.1" y2="149.4" stroke="#222" stroke-width="0.8" />
<text x="365.70000000000005" y="151.5" font-size="6" fill="#333" text-anchor="end" stroke="#333" stroke-width="0.06">25</text>
<line x1="366.3" y1="157.9" x2="368.1" y2="157.9" stroke="#222" stroke-width="0.8" />
<text x="365.70000000000005" y="160.0" font-size="6" fill="#333" text-anchor="end" stroke="#333" stroke-width="0.06">1.00</text>
<line x1="366.3" y1="162.1" x2="368.1" y2="162.1" stroke="#222" stroke-width="0.8" />
<text x="365.70000000000005" y="164.2" font-size="6" fill="#333" text-anchor="end" stroke="#333" stroke-width="0.06">0.75</text>
<line x1="366.3" y1="166.3" x2="368.1" y2="166.3" stroke="#222" stroke-width="0.8" />
<text x="365.70000000000005" y="168.4" font-size="6" fill="#333" text-anchor="end" stroke="#333" stroke-width="0.06">0.50</text>
<line x1="366.3" y1="170.5" x2="368.1" y2="170.5" stroke="#222" stroke-width="0.8" />
<text x="365.70000000000005" y="172.6" font-size="6" fill="#333" text-anchor="end" stroke="#333" stroke-width="0.06">0.25</text>
<line x1="366.3" y1="177" x2="368.1" y2="177" stroke="#222" stroke-width="0.8" />
<text x="365.70000000000005" y="179.1" font-size="6" fill="#333" text-anchor="end" stroke="#333" stroke-width="0.06">0.100</text>
<line x1="366.3" y1="181.1" x2="368.1" y2="181.1" stroke="#222" stroke-width="0.8" />
<text x="365.70000000000005" y="183.2" font-size="6" fill="#333" text-anchor="end" stroke="#333" stroke-width="0.06">0.075</text>
<line x1="366.3" y1="185.2" x2="368.1" y2="185.2" stroke="#222" stroke-width="0.8" />
<text x="365.70000000000005" y="187.29999999999998" font-size="6" fill="#333" text-anchor="end" stroke="#333" stroke-width="0.06">0.050</text>
<line x1="366.3" y1="189.3" x2="368.1" y2="189.3" stroke="#222" stroke-width="0.8" />
<text x="365.70000000000005" y="191.4" font-size="6" fill="#333" text-anchor="end" stroke="#333" stroke-width="0.06">0.025</text>
<line x1="366.3" y1="193.4" x2="368.1" y2="193.4" stroke="#222" stroke-width="0.8" />
<text x="365.70000000000005" y="195.5" font-size="6" fill="#333" text-anchor="end" stroke="#333" stroke-width="0.06">0.000</text>
<path d="M366.6,155.9 L369.6,153.29999999999998" stroke="#222" stroke-width="0.8"/>
<path d="M366.6,157.1 L369.6,154.5" stroke="#222" stroke-width="0.5"/>
<path d="M366.6,176.5 L369.6,173.89999999999998" stroke="#222" stroke-width="0.8"/>
<path d="M366.6,177.7 L369.6,175.1" stroke="#222" stroke-width="0.5"/>
<line x1="441.4" y1="134.6" x2="441.4" y2="153.8" stroke="#222" stroke-width="1" />
<line x1="441.4" y1="155.4" x2="441.4" y2="174.4" stroke="#222" stroke-width="1" />
<line x1="441.4" y1="176" x2="441.4" y2="193.4" stroke="#222" stroke-width="1" />
<line x1="441.4" y1="193.4" x2="509.5" y2="193.4" stroke="#222" stroke-width="1" />
<line x1="439.59999999999997" y1="136.1" x2="441.4" y2="136.1" stroke="#222" stroke-width="0.8" />
<text x="439.0" y="138.2" font-size="6" fill="#333" text-anchor="end" stroke="#333" stroke-width="0.06">100</text>
<line x1="439.59999999999997" y1="140.1" x2="441.4" y2="140.1" stroke="#222" stroke-width="0.8" />
<text x="439.0" y="142.2" font-size="6" fill="#333" text-anchor="end" stroke="#333" stroke-width="0.06">75</text>
<line x1="439.59999999999997" y1="144.9" x2="441.4" y2="144.9" stroke="#222" stroke-width="0.8" />
<text x="439.0" y="147.0" font-size="6" fill="#333" text-anchor="end" stroke="#333" stroke-width="0.06">50</text>
<line x1="439.59999999999997" y1="149.4" x2="441.4" y2="149.4" stroke="#222" stroke-width="0.8" />
<text x="439.0" y="151.5" font-size="6" fill="#333" text-anchor="end" stroke="#333" stroke-width="0.06">25</text>
<line x1="439.59999999999997" y1="157.9" x2="441.4" y2="157.9" stroke="#222" stroke-width="0.8" />
<text x="439.0" y="160.0" font-size="6" fill="#333" text-anchor="end" stroke="#333" stroke-width="0.06">1.00</text>
<line x1="439.59999999999997" y1="162.1" x2="441.4" y2="162.1" stroke="#222" stroke-width="0.8" />
<text x="439.0" y="164.2" font-size="6" fill="#333" text-anchor="end" stroke="#333" stroke-width="0.06">0.75</text>
<line x1="439.59999999999997" y1="166.3" x2="441.4" y2="166.3" stroke="#222" stroke-width="0.8" />
<text x="439.0" y="168.4" font-size="6" fill="#333" text-anchor="end" stroke="#333" stroke-width="0.06">0.50</text>
<line x1="439.59999999999997" y1="170.5" x2="441.4" y2="170.5" stroke="#222" stroke-width="0.8" />
<text x="439.0" y="172.6" font-size="6" fill="#333" text-anchor="end" stroke="#333" stroke-width="0.06">0.25</text>
<line x1="439.59999999999997" y1="177" x2="441.4" y2="177" stroke="#222" stroke-width="0.8" />
<text x="439.0" y="179.1" font-size="6" fill="#333" text-anchor="end" stroke="#333" stroke-width="0.06">0.100</text>
<line x1="439.59999999999997" y1="181.1" x2="441.4" y2="181.1" stroke="#222" stroke-width="0.8" />
<text x="439.0" y="183.2" font-size="6" fill="#333" text-anchor="end" stroke="#333" stroke-width="0.06">0.075</text>
<line x1="439.59999999999997" y1="185.2" x2="441.4" y2="185.2" stroke="#222" stroke-width="0.8" />
<text x="439.0" y="187.29999999999998" font-size="6" fill="#333" text-anchor="end" stroke="#333" stroke-width="0.06">0.050</text>
<line x1="439.59999999999997" y1="189.3" x2="441.4" y2="189.3" stroke="#222" stroke-width="0.8" />
<text x="439.0" y="191.4" font-size="6" fill="#333" text-anchor="end" stroke="#333" stroke-width="0.06">0.025</text>
<line x1="439.59999999999997" y1="193.4" x2="441.4" y2="193.4" stroke="#222" stroke-width="0.8" />
<text x="439.0" y="195.5" font-size="6" fill="#333" text-anchor="end" stroke="#333" stroke-width="0.06">0.000</text>
<path d="M439.9,155.9 L442.9,153.29999999999998" stroke="#222" stroke-width="0.8"/>
<path d="M439.9,157.1 L442.9,154.5" stroke="#222" stroke-width="0.5"/>
<path d="M439.9,176.5 L442.9,173.89999999999998" stroke="#222" stroke-width="0.8"/>
<path d="M439.9,177.7 L442.9,175.1" stroke="#222" stroke-width="0.5"/>
<text x="389.9" y="129.6" font-size="7.3" fill="#222" text-anchor="middle" stroke="#222" stroke-width="0.06">Impurity (MACS)</text>
<text x="475.4" y="129.6" font-size="7.5" fill="#222" text-anchor="middle" stroke="#222" stroke-width="0.06">Impurity (co-culture)</text>
<text x="346.2" y="166" font-size="6.3" fill="#222" text-anchor="middle" transform="rotate(-90 346.2 166)" textLength="43" lengthAdjust="spacingAndGlyphs" stroke="#222" stroke-width="0.18">CD3<tspan font-size="3.8" dy="-2">+</tspan><tspan dy="2"> Fraction (%)</tspan></text>
<line x1="373.8" y1="151.8" x2="388.2" y2="151.8" stroke="#2c3e66" stroke-width="1.1" />
<circle cx="375" cy="151.2" r="0.95" fill="#2c3e66"/>
<circle cx="377" cy="152.2" r="0.95" fill="#2c3e66"/>
<circle cx="379" cy="151.6" r="0.95" fill="#2c3e66"/>
<circle cx="381" cy="150" r="0.95" fill="#2c3e66"/>
<circle cx="381" cy="152.6" r="0.95" fill="#2c3e66"/>
<circle cx="383" cy="151.4" r="0.95" fill="#2c3e66"/>
<circle cx="385" cy="152.4" r="0.95" fill="#2c3e66"/>
<circle cx="381.2" cy="144.3" r="0.95" fill="#2c3e66"/>
<text x="380.4" y="141.4" font-size="5.6" fill="#858a94" text-anchor="middle" font-weight="normal"  stroke="#858a94" stroke-width="0.06">11.9%</text>
<line x1="394.4" y1="172.9" x2="407.2" y2="172.9" stroke="#2c2c44" stroke-width="1" />
<circle cx="400.6" cy="152.9" r="0.95" fill="#4a2a5a"/>
<circle cx="400.6" cy="164" r="0.95" fill="#4a2a5a"/>
<circle cx="397.2" cy="167.4" r="0.95" fill="#4a2a5a"/>
<circle cx="400.6" cy="166.8" r="0.95" fill="#4a2a5a"/>
<circle cx="404" cy="167.4" r="0.95" fill="#4a2a5a"/>
<circle cx="396.4" cy="172.6" r="0.95" fill="#4a2a5a"/>
<circle cx="400.6" cy="173.4" r="0.95" fill="#4a2a5a"/>
<circle cx="405" cy="172.6" r="0.95" fill="#4a2a5a"/>
<circle cx="400.6" cy="182.4" r="0.95" fill="#4a2a5a"/>
<circle cx="400.6" cy="185.9" r="0.95" fill="#4a2a5a"/>
<circle cx="400.6" cy="189.5" r="0.95" fill="#4a2a5a"/>
<text x="400.8" y="144.8" font-size="5.6" fill="#8e4f96" text-anchor="middle" font-weight="normal"  stroke="#8e4f96" stroke-width="0.06">0.32%</text>
<line x1="381.5" y1="193.4" x2="381.5" y2="195" stroke="#222" stroke-width="0.8" />
<text x="381.5" y="203.5" font-size="6" fill="#333" text-anchor="middle" font-weight="normal"  stroke="#333" stroke-width="0.06">before</text>
<text x="381.5" y="210.7" font-size="6" fill="#333" text-anchor="middle" font-weight="normal"  stroke="#333" stroke-width="0.06">MACS</text>
<line x1="400.8" y1="193.4" x2="400.8" y2="195" stroke="#222" stroke-width="0.8" />
<text x="400.8" y="203.5" font-size="6" fill="#333" text-anchor="middle" font-weight="normal"  stroke="#333" stroke-width="0.06">after</text>
<text x="400.8" y="210.7" font-size="6" fill="#333" text-anchor="middle" font-weight="normal"  stroke="#333" stroke-width="0.06">MACS</text>
<line x1="448" y1="150.7" x2="461.6" y2="150.7" stroke="#333" stroke-width="1" />
<circle cx="451" cy="150.4" r="0.95" fill="#333"/>
<circle cx="455" cy="150.4" r="0.95" fill="#333"/>
<circle cx="458" cy="150.4" r="0.95" fill="#333"/>
<circle cx="455" cy="153.4" r="0.95" fill="#333"/>
<text x="454.8" y="141.4" font-size="5.6" fill="#858a94" text-anchor="middle" font-weight="normal"  stroke="#858a94" stroke-width="0.06">15.1%</text>
<line x1="469" y1="172.9" x2="483" y2="172.9" stroke="#2c4a72" stroke-width="1" />
<circle cx="475.7" cy="165.4" r="0.95" fill="#1e2e4a"/>
<circle cx="475.7" cy="172.4" r="0.95" fill="#1e2e4a"/>
<circle cx="475.7" cy="186.8" r="0.95" fill="#1e2e4a"/>
<circle cx="475.7" cy="189.7" r="0.95" fill="#1e2e4a"/>
<text x="474.8" y="157.6" font-size="5.6" fill="#3d6b98" text-anchor="middle" font-weight="normal"  stroke="#3d6b98" stroke-width="0.06">0.21%</text>
<rect x="489" y="191" width="14.4" height="2.2" fill="#e9a2c4"/>
<line x1="489" y1="192.2" x2="503.4" y2="192.2" stroke="#d83a86" stroke-width="0.8" />
<circle cx="496" cy="188.7" r="0.95" fill="#a01c5c"/>
<circle cx="496" cy="191.4" r="0.95" fill="#a01c5c"/>
<circle cx="496" cy="195" r="0.95" fill="#a01c5c"/>
<text x="495.8" y="180" font-size="5.6" fill="#e0287e" text-anchor="middle" font-weight="normal"  stroke="#e0287e" stroke-width="0.06">0.017%</text>
<line x1="455.5" y1="193.4" x2="455.5" y2="195" stroke="#222" stroke-width="0.8" />
<text x="455.5" y="203.5" font-size="6" fill="#333" text-anchor="middle" font-weight="normal"  stroke="#333" stroke-width="0.06">T cells</text>
<text x="455.5" y="210.7" font-size="6" fill="#333" text-anchor="middle" font-weight="normal"  stroke="#333" stroke-width="0.06">only</text>
<line x1="476" y1="193.4" x2="476" y2="195" stroke="#222" stroke-width="0.8" />
<text x="476" y="203.5" font-size="6" fill="#333" text-anchor="middle" font-weight="normal"  stroke="#333" stroke-width="0.06">1x co-</text>
<text x="476" y="210.7" font-size="6" fill="#333" text-anchor="middle" font-weight="normal"  stroke="#333" stroke-width="0.06">culture</text>
<line x1="495.8" y1="193.4" x2="495.8" y2="195" stroke="#222" stroke-width="0.8" />
<text x="495.8" y="203.5" font-size="6" fill="#333" text-anchor="middle" font-weight="normal"  stroke="#333" stroke-width="0.06">2x co-</text>
<text x="495.8" y="210.7" font-size="6" fill="#333" text-anchor="middle" font-weight="normal"  stroke="#333" stroke-width="0.06">culture</text>
<text x="389" y="230.4" font-size="7.6" fill="#222" text-anchor="middle" stroke="#222" stroke-width="0.06">Cleaning Efficiency</text>
<text x="389" y="238.8" font-size="7.6" fill="#222" text-anchor="middle" stroke="#222" stroke-width="0.06">(MACS)</text>
<text x="475.2" y="230.4" font-size="7.6" fill="#222" text-anchor="middle" stroke="#222" stroke-width="0.06">Cleaning Efficiency</text>
<text x="475.2" y="238.8" font-size="7.6" fill="#222" text-anchor="middle" stroke="#222" stroke-width="0.06">(co-culture)</text>
<line x1="365.6" y1="244.3" x2="365.6" y2="302.5" stroke="#222" stroke-width="1.1" />
<line x1="365.1" y1="302.5" x2="411" y2="302.5" stroke="#222" stroke-width="1.1" />
<line x1="363.20000000000005" y1="245.8" x2="365.6" y2="245.8" stroke="#222" stroke-width="0.8" />
<text x="361.6" y="247.9" font-size="5.9" fill="#333" text-anchor="end" font-weight="normal"  stroke="#333" stroke-width="0.06">100</text>
<line x1="363.20000000000005" y1="264.7" x2="365.6" y2="264.7" stroke="#222" stroke-width="0.8" />
<text x="361.6" y="266.8" font-size="5.9" fill="#333" text-anchor="end" font-weight="normal"  stroke="#333" stroke-width="0.06">95</text>
<line x1="363.20000000000005" y1="283.6" x2="365.6" y2="283.6" stroke="#222" stroke-width="0.8" />
<text x="361.6" y="285.70000000000005" font-size="5.9" fill="#333" text-anchor="end" font-weight="normal"  stroke="#333" stroke-width="0.06">90</text>
<line x1="363.20000000000005" y1="302.5" x2="365.6" y2="302.5" stroke="#222" stroke-width="0.8" />
<text x="361.6" y="304.6" font-size="5.9" fill="#333" text-anchor="end" font-weight="normal"  stroke="#333" stroke-width="0.06">85</text>
<line x1="440.6" y1="245.2" x2="440.6" y2="303.49" stroke="#222" stroke-width="1.1" />
<line x1="440.1" y1="303.49" x2="508.8" y2="303.49" stroke="#222" stroke-width="1.1" />
<line x1="438.20000000000005" y1="246.7" x2="440.6" y2="246.7" stroke="#222" stroke-width="0.8" />
<text x="436.6" y="248.79999999999998" font-size="5.9" fill="#333" text-anchor="end" font-weight="normal"  stroke="#333" stroke-width="0.06">100</text>
<line x1="438.20000000000005" y1="265.63" x2="440.6" y2="265.63" stroke="#222" stroke-width="0.8" />
<text x="436.6" y="267.73" font-size="5.9" fill="#333" text-anchor="end" font-weight="normal"  stroke="#333" stroke-width="0.06">95</text>
<line x1="438.20000000000005" y1="284.56" x2="440.6" y2="284.56" stroke="#222" stroke-width="0.8" />
<text x="436.6" y="286.66" font-size="5.9" fill="#333" text-anchor="end" font-weight="normal"  stroke="#333" stroke-width="0.06">90</text>
<line x1="438.20000000000005" y1="303.49" x2="440.6" y2="303.49" stroke="#222" stroke-width="0.8" />
<text x="436.6" y="305.59000000000003" font-size="5.9" fill="#333" text-anchor="end" font-weight="normal"  stroke="#333" stroke-width="0.06">85</text>
<text x="345.8" y="274" font-size="6.3" fill="#222" text-anchor="middle" transform="rotate(-90 345.8 274)" textLength="64.5" lengthAdjust="spacingAndGlyphs" stroke="#222" stroke-width="0.18">Reduction CD3<tspan font-size="3.8" dy="-2">−</tspan><tspan dy="2"> Fract. (%)</tspan></text>
<line x1="377.6" y1="254.7" x2="399.8" y2="254.7" stroke="#555" stroke-width="1" />
<circle cx="383.5" cy="250.4" r="0.95" fill="#2c2144"/>
<circle cx="386.7" cy="249.1" r="0.95" fill="#2c2144"/>
<circle cx="390.6" cy="249.1" r="0.95" fill="#2c2144"/>
<circle cx="394.2" cy="250" r="0.95" fill="#2c2144"/>
<circle cx="390.6" cy="252.1" r="0.95" fill="#2c2144"/>
<circle cx="387.4" cy="253.9" r="0.95" fill="#2c2144"/>
<circle cx="388.9" cy="256.3" r="0.95" fill="#2c2144"/>
<circle cx="388.9" cy="259.1" r="0.95" fill="#2c2144"/>
<circle cx="386.7" cy="273.9" r="0.95" fill="#2c2144"/>
<circle cx="390.6" cy="272.9" r="0.95" fill="#2c2144"/>
<circle cx="388.4" cy="275.8" r="0.95" fill="#2c2144"/>
<circle cx="388.7" cy="283.6" r="0.95" fill="#2c2144"/>
<text x="388.9" y="299.4" font-size="5.8" fill="#8e4f96" text-anchor="middle" font-weight="normal"  stroke="#8e4f96" stroke-width="0.06">96.2%</text>
<line x1="388.4" y1="302.5" x2="388.4" y2="304.5" stroke="#222" stroke-width="0.8" />
<text x="388.6" y="313" font-size="6" fill="#333" text-anchor="middle" font-weight="normal"  stroke="#333" stroke-width="0.06">MACS</text>
<line x1="450.5" y1="250.4" x2="470.3" y2="250.4" stroke="#2c4a72" stroke-width="1" />
<circle cx="459.9" cy="247.4" r="0.95" fill="#1e2e4a"/>
<circle cx="457.9" cy="250.4" r="0.95" fill="#1e2e4a"/>
<circle cx="462.6" cy="251" r="0.95" fill="#1e2e4a"/>
<circle cx="459.9" cy="259.8" r="0.95" fill="#1e2e4a"/>
<text x="457.2" y="276" font-size="5.8" fill="#3d6b98" text-anchor="middle" font-weight="normal"  stroke="#3d6b98" stroke-width="0.06">98.7%</text>
<line x1="480.1" y1="247.4" x2="499.3" y2="247.4" stroke="#e2247c" stroke-width="1" />
<circle cx="482.6" cy="247.4" r="0.95" fill="#c0186a"/>
<circle cx="487" cy="247.4" r="0.95" fill="#c0186a"/>
<circle cx="491.6" cy="247.4" r="0.95" fill="#c0186a"/>
<circle cx="496" cy="247.4" r="0.95" fill="#c0186a"/>
<text x="488.2" y="268.7" font-size="5.8" fill="#e0287e" text-anchor="middle" font-weight="normal"  stroke="#e0287e" stroke-width="0.06">99.9%</text>
<line x1="460.2" y1="303" x2="460.2" y2="304.8" stroke="#222" stroke-width="0.8" />
<text x="460.2" y="314.5" font-size="6" fill="#333" text-anchor="middle" font-weight="normal"  stroke="#333" stroke-width="0.06">1x co-</text>
<text x="460.2" y="321.4" font-size="6" fill="#333" text-anchor="middle" font-weight="normal"  stroke="#333" stroke-width="0.06">culture</text>
<line x1="489.1" y1="303" x2="489.1" y2="304.8" stroke="#222" stroke-width="0.8" />
<text x="489.1" y="314.5" font-size="6" fill="#333" text-anchor="middle" font-weight="normal"  stroke="#333" stroke-width="0.06">2x co-</text>
<text x="489.1" y="321.4" font-size="6" fill="#333" text-anchor="middle" font-weight="normal"  stroke="#333" stroke-width="0.06">culture</text>
<text x="72.6" y="343" font-size="7.8" fill="#222" text-anchor="middle" stroke="#222" stroke-width="0.06">Ratio CD3<tspan font-size="5" dy="-3.2">−</tspan><tspan dy="3.2"> : CD3</tspan><tspan font-size="5" dy="-3.2">+</tspan></text>
<text x="72.6" y="352.5" font-size="7.75" fill="#222" text-anchor="middle" stroke="#222" stroke-width="0.06">(Edited : wt) T Cells</text>
<text x="71.4" y="362" font-size="7.75" fill="#222" text-anchor="middle" stroke="#222" stroke-width="0.06">(day 13)</text>
<line x1="38.8" y1="364.3" x2="38.8" y2="474.4" stroke="#333" stroke-width="1.1" />
<line x1="38.3" y1="474.4" x2="105.8" y2="474.4" stroke="#222" stroke-width="1.1" />
<line x1="36.599999999999994" y1="366.8" x2="38.8" y2="366.8" stroke="#333" stroke-width="0.9" />
<text x="33.8" y="368.7" font-size="5.4" fill="#333" text-anchor="end" textLength="13.9" lengthAdjust="spacingAndGlyphs" stroke="#333" stroke-width="0.06">8000</text>
<line x1="36.599999999999994" y1="393.6" x2="38.8" y2="393.6" stroke="#333" stroke-width="0.9" />
<text x="33.8" y="395.5" font-size="5.4" fill="#333" text-anchor="end" textLength="13.9" lengthAdjust="spacingAndGlyphs" stroke="#333" stroke-width="0.06">6000</text>
<line x1="36.599999999999994" y1="420.4" x2="38.8" y2="420.4" stroke="#333" stroke-width="0.9" />
<text x="33.8" y="422.29999999999995" font-size="5.4" fill="#333" text-anchor="end" textLength="13.9" lengthAdjust="spacingAndGlyphs" stroke="#333" stroke-width="0.06">4000</text>
<line x1="36.599999999999994" y1="447.2" x2="38.8" y2="447.2" stroke="#333" stroke-width="0.9" />
<text x="33.8" y="449.09999999999997" font-size="5.4" fill="#333" text-anchor="end" textLength="13.9" lengthAdjust="spacingAndGlyphs" stroke="#333" stroke-width="0.06">2000</text>
<line x1="36.599999999999994" y1="474" x2="38.8" y2="474" stroke="#333" stroke-width="0.9" />
<text x="33.8" y="475.9" font-size="5.4" fill="#333" text-anchor="end" textLength="3.5" lengthAdjust="spacingAndGlyphs" stroke="#333" stroke-width="0.06">0</text>
<text x="15.0" y="419.6" font-size="7.4" fill="#222" text-anchor="middle" transform="rotate(-90 15.0 419.6)" textLength="59.5" lengthAdjust="spacingAndGlyphs" stroke="#222" stroke-width="0.18">CD3<tspan font-size="3.6" dy="-2">−</tspan><tspan dy="2"> cells per CD3</tspan><tspan font-size="3.6" dy="-2">+</tspan><tspan dy="2"> cell</tspan></text>
<rect x="45" y="470.2" width="14.8" height="4.2" fill="#4b1f57"/>
<rect x="65.2" y="467.5" width="14.8" height="6.9" fill="#1b426f"/>
<rect x="85.4" y="395.2" width="14.4" height="79.2" fill="#e8177c"/>
<text x="52.4" y="466.2" font-size="5.6" fill="#7a4a8a" text-anchor="middle" font-weight="normal"  stroke="#7a4a8a" stroke-width="0.06">308</text>
<text x="72.6" y="463.5" font-size="5.6" fill="#3a6a98" text-anchor="middle" font-weight="normal"  stroke="#3a6a98" stroke-width="0.06">485</text>
<text x="92.6" y="392.8" font-size="5.6" fill="#e0287e" text-anchor="middle" font-weight="normal"  stroke="#e0287e" stroke-width="0.06">5970</text>
<line x1="52.4" y1="474.4" x2="52.4" y2="476.4" stroke="#222" stroke-width="0.8" />
<text x="54.8" y="481.4" font-size="5.9" fill="#333" text-anchor="end" transform="rotate(-45 54.8 481.4)" stroke="#333" stroke-width="0.06">MACS</text>
<line x1="72.6" y1="474.4" x2="72.6" y2="476.4" stroke="#222" stroke-width="0.8" />
<text x="75.0" y="481.4" font-size="5.9" fill="#333" text-anchor="end" transform="rotate(-45 75.0 481.4)" stroke="#333" stroke-width="0.06">1x co-culture</text>
<line x1="92.6" y1="474.4" x2="92.6" y2="476.4" stroke="#222" stroke-width="0.8" />
<text x="95.0" y="481.4" font-size="5.9" fill="#333" text-anchor="end" transform="rotate(-45 95.0 481.4)" stroke="#333" stroke-width="0.06">2x co-culture</text>
<rect x="0.5" y="0.5" width="519" height="513" fill="none" stroke="#6a6a6a" stroke-width="1"/>
</svg></body></html>
